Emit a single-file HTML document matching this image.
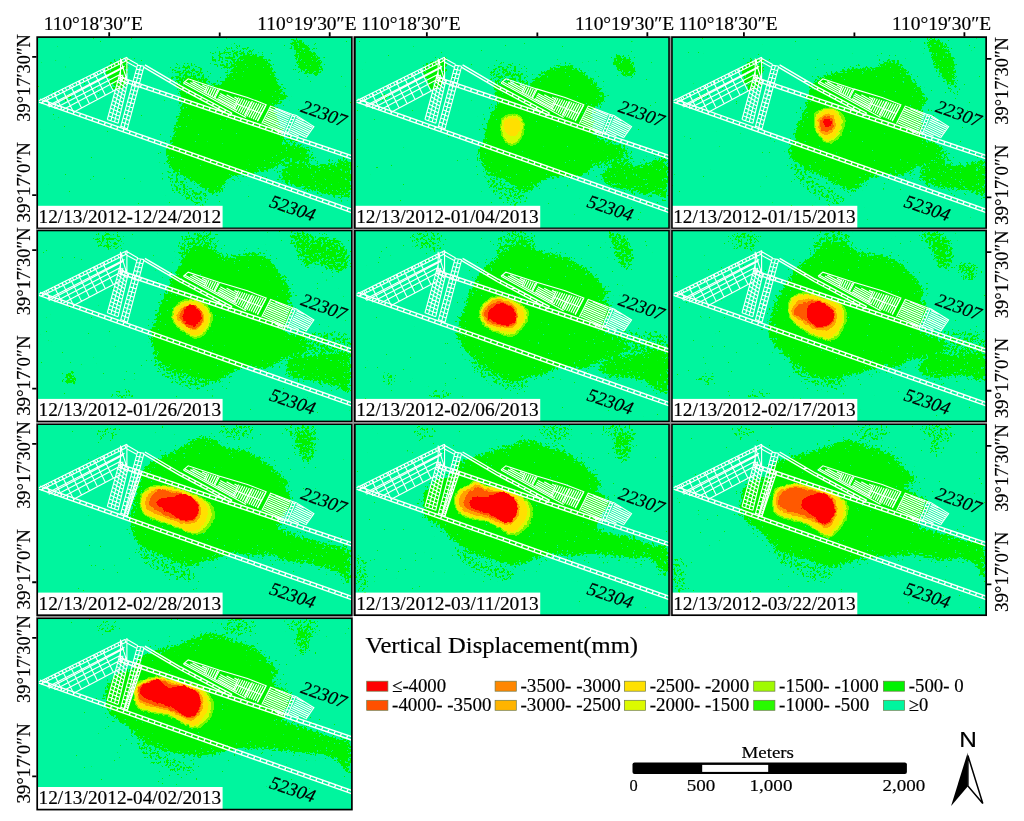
<!DOCTYPE html><html><head><meta charset="utf-8"><title>Vertical Displacement</title>
<style>html,body{margin:0;padding:0;background:#fff}svg{display:block}text{font-family:'Liberation Serif','Times New Roman',serif;fill:#000;stroke:#000;stroke-width:.18px}</style></head><body>
<svg width="1024" height="821" viewBox="0 0 1024 821">
<defs>
<filter id="fg" x="-10%" y="-10%" width="120%" height="120%" color-interpolation-filters="sRGB"><feGaussianBlur in="SourceAlpha" stdDeviation="1.4" result="b1"/><feGaussianBlur in="SourceAlpha" stdDeviation="7" result="b2"/><feComposite in="b1" in2="b2" operator="arithmetic" k1="0" k2="0.5" k3="0.5" k4="0" result="b"/><feTurbulence type="fractalNoise" baseFrequency="0.42" numOctaves="3" seed="7" result="n"/><feComposite in="b" in2="n" operator="arithmetic" k1="0" k2="1" k3="1.5" k4="-0.75" result="m"/><feColorMatrix in="m" type="matrix" values="0 0 0 0 0 0 0 0 0 0.95 0 0 0 0 0 0 0 0 40 -20"/></filter>
<filter id="flime" x="-10%" y="-10%" width="120%" height="120%" color-interpolation-filters="sRGB"><feGaussianBlur in="SourceAlpha" stdDeviation="1.1" result="b"/><feTurbulence type="fractalNoise" baseFrequency="0.3" numOctaves="3" seed="11" result="n"/><feComposite in="b" in2="n" operator="arithmetic" k1="0" k2="1" k3="1.0" k4="-0.5" result="m"/><feColorMatrix in="m" type="matrix" values="0 0 0 0 0.47 0 0 0 0 0.97 0 0 0 0 0 0 0 0 40 -20"/></filter>
<filter id="fyel" x="-10%" y="-10%" width="120%" height="120%" color-interpolation-filters="sRGB"><feGaussianBlur in="SourceAlpha" stdDeviation="1.1" result="b"/><feTurbulence type="fractalNoise" baseFrequency="0.3" numOctaves="3" seed="11" result="n"/><feComposite in="b" in2="n" operator="arithmetic" k1="0" k2="1" k3="1.0" k4="-0.5" result="m"/><feColorMatrix in="m" type="matrix" values="0 0 0 0 1 0 0 0 0 0.88 0 0 0 0 0 0 0 0 40 -20"/></filter>
<filter id="fora" x="-10%" y="-10%" width="120%" height="120%" color-interpolation-filters="sRGB"><feGaussianBlur in="SourceAlpha" stdDeviation="1.1" result="b"/><feTurbulence type="fractalNoise" baseFrequency="0.3" numOctaves="3" seed="11" result="n"/><feComposite in="b" in2="n" operator="arithmetic" k1="0" k2="1" k3="1.0" k4="-0.5" result="m"/><feColorMatrix in="m" type="matrix" values="0 0 0 0 1 0 0 0 0 0.63 0 0 0 0 0 0 0 0 40 -20"/></filter>
<filter id="fore" x="-10%" y="-10%" width="120%" height="120%" color-interpolation-filters="sRGB"><feGaussianBlur in="SourceAlpha" stdDeviation="1.1" result="b"/><feTurbulence type="fractalNoise" baseFrequency="0.3" numOctaves="3" seed="11" result="n"/><feComposite in="b" in2="n" operator="arithmetic" k1="0" k2="1" k3="1.0" k4="-0.5" result="m"/><feColorMatrix in="m" type="matrix" values="0 0 0 0 1 0 0 0 0 0.35 0 0 0 0 0 0 0 0 40 -20"/></filter>
<filter id="fred" x="-10%" y="-10%" width="120%" height="120%" color-interpolation-filters="sRGB"><feGaussianBlur in="SourceAlpha" stdDeviation="1.1" result="b"/><feTurbulence type="fractalNoise" baseFrequency="0.3" numOctaves="3" seed="11" result="n"/><feComposite in="b" in2="n" operator="arithmetic" k1="0" k2="1" k3="1.0" k4="-0.5" result="m"/><feColorMatrix in="m" type="matrix" values="0 0 0 0 1 0 0 0 0 0 0 0 0 0 0 0 0 0 40 -20"/></filter>
<filter id="fygr" x="-10%" y="-10%" width="120%" height="120%" color-interpolation-filters="sRGB"><feGaussianBlur in="SourceAlpha" stdDeviation="1.1" result="b"/><feTurbulence type="fractalNoise" baseFrequency="0.3" numOctaves="3" seed="11" result="n"/><feComposite in="b" in2="n" operator="arithmetic" k1="0" k2="1" k3="1.0" k4="-0.5" result="m"/><feColorMatrix in="m" type="matrix" values="0 0 0 0 0.86 0 0 0 0 0.98 0 0 0 0 0 0 0 0 40 -20"/></filter>
</defs>
<rect width="1024" height="821" fill="#fff"/>
<clipPath id="c0"><rect x="37.2" y="37.1" width="314.7" height="191.3"/></clipPath>
<g clip-path="url(#c0)">
<rect x="37.2" y="37.1" width="314.7" height="191.3" fill="#00f59e"/>
<g filter="url(#fg)" fill="#00f200">
<path d="M182.97 78.96C186.3 76.46 194.46 79.79 199.95 80.96C205.44 82.12 210.94 87.12 215.93 85.95C220.93 84.78 226.26 77.96 229.92 73.96C233.58 69.97 235.25 64.97 237.91 61.97C240.58 58.98 242.91 57.31 245.9 55.98C248.9 54.65 252.56 53.65 255.89 53.98C259.22 54.32 263.22 55.65 265.88 57.98C268.55 60.31 269.88 63.97 271.88 67.97C273.88 71.96 275.87 77.96 277.87 81.95C279.87 85.95 282.2 89.61 283.87 91.94C285.53 94.28 288.2 94.28 287.86 95.94C287.53 97.61 284.2 100.44 281.87 101.93C279.54 103.43 274.54 101.93 273.88 104.93C273.21 107.93 276.54 114.75 277.87 119.92C279.2 125.08 281.87 131.9 281.87 135.9C281.87 139.9 276.54 141.89 277.87 143.89C279.2 145.89 285.86 147.22 289.86 147.89C293.86 148.55 298.85 146.89 301.85 147.89C304.85 148.89 307.84 151.88 307.84 153.88C307.84 155.88 304.85 159.21 301.85 159.88C298.85 160.54 293.52 157.88 289.86 157.88C286.2 157.88 282.53 158.21 279.87 159.88C277.21 161.54 276.87 165.87 273.88 167.87C270.88 169.87 265.88 170.87 261.89 171.86C257.89 172.86 254.56 173.2 249.9 173.86C245.24 174.53 237.91 174.53 233.92 175.86C229.92 177.19 228.26 179.19 225.92 181.85C223.59 184.52 222.26 189.85 219.93 191.84C217.6 193.84 214.6 194.51 211.94 193.84C209.27 193.18 207.61 190.18 203.95 187.85C200.28 185.52 194.62 182.52 189.96 179.86C185.3 177.19 179.64 174.86 175.97 171.86C172.31 168.87 169.65 165.2 167.98 161.87C166.32 158.54 165.32 155.55 165.98 151.88C166.65 148.22 170.31 144.56 171.98 139.9C173.64 135.23 174.64 128.57 175.97 123.91C177.31 119.25 178.97 115.25 179.97 111.92C180.97 108.59 181.97 106.6 181.97 103.93C181.97 101.27 179.8 100.1 179.97 95.94C180.14 91.78 179.64 81.45 182.97 78.96Z"/>
<path d="M106.3 67.25C109.17 63.61 122.95 57.9 126.6 57.9C130.25 57.9 128.72 62.3 128.2 67.25C127.68 72.2 125.85 83.96 123.5 87.6C121.15 91.24 116.45 90.41 114.1 89.1C111.75 87.79 110.7 83.39 109.4 79.75C108.1 76.11 103.43 70.89 106.3 67.25Z"/>
<path d="M62 97C62.67 95.83 68.17 93.67 70 93.5C71.83 93.33 73.67 94.83 73 96C72.33 97.17 67.83 100.33 66 100.5C64.17 100.67 61.33 98.17 62 97Z"/>
<path fill-opacity="0.52" d="M172.64 67.05C176.26 62.91 191.27 60.84 197.48 63.95C203.7 67.05 209.91 79.99 209.91 85.69C209.91 91.38 203.18 97.59 197.48 98.11C191.79 98.63 179.89 93.97 175.75 88.79C171.61 83.62 169.02 71.2 172.64 67.05Z"/>
<path fill-opacity="0.5" d="M253.38 138.48C257.01 134.34 272.53 134.34 281.33 135.38C290.13 136.41 300.48 140.55 306.18 144.69C311.87 148.83 319.12 156.6 315.49 160.22C311.87 163.84 293.75 166.43 284.44 166.43C275.12 166.43 264.77 164.88 259.59 160.22C254.42 155.56 249.76 142.62 253.38 138.48Z"/>
<path fill-opacity="0.5" d="M166.43 166.43C167.98 164.88 174.71 176.78 181.96 181.96C189.2 187.13 207.32 193.6 209.91 197.48C212.49 201.37 203.7 206.28 197.48 205.25C191.27 204.21 177.82 197.74 172.64 191.27C167.46 184.8 164.88 167.98 166.43 166.43Z"/>
<path fill-opacity="0.48" d="M209.91 54.63C212.49 50.49 227.5 46.35 234.75 45.32C242 44.28 252.35 45.32 253.38 48.42C254.42 51.53 246.65 60.33 240.96 63.95C235.27 67.57 224.4 71.71 219.22 70.16C214.05 68.61 207.32 58.77 209.91 54.63Z"/>
<path fill-opacity="0.97" d="M289.86 40C290.53 38.16 294.86 38 297.85 39C300.85 40 304.85 43.49 307.84 45.99C310.84 48.49 313.5 51.32 315.83 53.98C318.17 56.65 320.83 59.31 321.83 61.97C322.83 64.64 322.83 67.64 321.83 69.97C320.83 72.3 318.17 75.29 315.83 75.96C313.5 76.63 310.51 74.96 307.84 73.96C305.18 72.96 301.68 72.3 299.85 69.97C298.02 67.64 297.85 63.31 296.85 59.98C295.85 56.65 295.02 53.32 293.86 49.99C292.69 46.66 289.19 41.83 289.86 40Z"/>
<path fill-opacity="0.93" d="M279.87 173.86C280.87 171.2 286.2 167.54 289.86 165.87C293.52 164.21 297.52 163.87 301.85 163.87C306.18 163.87 311.17 165.87 315.83 165.87C320.5 165.87 325.49 164.87 329.82 163.87C334.15 162.87 338.31 159.88 341.81 159.88C345.3 159.88 349.3 157.88 350.8 163.87C352.3 169.87 352.96 190.51 350.8 195.84C348.63 201.17 342.31 196.17 337.81 195.84C333.32 195.51 328.49 194.84 323.83 193.84C319.16 192.84 314.84 191.18 309.84 189.85C304.85 188.51 298.19 187.18 293.86 185.85C289.53 184.52 286.2 183.85 283.87 181.85C281.54 179.86 278.87 176.53 279.87 173.86Z"/>
</g>
<g fill="none" stroke="#fff" transform="translate(0 0)"><path stroke-width="1.4" d="M38.97 102.09L351.47 212.55M40.03 99.07L352.53 209.54M42.08 103.19L43.14 100.17M48.3 105.38L49.37 102.37M54.52 107.58L55.59 104.57M60.75 109.78L61.81 106.77M66.97 111.98L68.04 108.97M73.19 114.18L74.26 111.17M79.41 116.38L80.48 113.37M85.64 118.58L86.7 115.57M91.86 120.78L92.93 117.77M98.08 122.98L99.15 119.97M104.3 125.18L105.37 122.17M110.53 127.38L111.59 124.36M116.75 129.58L117.82 126.56M122.97 131.78L124.04 128.76M129.2 133.98L130.26 130.96M135.42 136.18L136.48 133.16M141.64 138.38L142.71 135.36M147.86 140.58L148.93 137.56M154.09 142.78L155.15 139.76M160.31 144.98L161.37 141.96M166.53 147.18L167.6 144.16M172.75 149.38L173.82 146.36M178.98 151.58L180.04 148.56M185.2 153.78L186.27 150.76M191.42 155.98L192.49 152.96M197.64 158.18L198.71 155.16M203.87 160.38L204.93 157.36M210.09 162.58L211.16 159.56M216.31 164.78L217.38 161.76M222.53 166.98L223.6 163.96M228.76 169.18L229.82 166.16M234.98 171.38L236.05 168.36M241.2 173.58L242.27 170.56M247.43 175.78L248.49 172.76M253.65 177.98L254.71 174.96M259.87 180.17L260.94 177.16M266.09 182.37L267.16 179.36M272.32 184.57L273.38 181.56M278.54 186.77L279.61 183.76M284.76 188.97L285.83 185.96M290.98 191.17L292.05 188.16M297.21 193.37L298.27 190.36M303.43 195.57L304.5 192.56M309.65 197.77L310.72 194.76M315.87 199.97L316.94 196.96M322.1 202.17L323.16 199.15M328.32 204.37L329.39 201.35M334.54 206.57L335.61 203.55M340.76 208.77L341.83 205.75M346.99 210.97L348.05 207.95M118.49 79.93L351.49 158.91M119.51 76.9L352.51 155.88M121.61 80.99L122.64 77.96M127.86 83.1L128.89 80.07M134.11 85.22L135.14 82.19M140.36 87.34L141.39 84.31M146.61 89.46L147.64 86.43M152.86 91.58L153.89 88.55M159.12 93.7L160.14 90.67M165.37 95.82L166.39 92.79M171.62 97.94L172.64 94.91M177.87 100.06L178.89 97.03M184.12 102.18L185.15 99.14M190.37 104.29L191.4 101.26M196.62 106.41L197.65 103.38M202.87 108.53L203.9 105.5M209.12 110.65L210.15 107.62M215.37 112.77L216.4 109.74M221.62 114.89L222.65 111.86M227.87 117.01L228.9 113.98M234.12 119.13L235.15 116.1M240.37 121.25L241.4 118.22M246.62 123.36L247.65 120.33M252.87 125.48L253.9 122.45M259.12 127.6L260.15 124.57M265.38 129.72L266.4 126.69M271.63 131.84L272.65 128.81M277.88 133.96L278.9 130.93M284.13 136.08L285.15 133.05M290.38 138.2L291.41 135.17M296.63 140.32L297.66 137.29M302.88 142.44L303.91 139.4M309.13 144.55L310.16 141.52M315.38 146.67L316.41 143.64M321.63 148.79L322.66 145.76M327.88 150.91L328.91 147.88M334.13 153.03L335.16 150M340.38 155.15L341.41 152.12M346.63 157.27L347.66 154.24M143.69 67.03L179.39 88.03M144.91 64.97L180.61 85.97M169.55 82.24L170.77 80.18M179.39 88.15L230.89 115.55M180.61 85.85L232.11 113.25M182.39 89.74L183.61 87.45M188.39 92.94L189.62 90.64M194.4 96.13L195.62 93.84M200.4 99.33L201.62 97.03M206.4 102.52L207.63 100.23M212.41 105.71L213.63 103.42M218.41 108.91L219.63 106.61M224.41 112.1L225.63 109.81M230.42 115.3L231.64 113"/><path stroke-width="1.1" d="M38.9 100.8L126.8 57.3M40.9 103.2L127.3 60.3M48.7 107.1L123.9 67.6M54.6 108.6L121 73.9M62.4 110.1L118 80.3M73.1 112.5L119 88.1M47.5 106L124.5 66.2M46.07 97.25L49.65 104.48M54.14 93.26L61.73 108.61M62.2 89.27L73.57 112.25M70.27 85.28L81.53 108.02M78.34 81.28L89.48 103.8M86.4 77.29L97.43 99.57M94.47 73.3L105.38 95.34M102.53 69.31L113.33 91.12M44.17 98.19L46.08 100.63M47.69 96.45L49.54 98.91M51.21 94.71L53 97.19M54.72 92.97L56.45 95.48M58.24 91.23L59.91 93.76M61.75 89.49L63.36 92.05M65.27 87.75L66.82 90.33M68.79 86.01L70.28 88.61M72.3 84.27L73.73 86.9M75.82 82.53L77.19 85.18M79.33 80.79L80.64 83.47M82.85 79.05L84.1 81.75M86.37 77.31L87.56 80.03M89.88 75.57L91.01 78.32M93.4 73.83L94.47 76.6M96.91 72.09L97.92 74.89M100.43 70.35L101.38 73.17M103.95 68.61L104.84 71.45M107.46 66.87L108.29 69.74M110.98 65.13L111.75 68.02M114.49 63.39L115.2 66.31M118.01 61.65L118.66 64.59M121.53 59.91L122.12 62.87M125.04 58.17L125.57 61.16M120.5 58.5L120.5 82M126.9 57L126.9 80M120.5 60L126.9 80M120.3 72L107.3 119.5M123 74.6L110.9 120.77M125.7 77.2L114.5 122.05M128.4 79.8L118.1 123.32M119.78 73.9L127.99 81.54M118.74 77.7L127.16 85.02M117.7 81.5L126.34 88.5M116.66 85.3L125.52 91.98M115.62 89.1L124.69 95.46M114.58 92.9L123.87 98.94M113.54 96.7L123.04 102.42M112.5 100.5L122.22 105.9M111.46 104.3L121.4 109.38M110.42 108.1L120.57 112.86M109.38 111.9L119.75 116.34M108.34 115.7L118.92 119.82M107.3 119.5L118.1 123.3M137.5 65.1L120.5 127.3M144 66.3L127 130.2M140.75 65.7L123.75 128.75M137.5 65.1L144 66.3M136.39 69.16L142.89 70.47M135.28 73.23L141.78 74.65M134.17 77.29L140.67 78.82M133.06 81.35L139.56 83M131.95 85.42L138.45 87.17M130.84 89.48L137.34 91.35M129.73 93.55L136.23 95.52M128.61 97.61L135.11 99.7M127.5 101.67L134 103.87M126.39 105.74L132.89 108.05M125.28 109.8L131.78 112.22M124.17 113.86L130.67 116.4M123.06 117.93L129.56 120.57M121.95 121.99L128.45 124.75M120.84 126.06L127.34 128.92M127.2 58.5L138 64.6M126.9 62L137 67.5M183.4 82.9L188.2 78.8L219 88.9L247.5 97.4L266.2 104.7L257.5 121.3M261.8 123.5L270.6 106.1L291.9 114.2L296.3 115.6L313.9 126.6L305.8 138M183.4 82.9L246 117.5M184.5 81.6L237 110.6M207.3 86L204.6 92.5M219.3 89.6L214.9 97.9M238.6 97.4L233.6 108.6M252.5 101.3L245.2 115.9M235.8 103.6L248.6 108.6M249.2 108.9L261.6 113.4M292.72 114.22L284.42 134.02M295.48 115.38L287.18 135.18M292.06 115.79L294.83 116.95M290.74 118.92L293.51 120.08M289.43 122.06L292.2 123.22M288.12 125.19L290.88 126.35M286.8 128.33L289.57 129.49M285.49 131.47L288.25 132.63"/><path stroke-width="1.2" d="M202.17 84.81L206.62 87.27M192.52 81.63L205.85 89.02M205.08 90.76L190.3 82.57M209.01 86.75L205.92 93.07M211.23 87.44L207.97 94.13M213.45 88.13L210.01 95.18M215.67 88.82L212.06 96.24M217.89 89.52L214.1 97.29M234.47 97.01L238 98.96M226.62 94.83L237.2 100.69M236.39 102.42L220.21 93.45M235.59 104.15L219.28 95.1M234.79 105.87L218.35 96.76M233.99 107.6L217.42 98.42M240.42 98.15L234.51 109.26M242.66 98.84L236.48 110.46M244.89 99.53L238.44 111.66M247.13 100.22L240.41 112.85M249.37 100.92L242.38 114.05M251.6 101.61L244.35 115.25M254.33 102.22L246.74 116.5M256.6 102.85L248.88 117.37M258.87 103.48L251.03 118.24M261.14 104.11L253.17 119.1M263.41 104.74L255.31 119.97M265.68 105.37L257.46 120.84M275.13 108.43L290.64 115.33M289.91 117.2L270.04 108.35M289.18 119.06L269.16 110.15M288.45 120.93L268.27 111.94M287.73 122.79L267.39 113.74M287 124.66L266.51 115.54M286.27 126.52L265.63 117.33M285.54 128.39L264.74 119.13M284.82 130.26L263.86 120.93M284.09 132.12L262.98 122.72M283.36 133.99L275.05 130.29M303.93 120.94L296.46 117.3M312.59 127.39L295.58 119.1M311.45 129.06L294.7 120.89M310.31 130.73L293.83 122.69M309.17 132.4L292.95 124.49M308.02 134.06L292.07 126.28M306.88 135.73L291.19 128.08M305.74 137.4L290.31 129.88M298.9 136.29L289.43 131.67M291.29 134.8L288.56 133.47"/></g>
<text font-style="italic" font-size="18.8" stroke="#000" stroke-width="0.25" transform="translate(299.7 111.4) rotate(19.8)" textLength="47" lengthAdjust="spacingAndGlyphs">22307</text>
<text font-style="italic" font-size="18.8" stroke="#000" stroke-width="0.25" transform="translate(268.4 206.6) rotate(18.6)" textLength="47" lengthAdjust="spacingAndGlyphs">52304</text>
<rect x="37.2" y="205.8" width="185.4" height="22.6" fill="#fff"/>
<text x="38.5" y="223.2" font-size="19" stroke="#000" stroke-width="0.2" textLength="182.6" lengthAdjust="spacingAndGlyphs">12/13/2012-12/24/2012</text>
</g>
<rect x="37.2" y="37.1" width="314.7" height="191.3" fill="none" stroke="#000" stroke-width="1.7"/>
<clipPath id="c1"><rect x="354.85" y="37.1" width="314.25" height="191.3"/></clipPath>
<g clip-path="url(#c1)">
<rect x="354.85" y="37.1" width="314.25" height="191.3" fill="#00f59e"/>
<g filter="url(#fg)" fill="#00f200">
<path d="M497.14 84.04C499.65 82.6 505.41 83.32 510.08 84.04C514.75 84.76 520.86 89.43 525.18 88.35C529.49 87.27 532.73 80.44 535.96 77.57C539.2 74.69 541.35 72.9 544.59 71.1C547.82 69.3 551.42 67.86 555.37 66.78C559.33 65.71 564 63.91 568.31 64.63C572.63 65.35 577.3 68.58 581.25 71.1C585.21 73.61 588.8 76.49 592.04 79.73C595.27 82.96 598.51 87.27 600.67 90.51C602.82 93.75 604.98 96.62 604.98 99.14C604.98 101.65 602.82 103.81 600.67 105.61C598.51 107.41 593.12 106.69 592.04 109.92C590.96 113.16 593.48 120.35 594.2 125.02C594.92 129.69 594.56 135.08 596.35 137.96C598.15 140.84 601.39 140.84 604.98 142.27C608.58 143.71 614.69 145.15 617.92 146.59C621.16 148.03 624.39 149.1 624.39 150.9C624.39 152.7 621.16 155.93 617.92 157.37C614.69 158.81 608.93 158.45 604.98 159.53C601.03 160.61 597.07 161.69 594.2 163.84C591.32 166 590.96 170.31 587.73 172.47C584.49 174.63 579.82 176.07 574.78 176.78C569.75 177.5 562.56 176.42 557.53 176.78C552.5 177.14 548.18 177.5 544.59 178.94C540.99 180.38 538.84 183.25 535.96 185.41C533.08 187.57 530.21 191.16 527.33 191.88C524.46 192.6 521.94 191.52 518.71 189.73C515.47 187.93 512.24 183.61 507.92 181.1C503.61 178.58 497.14 177.5 492.82 174.63C488.51 171.75 484.56 167.44 482.04 163.84C479.52 160.25 477.73 156.65 477.73 153.06C477.73 149.46 480.6 146.59 482.04 142.27C483.48 137.96 484.92 131.85 486.35 127.18C487.79 122.5 488.87 118.19 490.67 114.24C492.46 110.28 496.42 107.05 497.14 103.45C497.86 99.86 494.98 95.9 494.98 92.67C494.98 89.43 494.62 85.48 497.14 84.04Z"/>
<path d="M423.95 67.25C426.82 63.61 440.6 57.9 444.25 57.9C447.9 57.9 446.37 62.3 445.85 67.25C445.33 72.2 443.5 83.96 441.15 87.6C438.8 91.24 434.1 90.41 431.75 89.1C429.4 87.79 428.35 83.39 427.05 79.75C425.75 76.11 421.08 70.89 423.95 67.25Z"/>
<path d="M379.65 97C380.32 95.83 385.82 93.67 387.65 93.5C389.48 93.33 391.32 94.83 390.65 96C389.98 97.17 385.48 100.33 383.65 100.5C381.82 100.67 378.98 98.17 379.65 97Z"/>
<path fill-opacity="0.52" d="M490.64 67.05C494.26 62.91 509.27 60.84 515.48 63.95C521.7 67.05 527.91 79.99 527.91 85.69C527.91 91.38 521.18 97.59 515.48 98.11C509.79 98.63 497.89 93.97 493.75 88.79C489.61 83.62 487.02 71.2 490.64 67.05Z"/>
<path fill-opacity="0.5" d="M571.38 138.48C575.01 134.34 590.53 134.34 599.33 135.38C608.13 136.41 618.48 140.55 624.18 144.69C629.87 148.83 637.12 156.6 633.49 160.22C629.87 163.84 611.75 166.43 602.44 166.43C593.12 166.43 582.77 164.88 577.59 160.22C572.42 155.56 567.76 142.62 571.38 138.48Z"/>
<path fill-opacity="0.5" d="M484.43 166.43C485.98 164.88 492.71 176.78 499.96 181.96C507.2 187.13 525.32 193.6 527.91 197.48C530.49 201.37 521.7 206.28 515.48 205.25C509.27 204.21 495.82 197.74 490.64 191.27C485.46 184.8 482.88 167.98 484.43 166.43Z"/>
<path fill-opacity="0.97" d="M612.53 56C614.15 54.56 620.98 54.92 624.39 56C627.81 57.08 631.22 59.59 633.02 62.47C634.82 65.35 635.9 70.74 635.18 73.25C634.46 75.77 631.22 77.57 628.71 77.57C626.19 77.57 622.42 75.41 620.08 73.25C617.74 71.1 615.94 67.5 614.69 64.63C613.43 61.75 610.91 57.44 612.53 56Z"/>
<path fill-opacity="0.93" d="M600.67 176.78C600.67 173.91 605.34 170.31 609.29 168.16C613.25 166 619.72 164.2 624.39 163.84C629.07 163.48 632.66 166.36 637.33 166C642.01 165.64 647.58 162.76 652.43 161.69C657.28 160.61 664.11 153.42 666.45 159.53C668.79 165.64 668.07 192.6 666.45 198.35C664.83 204.1 660.52 194.76 656.75 194.04C652.97 193.32 648.84 194.76 643.8 194.04C638.77 193.32 632.3 191.16 626.55 189.73C620.8 188.29 613.61 187.57 609.29 185.41C604.98 183.25 600.67 179.66 600.67 176.78Z"/>
</g>
<g filter="url(#flime)" fill="#78f800">
<path d="M501.02 120.71C501.99 118.37 503.18 116.46 505.76 115.31C508.35 114.16 513.67 113.08 516.55 113.8C519.42 114.52 521.69 117.04 523.02 119.63C524.35 122.22 525.07 125.74 524.53 129.33C523.99 132.93 522.01 138.39 519.78 141.2C517.56 144 513.85 146.34 511.16 146.16C508.46 145.98 505.48 142.92 503.61 140.12C501.74 137.31 500.37 132.57 499.94 129.33C499.51 126.1 500.05 123.04 501.02 120.71Z"/>
</g>
<g filter="url(#fygr)" fill="#dcfa00">
<path d="M502.53 120.71C503.39 118.62 504.51 117.69 506.84 116.82C509.18 115.96 514.07 114.88 516.55 115.53C519.03 116.18 520.68 118.41 521.73 120.71C522.77 123.01 523.34 126.17 522.8 129.33C522.26 132.5 520.43 137.24 518.49 139.69C516.55 142.13 513.42 144.14 511.16 144C508.89 143.86 506.48 141.27 504.9 138.82C503.32 136.38 502.06 132.35 501.67 129.33C501.27 126.31 501.67 122.79 502.53 120.71Z"/>
</g>
<g filter="url(#fyel)" fill="#ffe100">
<path d="M504.04 121.78C504.76 120.35 505.91 119.23 507.92 118.55C509.93 117.87 514.14 117.04 516.12 117.69C518.09 118.33 519.14 120.56 519.78 122.43C520.43 124.3 520.54 126.85 520 128.9C519.46 130.95 518.13 133.5 516.55 134.73C514.97 135.95 512.31 136.59 510.51 136.24C508.71 135.88 506.92 134.08 505.76 132.57C504.61 131.06 503.9 128.97 503.61 127.18C503.32 125.38 503.32 123.22 504.04 121.78Z"/>
</g>
<g fill="none" stroke="#fff" transform="translate(317.65 0)"><path stroke-width="1.4" d="M38.97 102.09L351.47 212.55M40.03 99.07L352.53 209.54M42.08 103.19L43.14 100.17M48.3 105.38L49.37 102.37M54.52 107.58L55.59 104.57M60.75 109.78L61.81 106.77M66.97 111.98L68.04 108.97M73.19 114.18L74.26 111.17M79.41 116.38L80.48 113.37M85.64 118.58L86.7 115.57M91.86 120.78L92.93 117.77M98.08 122.98L99.15 119.97M104.3 125.18L105.37 122.17M110.53 127.38L111.59 124.36M116.75 129.58L117.82 126.56M122.97 131.78L124.04 128.76M129.2 133.98L130.26 130.96M135.42 136.18L136.48 133.16M141.64 138.38L142.71 135.36M147.86 140.58L148.93 137.56M154.09 142.78L155.15 139.76M160.31 144.98L161.37 141.96M166.53 147.18L167.6 144.16M172.75 149.38L173.82 146.36M178.98 151.58L180.04 148.56M185.2 153.78L186.27 150.76M191.42 155.98L192.49 152.96M197.64 158.18L198.71 155.16M203.87 160.38L204.93 157.36M210.09 162.58L211.16 159.56M216.31 164.78L217.38 161.76M222.53 166.98L223.6 163.96M228.76 169.18L229.82 166.16M234.98 171.38L236.05 168.36M241.2 173.58L242.27 170.56M247.43 175.78L248.49 172.76M253.65 177.98L254.71 174.96M259.87 180.17L260.94 177.16M266.09 182.37L267.16 179.36M272.32 184.57L273.38 181.56M278.54 186.77L279.61 183.76M284.76 188.97L285.83 185.96M290.98 191.17L292.05 188.16M297.21 193.37L298.27 190.36M303.43 195.57L304.5 192.56M309.65 197.77L310.72 194.76M315.87 199.97L316.94 196.96M322.1 202.17L323.16 199.15M328.32 204.37L329.39 201.35M334.54 206.57L335.61 203.55M340.76 208.77L341.83 205.75M346.99 210.97L348.05 207.95M118.49 79.93L351.49 158.91M119.51 76.9L352.51 155.88M121.61 80.99L122.64 77.96M127.86 83.1L128.89 80.07M134.11 85.22L135.14 82.19M140.36 87.34L141.39 84.31M146.61 89.46L147.64 86.43M152.86 91.58L153.89 88.55M159.12 93.7L160.14 90.67M165.37 95.82L166.39 92.79M171.62 97.94L172.64 94.91M177.87 100.06L178.89 97.03M184.12 102.18L185.15 99.14M190.37 104.29L191.4 101.26M196.62 106.41L197.65 103.38M202.87 108.53L203.9 105.5M209.12 110.65L210.15 107.62M215.37 112.77L216.4 109.74M221.62 114.89L222.65 111.86M227.87 117.01L228.9 113.98M234.12 119.13L235.15 116.1M240.37 121.25L241.4 118.22M246.62 123.36L247.65 120.33M252.87 125.48L253.9 122.45M259.12 127.6L260.15 124.57M265.38 129.72L266.4 126.69M271.63 131.84L272.65 128.81M277.88 133.96L278.9 130.93M284.13 136.08L285.15 133.05M290.38 138.2L291.41 135.17M296.63 140.32L297.66 137.29M302.88 142.44L303.91 139.4M309.13 144.55L310.16 141.52M315.38 146.67L316.41 143.64M321.63 148.79L322.66 145.76M327.88 150.91L328.91 147.88M334.13 153.03L335.16 150M340.38 155.15L341.41 152.12M346.63 157.27L347.66 154.24M143.69 67.03L179.39 88.03M144.91 64.97L180.61 85.97M169.55 82.24L170.77 80.18M179.39 88.15L230.89 115.55M180.61 85.85L232.11 113.25M182.39 89.74L183.61 87.45M188.39 92.94L189.62 90.64M194.4 96.13L195.62 93.84M200.4 99.33L201.62 97.03M206.4 102.52L207.63 100.23M212.41 105.71L213.63 103.42M218.41 108.91L219.63 106.61M224.41 112.1L225.63 109.81M230.42 115.3L231.64 113"/><path stroke-width="1.1" d="M38.9 100.8L126.8 57.3M40.9 103.2L127.3 60.3M48.7 107.1L123.9 67.6M54.6 108.6L121 73.9M62.4 110.1L118 80.3M73.1 112.5L119 88.1M47.5 106L124.5 66.2M46.07 97.25L49.65 104.48M54.14 93.26L61.73 108.61M62.2 89.27L73.57 112.25M70.27 85.28L81.53 108.02M78.34 81.28L89.48 103.8M86.4 77.29L97.43 99.57M94.47 73.3L105.38 95.34M102.53 69.31L113.33 91.12M44.17 98.19L46.08 100.63M47.69 96.45L49.54 98.91M51.21 94.71L53 97.19M54.72 92.97L56.45 95.48M58.24 91.23L59.91 93.76M61.75 89.49L63.36 92.05M65.27 87.75L66.82 90.33M68.79 86.01L70.28 88.61M72.3 84.27L73.73 86.9M75.82 82.53L77.19 85.18M79.33 80.79L80.64 83.47M82.85 79.05L84.1 81.75M86.37 77.31L87.56 80.03M89.88 75.57L91.01 78.32M93.4 73.83L94.47 76.6M96.91 72.09L97.92 74.89M100.43 70.35L101.38 73.17M103.95 68.61L104.84 71.45M107.46 66.87L108.29 69.74M110.98 65.13L111.75 68.02M114.49 63.39L115.2 66.31M118.01 61.65L118.66 64.59M121.53 59.91L122.12 62.87M125.04 58.17L125.57 61.16M120.5 58.5L120.5 82M126.9 57L126.9 80M120.5 60L126.9 80M120.3 72L107.3 119.5M123 74.6L110.9 120.77M125.7 77.2L114.5 122.05M128.4 79.8L118.1 123.32M119.78 73.9L127.99 81.54M118.74 77.7L127.16 85.02M117.7 81.5L126.34 88.5M116.66 85.3L125.52 91.98M115.62 89.1L124.69 95.46M114.58 92.9L123.87 98.94M113.54 96.7L123.04 102.42M112.5 100.5L122.22 105.9M111.46 104.3L121.4 109.38M110.42 108.1L120.57 112.86M109.38 111.9L119.75 116.34M108.34 115.7L118.92 119.82M107.3 119.5L118.1 123.3M137.5 65.1L120.5 127.3M144 66.3L127 130.2M140.75 65.7L123.75 128.75M137.5 65.1L144 66.3M136.39 69.16L142.89 70.47M135.28 73.23L141.78 74.65M134.17 77.29L140.67 78.82M133.06 81.35L139.56 83M131.95 85.42L138.45 87.17M130.84 89.48L137.34 91.35M129.73 93.55L136.23 95.52M128.61 97.61L135.11 99.7M127.5 101.67L134 103.87M126.39 105.74L132.89 108.05M125.28 109.8L131.78 112.22M124.17 113.86L130.67 116.4M123.06 117.93L129.56 120.57M121.95 121.99L128.45 124.75M120.84 126.06L127.34 128.92M127.2 58.5L138 64.6M126.9 62L137 67.5M183.4 82.9L188.2 78.8L219 88.9L247.5 97.4L266.2 104.7L257.5 121.3M261.8 123.5L270.6 106.1L291.9 114.2L296.3 115.6L313.9 126.6L305.8 138M183.4 82.9L246 117.5M184.5 81.6L237 110.6M207.3 86L204.6 92.5M219.3 89.6L214.9 97.9M238.6 97.4L233.6 108.6M252.5 101.3L245.2 115.9M235.8 103.6L248.6 108.6M249.2 108.9L261.6 113.4M292.72 114.22L284.42 134.02M295.48 115.38L287.18 135.18M292.06 115.79L294.83 116.95M290.74 118.92L293.51 120.08M289.43 122.06L292.2 123.22M288.12 125.19L290.88 126.35M286.8 128.33L289.57 129.49M285.49 131.47L288.25 132.63"/><path stroke-width="1.2" d="M202.17 84.81L206.62 87.27M192.52 81.63L205.85 89.02M205.08 90.76L190.3 82.57M209.01 86.75L205.92 93.07M211.23 87.44L207.97 94.13M213.45 88.13L210.01 95.18M215.67 88.82L212.06 96.24M217.89 89.52L214.1 97.29M234.47 97.01L238 98.96M226.62 94.83L237.2 100.69M236.39 102.42L220.21 93.45M235.59 104.15L219.28 95.1M234.79 105.87L218.35 96.76M233.99 107.6L217.42 98.42M240.42 98.15L234.51 109.26M242.66 98.84L236.48 110.46M244.89 99.53L238.44 111.66M247.13 100.22L240.41 112.85M249.37 100.92L242.38 114.05M251.6 101.61L244.35 115.25M254.33 102.22L246.74 116.5M256.6 102.85L248.88 117.37M258.87 103.48L251.03 118.24M261.14 104.11L253.17 119.1M263.41 104.74L255.31 119.97M265.68 105.37L257.46 120.84M275.13 108.43L290.64 115.33M289.91 117.2L270.04 108.35M289.18 119.06L269.16 110.15M288.45 120.93L268.27 111.94M287.73 122.79L267.39 113.74M287 124.66L266.51 115.54M286.27 126.52L265.63 117.33M285.54 128.39L264.74 119.13M284.82 130.26L263.86 120.93M284.09 132.12L262.98 122.72M283.36 133.99L275.05 130.29M303.93 120.94L296.46 117.3M312.59 127.39L295.58 119.1M311.45 129.06L294.7 120.89M310.31 130.73L293.83 122.69M309.17 132.4L292.95 124.49M308.02 134.06L292.07 126.28M306.88 135.73L291.19 128.08M305.74 137.4L290.31 129.88M298.9 136.29L289.43 131.67M291.29 134.8L288.56 133.47"/></g>
<text font-style="italic" font-size="18.8" stroke="#000" stroke-width="0.25" transform="translate(617.35 111.4) rotate(19.8)" textLength="47" lengthAdjust="spacingAndGlyphs">22307</text>
<text font-style="italic" font-size="18.8" stroke="#000" stroke-width="0.25" transform="translate(586.05 206.6) rotate(18.6)" textLength="47" lengthAdjust="spacingAndGlyphs">52304</text>
<rect x="354.85" y="205.8" width="185.4" height="22.6" fill="#fff"/>
<text x="356.15" y="223.2" font-size="19" stroke="#000" stroke-width="0.2" textLength="182.6" lengthAdjust="spacingAndGlyphs">12/13/2012-01/04/2013</text>
</g>
<rect x="354.85" y="37.1" width="314.25" height="191.3" fill="none" stroke="#000" stroke-width="1.7"/>
<clipPath id="c2"><rect x="671.9" y="37.1" width="314.25" height="191.3"/></clipPath>
<g clip-path="url(#c2)">
<rect x="671.9" y="37.1" width="314.25" height="191.3" fill="#00f59e"/>
<g filter="url(#fg)" fill="#00f200">
<path d="M809.82 87.76C811.98 83.81 816.29 79.5 820.61 76.98C824.92 74.46 830.67 74.1 835.71 72.67C840.74 71.23 845.77 69.07 850.8 68.35C855.84 67.63 861.23 68.71 865.9 68.35C870.58 67.99 874.53 67.63 878.84 66.2C883.16 64.76 888.19 60.08 891.78 59.73C895.38 59.37 897.54 61.52 900.41 64.04C903.29 66.56 906.16 71.23 909.04 74.82C911.92 78.42 915.15 82.37 917.67 85.61C920.18 88.84 922.7 91.72 924.14 94.24C925.58 96.75 926.65 98.55 926.29 100.71C925.93 102.86 922.7 103.58 921.98 107.18C921.26 110.77 921.98 116.88 921.98 122.27C921.98 127.67 919.82 135.93 921.98 139.53C924.14 143.12 931.69 142.05 934.92 143.84C938.16 145.64 941.03 147.8 941.39 150.31C941.75 152.83 939.59 156.78 937.08 158.94C934.56 161.1 929.53 162.18 926.29 163.25C923.06 164.33 920.54 163.97 917.67 165.41C914.79 166.85 912.63 170.08 909.04 171.88C905.44 173.68 900.41 175.84 896.1 176.2C891.78 176.56 887.11 174.04 883.16 174.04C879.2 174.04 875.61 174.76 872.37 176.2C869.14 177.63 866.98 180.15 863.75 182.67C860.51 185.18 856.56 190.58 852.96 191.29C849.37 192.01 845.41 188.42 842.18 186.98C838.94 185.54 836.78 184.46 833.55 182.67C830.31 180.87 827.08 178.35 822.76 176.2C818.45 174.04 812.34 172.24 807.67 169.73C802.99 167.21 797.96 164.33 794.73 161.1C791.49 157.86 788.25 153.91 788.25 150.31C788.25 146.72 793.29 143.48 794.73 139.53C796.16 135.58 795.44 130.9 796.88 126.59C798.32 122.27 801.56 117.96 803.35 113.65C805.15 109.33 806.59 105.02 807.67 100.71C808.75 96.39 807.67 91.72 809.82 87.76Z"/>
<path d="M741 67.25C743.87 63.61 757.65 57.9 761.3 57.9C764.95 57.9 763.42 62.3 762.9 67.25C762.38 72.2 760.55 83.96 758.2 87.6C755.85 91.24 751.15 90.41 748.8 89.1C746.45 87.79 745.4 83.39 744.1 79.75C742.8 76.11 738.13 70.89 741 67.25Z"/>
<path d="M696.7 97C697.37 95.83 702.87 93.67 704.7 93.5C706.53 93.33 708.37 94.83 707.7 96C707.03 97.17 702.53 100.33 700.7 100.5C698.87 100.67 696.03 98.17 696.7 97Z"/>
<path fill-opacity="0.5" d="M888.38 138.48C892.01 134.34 907.53 134.34 916.33 135.38C925.13 136.41 935.48 140.55 941.18 144.69C946.87 148.83 954.12 156.6 950.49 160.22C946.87 163.84 928.75 166.43 919.44 166.43C910.12 166.43 899.77 164.88 894.59 160.22C889.42 155.56 884.76 142.62 888.38 138.48Z"/>
<path fill-opacity="0.5" d="M789.01 160.22C791.6 159.7 807.64 175.75 816.96 181.96C826.27 188.17 842.32 193.6 844.91 197.48C847.49 201.37 839.73 207.32 832.48 205.25C825.24 203.18 808.68 192.57 801.43 185.06C794.18 177.56 786.42 160.74 789.01 160.22Z"/>
<path fill-opacity="0.48" d="M950.49 76.37C952.56 75.85 959.03 82.06 959.81 85.69C960.58 89.31 957.22 97.59 955.15 98.11C953.08 98.63 948.16 92.42 947.39 88.79C946.61 85.17 948.42 76.89 950.49 76.37Z"/>
<path fill-opacity="0.97" d="M926.29 40.31C927.37 37.8 933.48 36.72 937.08 38.16C940.67 39.59 944.99 44.99 947.86 48.94C950.74 52.9 953.08 57.21 954.33 61.88C955.59 66.56 956.13 73.39 955.41 76.98C954.69 80.58 952.36 83.45 950.02 83.45C947.68 83.45 943.91 79.86 941.39 76.98C938.88 74.1 936.72 70.15 934.92 66.2C933.12 62.24 932.05 57.57 930.61 53.25C929.17 48.94 925.22 42.83 926.29 40.31Z"/>
<path fill-opacity="0.93" d="M919.82 174.04C920.54 171.16 924.5 167.21 928.45 165.41C932.41 163.61 938.88 163.25 943.55 163.25C948.22 163.25 951.82 165.41 956.49 165.41C961.16 165.41 966.92 163.97 971.59 163.25C976.26 162.54 982.37 155.71 984.53 161.1C986.69 166.49 986.69 190.58 984.53 195.61C982.37 200.64 976.26 192.37 971.59 191.29C966.92 190.22 961.88 189.86 956.49 189.14C951.1 188.42 944.63 188.06 939.24 186.98C933.84 185.9 927.37 184.82 924.14 182.67C920.9 180.51 919.1 176.92 919.82 174.04Z"/>
</g>
<g filter="url(#flime)" fill="#78f800">
<path d="M814.14 115.8C815.04 112.21 817.73 110.77 820.61 109.33C823.48 107.9 828.16 106.82 831.39 107.18C834.63 107.54 837.68 109.33 840.02 111.49C842.36 113.65 844.87 116.88 845.41 120.12C845.95 123.35 844.51 127.67 843.25 130.9C842 134.14 840.2 137.37 837.86 139.53C835.53 141.69 831.93 143.84 829.24 143.84C826.54 143.84 824.02 141.69 821.69 139.53C819.35 137.37 816.47 134.86 815.22 130.9C813.96 126.95 813.24 119.4 814.14 115.8Z"/>
</g>
<g filter="url(#fygr)" fill="#dcfa00">
<path d="M815.22 116.88C816.19 113.75 818.92 111.78 821.69 110.41C824.45 109.05 828.84 108.08 831.82 108.69C834.81 109.3 837.75 111.63 839.59 114.08C841.42 116.52 842.68 120.55 842.82 123.35C842.97 126.16 841.57 128.49 840.45 130.9C839.34 133.31 838.19 136.01 836.14 137.8C834.09 139.6 830.67 141.76 828.16 141.69C825.64 141.61 823.09 139.46 821.04 137.37C818.99 135.29 816.83 132.59 815.86 129.18C814.89 125.76 814.25 120.01 815.22 116.88Z"/>
</g>
<g filter="url(#fyel)" fill="#ffe100">
<path d="M816.29 117.96C817.3 115.26 820.07 112.75 822.76 111.49C825.46 110.23 829.77 109.51 832.47 110.41C835.17 111.31 837.68 114.19 838.94 116.88C840.2 119.58 840.74 123.35 840.02 126.59C839.3 129.82 836.78 134.14 834.63 136.29C832.47 138.45 829.42 139.71 827.08 139.53C824.74 139.35 822.33 137.19 820.61 135.22C818.88 133.24 817.44 130.54 816.73 127.67C816.01 124.79 815.29 120.66 816.29 117.96Z"/>
</g>
<g filter="url(#fora)" fill="#ffa000">
<path d="M818.45 120.12C819.28 117.96 821.69 115.8 823.84 114.73C826 113.65 829.49 112.75 831.39 113.65C833.3 114.55 834.74 117.6 835.27 120.12C835.81 122.63 835.63 126.41 834.63 128.75C833.62 131.08 831.21 133.24 829.24 134.14C827.26 135.04 824.49 135.22 822.76 134.14C821.04 133.06 819.6 130 818.88 127.67C818.16 125.33 817.62 122.27 818.45 120.12Z"/>
</g>
<g filter="url(#fore)" fill="#ff5a00">
<path d="M819.53 121.2C820.07 118.86 822.94 117.6 824.92 116.88C826.9 116.16 829.95 115.98 831.39 116.88C832.83 117.78 833.37 120.3 833.55 122.27C833.73 124.25 833.55 127.13 832.47 128.75C831.39 130.36 828.88 131.62 827.08 131.98C825.28 132.34 822.94 132.7 821.69 130.9C820.43 129.1 818.99 123.53 819.53 121.2Z"/>
</g>
<g filter="url(#fred)" fill="#ff0000">
<path d="M823.84 120.55C824.67 119.36 827.55 117.92 828.8 118.39C830.06 118.86 831.61 121.81 831.39 123.35C831.18 124.9 828.77 127.31 827.51 127.67C826.25 128.03 824.45 126.7 823.84 125.51C823.23 124.32 823.02 121.74 823.84 120.55Z"/>
</g>
<g fill="none" stroke="#fff" transform="translate(634.7 0)"><path stroke-width="1.4" d="M38.97 102.09L351.47 212.55M40.03 99.07L352.53 209.54M42.08 103.19L43.14 100.17M48.3 105.38L49.37 102.37M54.52 107.58L55.59 104.57M60.75 109.78L61.81 106.77M66.97 111.98L68.04 108.97M73.19 114.18L74.26 111.17M79.41 116.38L80.48 113.37M85.64 118.58L86.7 115.57M91.86 120.78L92.93 117.77M98.08 122.98L99.15 119.97M104.3 125.18L105.37 122.17M110.53 127.38L111.59 124.36M116.75 129.58L117.82 126.56M122.97 131.78L124.04 128.76M129.2 133.98L130.26 130.96M135.42 136.18L136.48 133.16M141.64 138.38L142.71 135.36M147.86 140.58L148.93 137.56M154.09 142.78L155.15 139.76M160.31 144.98L161.37 141.96M166.53 147.18L167.6 144.16M172.75 149.38L173.82 146.36M178.98 151.58L180.04 148.56M185.2 153.78L186.27 150.76M191.42 155.98L192.49 152.96M197.64 158.18L198.71 155.16M203.87 160.38L204.93 157.36M210.09 162.58L211.16 159.56M216.31 164.78L217.38 161.76M222.53 166.98L223.6 163.96M228.76 169.18L229.82 166.16M234.98 171.38L236.05 168.36M241.2 173.58L242.27 170.56M247.43 175.78L248.49 172.76M253.65 177.98L254.71 174.96M259.87 180.17L260.94 177.16M266.09 182.37L267.16 179.36M272.32 184.57L273.38 181.56M278.54 186.77L279.61 183.76M284.76 188.97L285.83 185.96M290.98 191.17L292.05 188.16M297.21 193.37L298.27 190.36M303.43 195.57L304.5 192.56M309.65 197.77L310.72 194.76M315.87 199.97L316.94 196.96M322.1 202.17L323.16 199.15M328.32 204.37L329.39 201.35M334.54 206.57L335.61 203.55M340.76 208.77L341.83 205.75M346.99 210.97L348.05 207.95M118.49 79.93L351.49 158.91M119.51 76.9L352.51 155.88M121.61 80.99L122.64 77.96M127.86 83.1L128.89 80.07M134.11 85.22L135.14 82.19M140.36 87.34L141.39 84.31M146.61 89.46L147.64 86.43M152.86 91.58L153.89 88.55M159.12 93.7L160.14 90.67M165.37 95.82L166.39 92.79M171.62 97.94L172.64 94.91M177.87 100.06L178.89 97.03M184.12 102.18L185.15 99.14M190.37 104.29L191.4 101.26M196.62 106.41L197.65 103.38M202.87 108.53L203.9 105.5M209.12 110.65L210.15 107.62M215.37 112.77L216.4 109.74M221.62 114.89L222.65 111.86M227.87 117.01L228.9 113.98M234.12 119.13L235.15 116.1M240.37 121.25L241.4 118.22M246.62 123.36L247.65 120.33M252.87 125.48L253.9 122.45M259.12 127.6L260.15 124.57M265.38 129.72L266.4 126.69M271.63 131.84L272.65 128.81M277.88 133.96L278.9 130.93M284.13 136.08L285.15 133.05M290.38 138.2L291.41 135.17M296.63 140.32L297.66 137.29M302.88 142.44L303.91 139.4M309.13 144.55L310.16 141.52M315.38 146.67L316.41 143.64M321.63 148.79L322.66 145.76M327.88 150.91L328.91 147.88M334.13 153.03L335.16 150M340.38 155.15L341.41 152.12M346.63 157.27L347.66 154.24M143.69 67.03L179.39 88.03M144.91 64.97L180.61 85.97M169.55 82.24L170.77 80.18M179.39 88.15L230.89 115.55M180.61 85.85L232.11 113.25M182.39 89.74L183.61 87.45M188.39 92.94L189.62 90.64M194.4 96.13L195.62 93.84M200.4 99.33L201.62 97.03M206.4 102.52L207.63 100.23M212.41 105.71L213.63 103.42M218.41 108.91L219.63 106.61M224.41 112.1L225.63 109.81M230.42 115.3L231.64 113"/><path stroke-width="1.1" d="M38.9 100.8L126.8 57.3M40.9 103.2L127.3 60.3M48.7 107.1L123.9 67.6M54.6 108.6L121 73.9M62.4 110.1L118 80.3M73.1 112.5L119 88.1M47.5 106L124.5 66.2M46.07 97.25L49.65 104.48M54.14 93.26L61.73 108.61M62.2 89.27L73.57 112.25M70.27 85.28L81.53 108.02M78.34 81.28L89.48 103.8M86.4 77.29L97.43 99.57M94.47 73.3L105.38 95.34M102.53 69.31L113.33 91.12M44.17 98.19L46.08 100.63M47.69 96.45L49.54 98.91M51.21 94.71L53 97.19M54.72 92.97L56.45 95.48M58.24 91.23L59.91 93.76M61.75 89.49L63.36 92.05M65.27 87.75L66.82 90.33M68.79 86.01L70.28 88.61M72.3 84.27L73.73 86.9M75.82 82.53L77.19 85.18M79.33 80.79L80.64 83.47M82.85 79.05L84.1 81.75M86.37 77.31L87.56 80.03M89.88 75.57L91.01 78.32M93.4 73.83L94.47 76.6M96.91 72.09L97.92 74.89M100.43 70.35L101.38 73.17M103.95 68.61L104.84 71.45M107.46 66.87L108.29 69.74M110.98 65.13L111.75 68.02M114.49 63.39L115.2 66.31M118.01 61.65L118.66 64.59M121.53 59.91L122.12 62.87M125.04 58.17L125.57 61.16M120.5 58.5L120.5 82M126.9 57L126.9 80M120.5 60L126.9 80M120.3 72L107.3 119.5M123 74.6L110.9 120.77M125.7 77.2L114.5 122.05M128.4 79.8L118.1 123.32M119.78 73.9L127.99 81.54M118.74 77.7L127.16 85.02M117.7 81.5L126.34 88.5M116.66 85.3L125.52 91.98M115.62 89.1L124.69 95.46M114.58 92.9L123.87 98.94M113.54 96.7L123.04 102.42M112.5 100.5L122.22 105.9M111.46 104.3L121.4 109.38M110.42 108.1L120.57 112.86M109.38 111.9L119.75 116.34M108.34 115.7L118.92 119.82M107.3 119.5L118.1 123.3M137.5 65.1L120.5 127.3M144 66.3L127 130.2M140.75 65.7L123.75 128.75M137.5 65.1L144 66.3M136.39 69.16L142.89 70.47M135.28 73.23L141.78 74.65M134.17 77.29L140.67 78.82M133.06 81.35L139.56 83M131.95 85.42L138.45 87.17M130.84 89.48L137.34 91.35M129.73 93.55L136.23 95.52M128.61 97.61L135.11 99.7M127.5 101.67L134 103.87M126.39 105.74L132.89 108.05M125.28 109.8L131.78 112.22M124.17 113.86L130.67 116.4M123.06 117.93L129.56 120.57M121.95 121.99L128.45 124.75M120.84 126.06L127.34 128.92M127.2 58.5L138 64.6M126.9 62L137 67.5M183.4 82.9L188.2 78.8L219 88.9L247.5 97.4L266.2 104.7L257.5 121.3M261.8 123.5L270.6 106.1L291.9 114.2L296.3 115.6L313.9 126.6L305.8 138M183.4 82.9L246 117.5M184.5 81.6L237 110.6M207.3 86L204.6 92.5M219.3 89.6L214.9 97.9M238.6 97.4L233.6 108.6M252.5 101.3L245.2 115.9M235.8 103.6L248.6 108.6M249.2 108.9L261.6 113.4M292.72 114.22L284.42 134.02M295.48 115.38L287.18 135.18M292.06 115.79L294.83 116.95M290.74 118.92L293.51 120.08M289.43 122.06L292.2 123.22M288.12 125.19L290.88 126.35M286.8 128.33L289.57 129.49M285.49 131.47L288.25 132.63"/><path stroke-width="1.2" d="M202.17 84.81L206.62 87.27M192.52 81.63L205.85 89.02M205.08 90.76L190.3 82.57M209.01 86.75L205.92 93.07M211.23 87.44L207.97 94.13M213.45 88.13L210.01 95.18M215.67 88.82L212.06 96.24M217.89 89.52L214.1 97.29M234.47 97.01L238 98.96M226.62 94.83L237.2 100.69M236.39 102.42L220.21 93.45M235.59 104.15L219.28 95.1M234.79 105.87L218.35 96.76M233.99 107.6L217.42 98.42M240.42 98.15L234.51 109.26M242.66 98.84L236.48 110.46M244.89 99.53L238.44 111.66M247.13 100.22L240.41 112.85M249.37 100.92L242.38 114.05M251.6 101.61L244.35 115.25M254.33 102.22L246.74 116.5M256.6 102.85L248.88 117.37M258.87 103.48L251.03 118.24M261.14 104.11L253.17 119.1M263.41 104.74L255.31 119.97M265.68 105.37L257.46 120.84M275.13 108.43L290.64 115.33M289.91 117.2L270.04 108.35M289.18 119.06L269.16 110.15M288.45 120.93L268.27 111.94M287.73 122.79L267.39 113.74M287 124.66L266.51 115.54M286.27 126.52L265.63 117.33M285.54 128.39L264.74 119.13M284.82 130.26L263.86 120.93M284.09 132.12L262.98 122.72M283.36 133.99L275.05 130.29M303.93 120.94L296.46 117.3M312.59 127.39L295.58 119.1M311.45 129.06L294.7 120.89M310.31 130.73L293.83 122.69M309.17 132.4L292.95 124.49M308.02 134.06L292.07 126.28M306.88 135.73L291.19 128.08M305.74 137.4L290.31 129.88M298.9 136.29L289.43 131.67M291.29 134.8L288.56 133.47"/></g>
<text font-style="italic" font-size="18.8" stroke="#000" stroke-width="0.25" transform="translate(934.4 111.4) rotate(19.8)" textLength="47" lengthAdjust="spacingAndGlyphs">22307</text>
<text font-style="italic" font-size="18.8" stroke="#000" stroke-width="0.25" transform="translate(903.1 206.6) rotate(18.6)" textLength="47" lengthAdjust="spacingAndGlyphs">52304</text>
<rect x="671.9" y="205.8" width="185.4" height="22.6" fill="#fff"/>
<text x="673.2" y="223.2" font-size="19" stroke="#000" stroke-width="0.2" textLength="182.6" lengthAdjust="spacingAndGlyphs">12/13/2012-01/15/2013</text>
</g>
<rect x="671.9" y="37.1" width="314.25" height="191.3" fill="none" stroke="#000" stroke-width="1.7"/>
<clipPath id="c3"><rect x="37.2" y="230.45" width="314.7" height="191.05"/></clipPath>
<g clip-path="url(#c3)">
<rect x="37.2" y="230.45" width="314.7" height="191.05" fill="#00f59e"/>
<g filter="url(#fg)" fill="#00f200">
<path d="M169.8 282.92C171.6 279.33 174.48 274.29 177.14 269.98C179.8 265.67 182.89 260.63 185.76 257.04C188.64 253.44 191.16 250.21 194.39 248.41C197.63 246.61 201.58 245.54 205.18 246.25C208.77 246.97 212.37 250.93 215.96 252.73C219.56 254.52 222.79 256.68 226.75 257.04C230.7 257.4 235.37 255.6 239.69 254.88C244 254.16 248.31 252.37 252.63 252.73C256.94 253.08 261.97 254.88 265.57 257.04C269.16 259.2 271.32 262.43 274.2 265.67C277.07 268.9 280.31 272.86 282.82 276.45C285.34 280.05 287.86 284 289.29 287.24C290.73 290.47 291.81 293.35 291.45 295.86C291.09 298.38 286.78 300.54 287.14 302.33C287.5 304.13 293.61 303.77 293.61 306.65C293.61 309.52 288.58 315.27 287.14 319.59C285.7 323.9 283.18 329.65 284.98 332.53C286.78 335.41 294.33 335.05 297.92 336.84C301.52 338.64 305.47 340.8 306.55 343.31C307.63 345.83 306.55 349.78 304.39 351.94C302.24 354.1 297.2 355.18 293.61 356.25C290.01 357.33 286.06 356.97 282.82 358.41C279.59 359.85 277.43 363.08 274.2 364.88C270.96 366.68 267.37 368.84 263.41 369.2C259.46 369.56 254.78 367.04 250.47 367.04C246.16 367.04 241.48 367.76 237.53 369.2C233.58 370.63 230.34 373.51 226.75 375.67C223.15 377.82 218.98 381.42 215.96 382.14C212.94 382.86 212.01 381.06 208.63 379.98C205.25 378.9 200 377.1 195.69 375.67C191.37 374.23 187.06 372.79 182.75 371.35C178.43 369.92 173.76 369.2 169.8 367.04C165.85 364.88 161.9 362.01 159.02 358.41C156.14 354.82 153.99 349.78 152.55 345.47C151.11 341.16 150.03 336.48 150.39 332.53C150.75 328.58 153.12 326.42 154.71 321.75C156.29 317.07 157.94 309.52 159.88 304.49C161.82 299.46 164.7 295.14 166.35 291.55C168.01 287.95 168.01 286.52 169.8 282.92Z"/>
<path d="M66.2 373.51C66.92 371.71 69.97 370.81 71.59 371.35C73.21 371.89 75.72 374.77 75.9 376.75C76.08 378.72 74.1 382.32 72.67 383.22C71.23 384.11 68.35 383.75 67.27 382.14C66.2 380.52 65.48 375.31 66.2 373.51Z"/>
<path fill-opacity="0.5" d="M95 233.66C99.14 231.33 118.55 231.07 122.95 233.66C127.35 236.25 125.54 246.86 121.4 249.19C117.26 251.51 102.51 250.22 98.11 247.63C93.71 245.04 90.86 235.99 95 233.66Z"/>
<path fill-opacity="0.52" d="M181.96 235.21C187.65 231.59 207.32 227.45 213.01 232.11C218.71 236.76 219.74 256.95 216.12 263.16C212.49 269.37 197.48 270.92 191.27 269.37C185.06 267.82 180.4 259.54 178.85 253.84C177.3 248.15 176.26 238.83 181.96 235.21Z"/>
<path fill-opacity="0.5" d="M272.02 334.59C278.23 330.96 302.55 331.48 315.49 331.48C328.43 331.48 343.96 329.93 349.65 334.59C355.35 339.24 355.35 356.32 349.65 359.43C343.96 362.54 327.4 354.25 315.49 353.22C303.59 352.18 285.47 356.32 278.23 353.22C270.98 350.11 265.8 338.21 272.02 334.59Z"/>
<path fill-opacity="0.48" d="M113.64 390.48C116.74 389.04 129.16 389.04 132.27 390.48C135.38 391.93 135.38 397.73 132.27 399.18C129.16 400.63 116.74 400.63 113.64 399.18C110.53 397.73 110.53 391.93 113.64 390.48Z"/>
<path fill-opacity="0.48" d="M154.01 347.01C156.6 345.46 166.43 359.95 175.75 365.64C185.06 371.33 206.28 377.03 209.91 381.17C213.53 385.31 205.77 391.52 197.48 390.48C189.2 389.45 167.46 382.2 160.22 374.96C152.97 367.71 151.42 348.56 154.01 347.01Z"/>
<path fill-opacity="0.5" d="M63.95 374.96C65.76 372.89 74.04 371.85 76.37 373.4C78.7 374.96 79.74 382.2 77.92 384.27C76.11 386.34 67.83 387.38 65.5 385.83C63.17 384.27 62.14 377.03 63.95 374.96Z"/>
<path fill-opacity="0.74" d="M289.29 233.31C291.09 230.98 299.72 231.52 304.39 232.24C309.07 232.95 313.38 237.09 317.33 237.63C321.29 238.17 324.16 234.75 328.12 235.47C332.07 236.19 337.82 239.07 341.06 241.94C344.29 244.82 346.09 248.77 347.53 252.73C348.97 256.68 350.76 262.43 349.69 265.67C348.61 268.9 344.65 271.42 341.06 272.14C337.46 272.86 332.07 271.42 328.12 269.98C324.16 268.54 320.93 263.87 317.33 263.51C313.74 263.15 309.42 268.54 306.55 267.82C303.67 267.1 302.24 262.79 300.08 259.2C297.92 255.6 295.41 250.57 293.61 246.25C291.81 241.94 287.5 235.65 289.29 233.31Z"/>
<path fill-opacity="0.93" d="M284.98 367.04C285.34 363.8 289.29 360.21 293.61 358.41C297.92 356.61 305.83 356.97 310.86 356.25C315.9 355.54 319.49 354.1 323.8 354.1C328.12 354.1 332.43 356.25 336.75 356.25C341.06 356.25 347.53 347.99 349.69 354.1C351.84 360.21 351.48 387.53 349.69 392.92C347.89 398.31 343.22 387.89 338.9 386.45C334.59 385.01 329.2 385.37 323.8 384.29C318.41 383.22 311.94 381.06 306.55 379.98C301.16 378.9 295.05 379.98 291.45 377.82C287.86 375.67 284.62 370.27 284.98 367.04Z"/>
</g>
<g filter="url(#flime)" fill="#78f800">
<path d="M171.88 313.12C172.42 310.24 173.68 306.83 176.2 304.49C178.71 302.15 183.03 299.82 186.98 299.1C190.93 298.38 196.33 298.92 199.92 300.18C203.52 301.43 206.39 304.13 208.55 306.65C210.71 309.16 212.5 312.04 212.86 315.27C213.22 318.51 212.14 322.82 210.71 326.06C209.27 329.29 206.75 332.53 204.24 334.69C201.72 336.84 198.48 339 195.61 339C192.73 339 189.86 336.48 186.98 334.69C184.1 332.89 180.69 330.37 178.35 328.22C176.02 326.06 174.04 324.26 172.96 321.75C171.88 319.23 171.34 315.99 171.88 313.12Z"/>
</g>
<g filter="url(#fygr)" fill="#dcfa00">
<path d="M172.96 313.55C173.5 310.96 174.87 307.73 177.27 305.57C179.68 303.41 183.71 301.25 187.41 300.61C191.11 299.96 196.15 300.43 199.49 301.69C202.83 302.94 205.6 305.71 207.47 308.16C209.34 310.6 210.53 313.37 210.71 316.35C210.89 319.34 209.92 323.18 208.55 326.06C207.18 328.93 204.74 331.74 202.51 333.61C200.28 335.48 197.69 337.38 195.18 337.27C192.66 337.17 190.04 334.65 187.41 332.96C184.79 331.27 181.66 329.11 179.43 327.14C177.2 325.16 175.12 323.36 174.04 321.1C172.96 318.83 172.42 316.14 172.96 313.55Z"/>
</g>
<g filter="url(#fyel)" fill="#ffe100">
<path d="M174.04 314.2C174.58 311.86 176.02 308.62 178.35 306.65C180.69 304.67 184.64 302.87 188.06 302.33C191.47 301.79 195.79 302.15 198.84 303.41C201.9 304.67 204.77 307.55 206.39 309.88C208.01 312.22 208.55 314.74 208.55 317.43C208.55 320.13 207.65 323.54 206.39 326.06C205.13 328.58 202.98 330.91 201 332.53C199.02 334.15 196.69 335.94 194.53 335.76C192.37 335.58 190.4 333.07 188.06 331.45C185.72 329.83 182.67 327.86 180.51 326.06C178.35 324.26 176.2 322.64 175.12 320.67C174.04 318.69 173.5 316.53 174.04 314.2Z"/>
</g>
<g filter="url(#fora)" fill="#ffa000">
<path d="M176.2 315.27C176.92 313.48 179.43 310.53 181.59 308.8C183.75 307.08 186.44 305.28 189.14 304.92C191.83 304.56 195.43 305.28 197.76 306.65C200.1 308.01 202.08 310.96 203.16 313.12C204.24 315.27 204.59 317.43 204.24 319.59C203.88 321.75 202.44 324.26 201 326.06C199.56 327.86 197.58 330.01 195.61 330.37C193.63 330.73 191.29 329.29 189.14 328.22C186.98 327.14 184.64 325.34 182.67 323.9C180.69 322.46 178.35 321.03 177.27 319.59C176.2 318.15 175.48 317.07 176.2 315.27Z"/>
</g>
<g filter="url(#fore)" fill="#ff5a00">
<path d="M179.43 315.27C179.79 312.76 182.67 309.59 184.82 307.73C186.98 305.86 190.04 303.95 192.37 304.06C194.71 304.17 197.05 306.5 198.84 308.37C200.64 310.24 202.8 312.69 203.16 315.27C203.52 317.86 202.26 321.75 201 323.9C199.74 326.06 197.76 327.68 195.61 328.22C193.45 328.75 190.22 328.04 188.06 327.14C185.9 326.24 184.1 324.8 182.67 322.82C181.23 320.85 179.07 317.79 179.43 315.27Z"/>
</g>
<g filter="url(#fred)" fill="#ff0000">
<path d="M182.67 314.2C183.21 311.86 185.18 308.26 186.98 306.65C188.78 305.03 191.65 303.95 193.45 304.49C195.25 305.03 196.33 308.08 197.76 309.88C199.2 311.68 201.72 313.3 202.08 315.27C202.44 317.25 201.18 319.95 199.92 321.75C198.66 323.54 196.51 325.52 194.53 326.06C192.55 326.6 189.86 325.88 188.06 324.98C186.26 324.08 184.64 322.46 183.75 320.67C182.85 318.87 182.13 316.53 182.67 314.2Z"/>
</g>
<g fill="none" stroke="#fff" transform="translate(0 193.35)"><path stroke-width="1.4" d="M38.97 102.09L351.47 212.55M40.03 99.07L352.53 209.54M42.08 103.19L43.14 100.17M48.3 105.38L49.37 102.37M54.52 107.58L55.59 104.57M60.75 109.78L61.81 106.77M66.97 111.98L68.04 108.97M73.19 114.18L74.26 111.17M79.41 116.38L80.48 113.37M85.64 118.58L86.7 115.57M91.86 120.78L92.93 117.77M98.08 122.98L99.15 119.97M104.3 125.18L105.37 122.17M110.53 127.38L111.59 124.36M116.75 129.58L117.82 126.56M122.97 131.78L124.04 128.76M129.2 133.98L130.26 130.96M135.42 136.18L136.48 133.16M141.64 138.38L142.71 135.36M147.86 140.58L148.93 137.56M154.09 142.78L155.15 139.76M160.31 144.98L161.37 141.96M166.53 147.18L167.6 144.16M172.75 149.38L173.82 146.36M178.98 151.58L180.04 148.56M185.2 153.78L186.27 150.76M191.42 155.98L192.49 152.96M197.64 158.18L198.71 155.16M203.87 160.38L204.93 157.36M210.09 162.58L211.16 159.56M216.31 164.78L217.38 161.76M222.53 166.98L223.6 163.96M228.76 169.18L229.82 166.16M234.98 171.38L236.05 168.36M241.2 173.58L242.27 170.56M247.43 175.78L248.49 172.76M253.65 177.98L254.71 174.96M259.87 180.17L260.94 177.16M266.09 182.37L267.16 179.36M272.32 184.57L273.38 181.56M278.54 186.77L279.61 183.76M284.76 188.97L285.83 185.96M290.98 191.17L292.05 188.16M297.21 193.37L298.27 190.36M303.43 195.57L304.5 192.56M309.65 197.77L310.72 194.76M315.87 199.97L316.94 196.96M322.1 202.17L323.16 199.15M328.32 204.37L329.39 201.35M334.54 206.57L335.61 203.55M340.76 208.77L341.83 205.75M346.99 210.97L348.05 207.95M118.49 79.93L351.49 158.91M119.51 76.9L352.51 155.88M121.61 80.99L122.64 77.96M127.86 83.1L128.89 80.07M134.11 85.22L135.14 82.19M140.36 87.34L141.39 84.31M146.61 89.46L147.64 86.43M152.86 91.58L153.89 88.55M159.12 93.7L160.14 90.67M165.37 95.82L166.39 92.79M171.62 97.94L172.64 94.91M177.87 100.06L178.89 97.03M184.12 102.18L185.15 99.14M190.37 104.29L191.4 101.26M196.62 106.41L197.65 103.38M202.87 108.53L203.9 105.5M209.12 110.65L210.15 107.62M215.37 112.77L216.4 109.74M221.62 114.89L222.65 111.86M227.87 117.01L228.9 113.98M234.12 119.13L235.15 116.1M240.37 121.25L241.4 118.22M246.62 123.36L247.65 120.33M252.87 125.48L253.9 122.45M259.12 127.6L260.15 124.57M265.38 129.72L266.4 126.69M271.63 131.84L272.65 128.81M277.88 133.96L278.9 130.93M284.13 136.08L285.15 133.05M290.38 138.2L291.41 135.17M296.63 140.32L297.66 137.29M302.88 142.44L303.91 139.4M309.13 144.55L310.16 141.52M315.38 146.67L316.41 143.64M321.63 148.79L322.66 145.76M327.88 150.91L328.91 147.88M334.13 153.03L335.16 150M340.38 155.15L341.41 152.12M346.63 157.27L347.66 154.24M143.69 67.03L179.39 88.03M144.91 64.97L180.61 85.97M169.55 82.24L170.77 80.18M179.39 88.15L230.89 115.55M180.61 85.85L232.11 113.25M182.39 89.74L183.61 87.45M188.39 92.94L189.62 90.64M194.4 96.13L195.62 93.84M200.4 99.33L201.62 97.03M206.4 102.52L207.63 100.23M212.41 105.71L213.63 103.42M218.41 108.91L219.63 106.61M224.41 112.1L225.63 109.81M230.42 115.3L231.64 113"/><path stroke-width="1.1" d="M38.9 100.8L126.8 57.3M40.9 103.2L127.3 60.3M48.7 107.1L123.9 67.6M54.6 108.6L121 73.9M62.4 110.1L118 80.3M73.1 112.5L119 88.1M47.5 106L124.5 66.2M46.07 97.25L49.65 104.48M54.14 93.26L61.73 108.61M62.2 89.27L73.57 112.25M70.27 85.28L81.53 108.02M78.34 81.28L89.48 103.8M86.4 77.29L97.43 99.57M94.47 73.3L105.38 95.34M102.53 69.31L113.33 91.12M44.17 98.19L46.08 100.63M47.69 96.45L49.54 98.91M51.21 94.71L53 97.19M54.72 92.97L56.45 95.48M58.24 91.23L59.91 93.76M61.75 89.49L63.36 92.05M65.27 87.75L66.82 90.33M68.79 86.01L70.28 88.61M72.3 84.27L73.73 86.9M75.82 82.53L77.19 85.18M79.33 80.79L80.64 83.47M82.85 79.05L84.1 81.75M86.37 77.31L87.56 80.03M89.88 75.57L91.01 78.32M93.4 73.83L94.47 76.6M96.91 72.09L97.92 74.89M100.43 70.35L101.38 73.17M103.95 68.61L104.84 71.45M107.46 66.87L108.29 69.74M110.98 65.13L111.75 68.02M114.49 63.39L115.2 66.31M118.01 61.65L118.66 64.59M121.53 59.91L122.12 62.87M125.04 58.17L125.57 61.16M120.5 58.5L120.5 82M126.9 57L126.9 80M120.5 60L126.9 80M120.3 72L107.3 119.5M123 74.6L110.9 120.77M125.7 77.2L114.5 122.05M128.4 79.8L118.1 123.32M119.78 73.9L127.99 81.54M118.74 77.7L127.16 85.02M117.7 81.5L126.34 88.5M116.66 85.3L125.52 91.98M115.62 89.1L124.69 95.46M114.58 92.9L123.87 98.94M113.54 96.7L123.04 102.42M112.5 100.5L122.22 105.9M111.46 104.3L121.4 109.38M110.42 108.1L120.57 112.86M109.38 111.9L119.75 116.34M108.34 115.7L118.92 119.82M107.3 119.5L118.1 123.3M137.5 65.1L120.5 127.3M144 66.3L127 130.2M140.75 65.7L123.75 128.75M137.5 65.1L144 66.3M136.39 69.16L142.89 70.47M135.28 73.23L141.78 74.65M134.17 77.29L140.67 78.82M133.06 81.35L139.56 83M131.95 85.42L138.45 87.17M130.84 89.48L137.34 91.35M129.73 93.55L136.23 95.52M128.61 97.61L135.11 99.7M127.5 101.67L134 103.87M126.39 105.74L132.89 108.05M125.28 109.8L131.78 112.22M124.17 113.86L130.67 116.4M123.06 117.93L129.56 120.57M121.95 121.99L128.45 124.75M120.84 126.06L127.34 128.92M127.2 58.5L138 64.6M126.9 62L137 67.5M183.4 82.9L188.2 78.8L219 88.9L247.5 97.4L266.2 104.7L257.5 121.3M261.8 123.5L270.6 106.1L291.9 114.2L296.3 115.6L313.9 126.6L305.8 138M183.4 82.9L246 117.5M184.5 81.6L237 110.6M207.3 86L204.6 92.5M219.3 89.6L214.9 97.9M238.6 97.4L233.6 108.6M252.5 101.3L245.2 115.9M235.8 103.6L248.6 108.6M249.2 108.9L261.6 113.4M292.72 114.22L284.42 134.02M295.48 115.38L287.18 135.18M292.06 115.79L294.83 116.95M290.74 118.92L293.51 120.08M289.43 122.06L292.2 123.22M288.12 125.19L290.88 126.35M286.8 128.33L289.57 129.49M285.49 131.47L288.25 132.63"/><path stroke-width="1.2" d="M202.17 84.81L206.62 87.27M192.52 81.63L205.85 89.02M205.08 90.76L190.3 82.57M209.01 86.75L205.92 93.07M211.23 87.44L207.97 94.13M213.45 88.13L210.01 95.18M215.67 88.82L212.06 96.24M217.89 89.52L214.1 97.29M234.47 97.01L238 98.96M226.62 94.83L237.2 100.69M236.39 102.42L220.21 93.45M235.59 104.15L219.28 95.1M234.79 105.87L218.35 96.76M233.99 107.6L217.42 98.42M240.42 98.15L234.51 109.26M242.66 98.84L236.48 110.46M244.89 99.53L238.44 111.66M247.13 100.22L240.41 112.85M249.37 100.92L242.38 114.05M251.6 101.61L244.35 115.25M254.33 102.22L246.74 116.5M256.6 102.85L248.88 117.37M258.87 103.48L251.03 118.24M261.14 104.11L253.17 119.1M263.41 104.74L255.31 119.97M265.68 105.37L257.46 120.84M275.13 108.43L290.64 115.33M289.91 117.2L270.04 108.35M289.18 119.06L269.16 110.15M288.45 120.93L268.27 111.94M287.73 122.79L267.39 113.74M287 124.66L266.51 115.54M286.27 126.52L265.63 117.33M285.54 128.39L264.74 119.13M284.82 130.26L263.86 120.93M284.09 132.12L262.98 122.72M283.36 133.99L275.05 130.29M303.93 120.94L296.46 117.3M312.59 127.39L295.58 119.1M311.45 129.06L294.7 120.89M310.31 130.73L293.83 122.69M309.17 132.4L292.95 124.49M308.02 134.06L292.07 126.28M306.88 135.73L291.19 128.08M305.74 137.4L290.31 129.88M298.9 136.29L289.43 131.67M291.29 134.8L288.56 133.47"/></g>
<text font-style="italic" font-size="18.8" stroke="#000" stroke-width="0.25" transform="translate(299.7 304.75) rotate(19.8)" textLength="47" lengthAdjust="spacingAndGlyphs">22307</text>
<text font-style="italic" font-size="18.8" stroke="#000" stroke-width="0.25" transform="translate(268.4 399.95) rotate(18.6)" textLength="47" lengthAdjust="spacingAndGlyphs">52304</text>
<rect x="37.2" y="398.9" width="185.4" height="22.6" fill="#fff"/>
<text x="38.5" y="416.3" font-size="19" stroke="#000" stroke-width="0.2" textLength="182.6" lengthAdjust="spacingAndGlyphs">12/13/2012-01/26/2013</text>
</g>
<rect x="37.2" y="230.45" width="314.7" height="191.05" fill="none" stroke="#000" stroke-width="1.7"/>
<clipPath id="c4"><rect x="354.85" y="230.45" width="314.25" height="191.05"/></clipPath>
<g clip-path="url(#c4)">
<rect x="354.85" y="230.45" width="314.25" height="191.05" fill="#00f59e"/>
<g filter="url(#fg)" fill="#00f200">
<path d="M458.47 323.9C459.19 319.23 460.99 315.99 462.78 310.96C464.58 305.93 467.1 299.1 469.25 293.71C471.41 288.31 473.21 282.92 475.73 278.61C478.24 274.29 481.12 271.06 484.35 267.82C487.59 264.59 491.18 262.07 495.14 259.2C499.09 256.32 503.76 253.08 508.08 250.57C512.39 248.05 517.07 244.46 521.02 244.1C524.97 243.74 527.85 246.97 531.8 248.41C535.76 249.85 540.43 251.65 544.75 252.73C549.06 253.8 553.37 253.8 557.69 254.88C562 255.96 566.67 257.4 570.63 259.2C574.58 260.99 577.82 263.15 581.41 265.67C585.01 268.18 588.96 271.42 592.2 274.29C595.43 277.17 598.31 280.05 600.82 282.92C603.34 285.8 606.93 288.67 607.29 291.55C607.65 294.42 602.26 297.66 602.98 300.18C603.7 302.69 611.25 303.41 611.61 306.65C611.97 309.88 606.58 315.27 605.14 319.59C603.7 323.9 601.18 329.65 602.98 332.53C604.78 335.41 612.33 335.05 615.92 336.84C619.52 338.64 623.47 340.8 624.55 343.31C625.63 345.83 624.55 349.78 622.39 351.94C620.24 354.1 615.56 354.82 611.61 356.25C607.65 357.69 602.26 358.77 598.67 360.57C595.07 362.37 593.27 365.6 590.04 367.04C586.8 368.48 582.85 369.2 579.25 369.2C575.66 369.2 572.78 367.04 568.47 367.04C564.16 367.04 557.69 367.76 553.37 369.2C549.06 370.63 546.18 374.59 542.59 375.67C538.99 376.75 535.76 374.95 531.8 375.67C527.85 376.39 523.18 379.62 518.86 379.98C514.55 380.34 510.24 379.26 505.92 377.82C501.61 376.39 497.29 373.87 492.98 371.35C488.67 368.84 484.35 365.96 480.04 362.73C475.73 359.49 470.69 355.9 467.1 351.94C463.5 347.99 459.91 343.67 458.47 339C457.03 334.33 457.75 328.58 458.47 323.9Z"/>
<path fill-opacity="0.5" d="M413 233.66C417.14 231.33 436.55 231.07 440.95 233.66C445.35 236.25 443.54 246.86 439.4 249.19C435.26 251.51 420.51 250.22 416.11 247.63C411.71 245.04 408.86 235.99 413 233.66Z"/>
<path fill-opacity="0.52" d="M499.96 235.21C505.65 231.59 525.32 227.45 531.01 232.11C536.71 236.76 537.74 256.95 534.12 263.16C530.49 269.37 515.48 270.92 509.27 269.37C503.06 267.82 498.4 259.54 496.85 253.84C495.3 248.15 494.26 238.83 499.96 235.21Z"/>
<path fill-opacity="0.5" d="M590.02 334.59C596.23 330.96 620.55 331.48 633.49 331.48C646.43 331.48 661.96 329.93 667.65 334.59C673.35 339.24 673.35 356.32 667.65 359.43C661.96 362.54 645.4 354.25 633.49 353.22C621.59 352.18 603.47 356.32 596.23 353.22C588.98 350.11 583.8 338.21 590.02 334.59Z"/>
<path fill-opacity="0.48" d="M431.64 390.48C434.74 389.04 447.16 389.04 450.27 390.48C453.38 391.93 453.38 397.73 450.27 399.18C447.16 400.63 434.74 400.63 431.64 399.18C428.53 397.73 428.53 391.93 431.64 390.48Z"/>
<path fill-opacity="0.48" d="M472.01 347.01C474.6 345.46 484.43 359.95 493.75 365.64C503.06 371.33 524.28 377.03 527.91 381.17C531.53 385.31 523.77 391.52 515.48 390.48C507.2 389.45 485.46 382.2 478.22 374.96C470.97 367.71 469.42 348.56 472.01 347.01Z"/>
<path fill-opacity="0.5" d="M381.95 374.96C383.76 372.89 392.04 371.85 394.37 373.4C396.7 374.96 397.74 382.2 395.92 384.27C394.11 386.34 385.83 387.38 383.5 385.83C381.17 384.27 380.14 377.03 381.95 374.96Z"/>
<path fill-opacity="0.78" d="M607.29 233.31C608.37 230.8 616.64 231.88 620.24 233.31C623.83 234.75 626.71 238.71 628.86 241.94C631.02 245.18 632.82 248.77 633.18 252.73C633.54 256.68 632.46 262.79 631.02 265.67C629.58 268.54 626.71 270.7 624.55 269.98C622.39 269.26 619.88 264.95 618.08 261.35C616.28 257.76 615.56 253.08 613.76 248.41C611.97 243.74 606.22 235.83 607.29 233.31Z"/>
<path fill-opacity="0.93" d="M598.67 367.04C599.39 364.16 606.58 360.21 611.61 358.41C616.64 356.61 623.11 356.97 628.86 356.25C634.61 355.54 639.65 354.82 646.12 354.1C652.59 353.38 664.09 345.47 667.69 351.94C671.28 358.41 669.84 386.81 667.69 392.92C665.53 399.03 659.06 390.76 654.75 388.61C650.43 386.45 646.84 381.78 641.8 379.98C636.77 378.18 630.3 378.54 624.55 377.82C618.8 377.1 611.61 377.46 607.29 375.67C602.98 373.87 597.95 369.92 598.67 367.04Z"/>
</g>
<g filter="url(#flime)" fill="#78f800">
<path d="M478.96 313.12C479.32 309.52 481.66 305.21 484.35 302.33C487.05 299.46 491.18 296.58 495.14 295.86C499.09 295.14 503.76 296.76 508.08 298.02C512.39 299.28 517.6 301.25 521.02 303.41C524.43 305.57 527.49 307.91 528.57 310.96C529.65 314.02 528.75 318.51 527.49 321.75C526.23 324.98 523.54 327.86 521.02 330.37C518.5 332.89 515.63 336.12 512.39 336.84C509.16 337.56 505.2 335.76 501.61 334.69C498.01 333.61 494.06 332.17 490.82 330.37C487.59 328.58 484.17 326.78 482.2 323.9C480.22 321.03 478.6 316.71 478.96 313.12Z"/>
</g>
<g filter="url(#fygr)" fill="#dcfa00">
<path d="M480.04 313.12C480.43 309.77 482.84 305.46 485.43 302.76C488.02 300.07 491.79 297.55 495.57 296.94C499.34 296.33 504.02 297.84 508.08 299.1C512.14 300.36 516.89 302.44 519.94 304.49C523 306.54 525.51 308.59 526.41 311.39C527.31 314.2 526.52 318.33 525.33 321.31C524.15 324.3 521.63 327.07 519.29 329.29C516.96 331.52 514.33 334.15 511.31 334.69C508.29 335.23 504.59 333.54 501.18 332.53C497.76 331.52 493.84 330.26 490.82 328.65C487.8 327.03 484.86 325.41 483.06 322.82C481.26 320.24 479.64 316.46 480.04 313.12Z"/>
</g>
<g filter="url(#fyel)" fill="#ffe100">
<path d="M481.12 313.12C481.55 310.06 483.99 305.93 486.51 303.41C489.03 300.9 492.62 298.56 496.22 298.02C499.81 297.48 504.3 298.92 508.08 300.18C511.85 301.43 516.17 303.59 518.86 305.57C521.56 307.55 523.54 309.52 524.25 312.04C524.97 314.56 524.25 317.97 523.18 320.67C522.1 323.36 519.94 326.24 517.78 328.22C515.63 330.19 513.11 332.17 510.24 332.53C507.36 332.89 503.76 331.27 500.53 330.37C497.29 329.47 493.59 328.58 490.82 327.14C488.06 325.7 485.54 324.08 483.92 321.75C482.3 319.41 480.69 316.17 481.12 313.12Z"/>
</g>
<g filter="url(#fora)" fill="#ffa000">
<path d="M482.2 313.12C482.66 310.42 485.07 306.83 487.59 304.49C490.1 302.15 494.06 299.64 497.29 299.1C500.53 298.56 503.94 300 507 301.25C510.06 302.51 513.83 304.31 515.63 306.65C517.42 308.98 517.6 312.4 517.78 315.27C517.96 318.15 517.96 321.75 516.71 323.9C515.45 326.06 512.93 327.68 510.24 328.22C507.54 328.75 503.76 327.68 500.53 327.14C497.29 326.6 493.45 326.06 490.82 324.98C488.2 323.9 486.22 322.64 484.78 320.67C483.35 318.69 481.73 315.81 482.2 313.12Z"/>
</g>
<g filter="url(#fore)" fill="#ff5a00">
<path d="M484.35 313.12C484.89 310.78 487.41 307.55 489.75 305.57C492.08 303.59 495.5 301.61 498.37 301.25C501.25 300.9 504.3 302.33 507 303.41C509.7 304.49 512.93 305.75 514.55 307.73C516.17 309.7 516.53 312.76 516.71 315.27C516.89 317.79 516.89 320.95 515.63 322.82C514.37 324.69 511.67 326.02 509.16 326.49C506.64 326.96 503.41 326.13 500.53 325.63C497.65 325.12 494.24 324.48 491.9 323.47C489.57 322.46 487.77 321.31 486.51 319.59C485.25 317.86 483.81 315.45 484.35 313.12Z"/>
</g>
<g filter="url(#fred)" fill="#ff0000">
<path d="M487.59 314.2C488.13 312.4 489.92 309.52 491.9 307.73C493.88 305.93 496.93 303.88 499.45 303.41C501.97 302.94 504.66 304.02 507 304.92C509.34 305.82 512.03 307.08 513.47 308.8C514.91 310.53 515.45 313.12 515.63 315.27C515.81 317.43 515.81 320.02 514.55 321.75C513.29 323.47 510.42 325.27 508.08 325.63C505.74 325.99 503.05 324.55 500.53 323.9C498.01 323.25 494.96 322.64 492.98 321.75C491 320.85 489.57 319.77 488.67 318.51C487.77 317.25 487.05 315.99 487.59 314.2Z"/>
</g>
<g fill="none" stroke="#fff" transform="translate(317.65 193.35)"><path stroke-width="1.4" d="M38.97 102.09L351.47 212.55M40.03 99.07L352.53 209.54M42.08 103.19L43.14 100.17M48.3 105.38L49.37 102.37M54.52 107.58L55.59 104.57M60.75 109.78L61.81 106.77M66.97 111.98L68.04 108.97M73.19 114.18L74.26 111.17M79.41 116.38L80.48 113.37M85.64 118.58L86.7 115.57M91.86 120.78L92.93 117.77M98.08 122.98L99.15 119.97M104.3 125.18L105.37 122.17M110.53 127.38L111.59 124.36M116.75 129.58L117.82 126.56M122.97 131.78L124.04 128.76M129.2 133.98L130.26 130.96M135.42 136.18L136.48 133.16M141.64 138.38L142.71 135.36M147.86 140.58L148.93 137.56M154.09 142.78L155.15 139.76M160.31 144.98L161.37 141.96M166.53 147.18L167.6 144.16M172.75 149.38L173.82 146.36M178.98 151.58L180.04 148.56M185.2 153.78L186.27 150.76M191.42 155.98L192.49 152.96M197.64 158.18L198.71 155.16M203.87 160.38L204.93 157.36M210.09 162.58L211.16 159.56M216.31 164.78L217.38 161.76M222.53 166.98L223.6 163.96M228.76 169.18L229.82 166.16M234.98 171.38L236.05 168.36M241.2 173.58L242.27 170.56M247.43 175.78L248.49 172.76M253.65 177.98L254.71 174.96M259.87 180.17L260.94 177.16M266.09 182.37L267.16 179.36M272.32 184.57L273.38 181.56M278.54 186.77L279.61 183.76M284.76 188.97L285.83 185.96M290.98 191.17L292.05 188.16M297.21 193.37L298.27 190.36M303.43 195.57L304.5 192.56M309.65 197.77L310.72 194.76M315.87 199.97L316.94 196.96M322.1 202.17L323.16 199.15M328.32 204.37L329.39 201.35M334.54 206.57L335.61 203.55M340.76 208.77L341.83 205.75M346.99 210.97L348.05 207.95M118.49 79.93L351.49 158.91M119.51 76.9L352.51 155.88M121.61 80.99L122.64 77.96M127.86 83.1L128.89 80.07M134.11 85.22L135.14 82.19M140.36 87.34L141.39 84.31M146.61 89.46L147.64 86.43M152.86 91.58L153.89 88.55M159.12 93.7L160.14 90.67M165.37 95.82L166.39 92.79M171.62 97.94L172.64 94.91M177.87 100.06L178.89 97.03M184.12 102.18L185.15 99.14M190.37 104.29L191.4 101.26M196.62 106.41L197.65 103.38M202.87 108.53L203.9 105.5M209.12 110.65L210.15 107.62M215.37 112.77L216.4 109.74M221.62 114.89L222.65 111.86M227.87 117.01L228.9 113.98M234.12 119.13L235.15 116.1M240.37 121.25L241.4 118.22M246.62 123.36L247.65 120.33M252.87 125.48L253.9 122.45M259.12 127.6L260.15 124.57M265.38 129.72L266.4 126.69M271.63 131.84L272.65 128.81M277.88 133.96L278.9 130.93M284.13 136.08L285.15 133.05M290.38 138.2L291.41 135.17M296.63 140.32L297.66 137.29M302.88 142.44L303.91 139.4M309.13 144.55L310.16 141.52M315.38 146.67L316.41 143.64M321.63 148.79L322.66 145.76M327.88 150.91L328.91 147.88M334.13 153.03L335.16 150M340.38 155.15L341.41 152.12M346.63 157.27L347.66 154.24M143.69 67.03L179.39 88.03M144.91 64.97L180.61 85.97M169.55 82.24L170.77 80.18M179.39 88.15L230.89 115.55M180.61 85.85L232.11 113.25M182.39 89.74L183.61 87.45M188.39 92.94L189.62 90.64M194.4 96.13L195.62 93.84M200.4 99.33L201.62 97.03M206.4 102.52L207.63 100.23M212.41 105.71L213.63 103.42M218.41 108.91L219.63 106.61M224.41 112.1L225.63 109.81M230.42 115.3L231.64 113"/><path stroke-width="1.1" d="M38.9 100.8L126.8 57.3M40.9 103.2L127.3 60.3M48.7 107.1L123.9 67.6M54.6 108.6L121 73.9M62.4 110.1L118 80.3M73.1 112.5L119 88.1M47.5 106L124.5 66.2M46.07 97.25L49.65 104.48M54.14 93.26L61.73 108.61M62.2 89.27L73.57 112.25M70.27 85.28L81.53 108.02M78.34 81.28L89.48 103.8M86.4 77.29L97.43 99.57M94.47 73.3L105.38 95.34M102.53 69.31L113.33 91.12M44.17 98.19L46.08 100.63M47.69 96.45L49.54 98.91M51.21 94.71L53 97.19M54.72 92.97L56.45 95.48M58.24 91.23L59.91 93.76M61.75 89.49L63.36 92.05M65.27 87.75L66.82 90.33M68.79 86.01L70.28 88.61M72.3 84.27L73.73 86.9M75.82 82.53L77.19 85.18M79.33 80.79L80.64 83.47M82.85 79.05L84.1 81.75M86.37 77.31L87.56 80.03M89.88 75.57L91.01 78.32M93.4 73.83L94.47 76.6M96.91 72.09L97.92 74.89M100.43 70.35L101.38 73.17M103.95 68.61L104.84 71.45M107.46 66.87L108.29 69.74M110.98 65.13L111.75 68.02M114.49 63.39L115.2 66.31M118.01 61.65L118.66 64.59M121.53 59.91L122.12 62.87M125.04 58.17L125.57 61.16M120.5 58.5L120.5 82M126.9 57L126.9 80M120.5 60L126.9 80M120.3 72L107.3 119.5M123 74.6L110.9 120.77M125.7 77.2L114.5 122.05M128.4 79.8L118.1 123.32M119.78 73.9L127.99 81.54M118.74 77.7L127.16 85.02M117.7 81.5L126.34 88.5M116.66 85.3L125.52 91.98M115.62 89.1L124.69 95.46M114.58 92.9L123.87 98.94M113.54 96.7L123.04 102.42M112.5 100.5L122.22 105.9M111.46 104.3L121.4 109.38M110.42 108.1L120.57 112.86M109.38 111.9L119.75 116.34M108.34 115.7L118.92 119.82M107.3 119.5L118.1 123.3M137.5 65.1L120.5 127.3M144 66.3L127 130.2M140.75 65.7L123.75 128.75M137.5 65.1L144 66.3M136.39 69.16L142.89 70.47M135.28 73.23L141.78 74.65M134.17 77.29L140.67 78.82M133.06 81.35L139.56 83M131.95 85.42L138.45 87.17M130.84 89.48L137.34 91.35M129.73 93.55L136.23 95.52M128.61 97.61L135.11 99.7M127.5 101.67L134 103.87M126.39 105.74L132.89 108.05M125.28 109.8L131.78 112.22M124.17 113.86L130.67 116.4M123.06 117.93L129.56 120.57M121.95 121.99L128.45 124.75M120.84 126.06L127.34 128.92M127.2 58.5L138 64.6M126.9 62L137 67.5M183.4 82.9L188.2 78.8L219 88.9L247.5 97.4L266.2 104.7L257.5 121.3M261.8 123.5L270.6 106.1L291.9 114.2L296.3 115.6L313.9 126.6L305.8 138M183.4 82.9L246 117.5M184.5 81.6L237 110.6M207.3 86L204.6 92.5M219.3 89.6L214.9 97.9M238.6 97.4L233.6 108.6M252.5 101.3L245.2 115.9M235.8 103.6L248.6 108.6M249.2 108.9L261.6 113.4M292.72 114.22L284.42 134.02M295.48 115.38L287.18 135.18M292.06 115.79L294.83 116.95M290.74 118.92L293.51 120.08M289.43 122.06L292.2 123.22M288.12 125.19L290.88 126.35M286.8 128.33L289.57 129.49M285.49 131.47L288.25 132.63"/><path stroke-width="1.2" d="M202.17 84.81L206.62 87.27M192.52 81.63L205.85 89.02M205.08 90.76L190.3 82.57M209.01 86.75L205.92 93.07M211.23 87.44L207.97 94.13M213.45 88.13L210.01 95.18M215.67 88.82L212.06 96.24M217.89 89.52L214.1 97.29M234.47 97.01L238 98.96M226.62 94.83L237.2 100.69M236.39 102.42L220.21 93.45M235.59 104.15L219.28 95.1M234.79 105.87L218.35 96.76M233.99 107.6L217.42 98.42M240.42 98.15L234.51 109.26M242.66 98.84L236.48 110.46M244.89 99.53L238.44 111.66M247.13 100.22L240.41 112.85M249.37 100.92L242.38 114.05M251.6 101.61L244.35 115.25M254.33 102.22L246.74 116.5M256.6 102.85L248.88 117.37M258.87 103.48L251.03 118.24M261.14 104.11L253.17 119.1M263.41 104.74L255.31 119.97M265.68 105.37L257.46 120.84M275.13 108.43L290.64 115.33M289.91 117.2L270.04 108.35M289.18 119.06L269.16 110.15M288.45 120.93L268.27 111.94M287.73 122.79L267.39 113.74M287 124.66L266.51 115.54M286.27 126.52L265.63 117.33M285.54 128.39L264.74 119.13M284.82 130.26L263.86 120.93M284.09 132.12L262.98 122.72M283.36 133.99L275.05 130.29M303.93 120.94L296.46 117.3M312.59 127.39L295.58 119.1M311.45 129.06L294.7 120.89M310.31 130.73L293.83 122.69M309.17 132.4L292.95 124.49M308.02 134.06L292.07 126.28M306.88 135.73L291.19 128.08M305.74 137.4L290.31 129.88M298.9 136.29L289.43 131.67M291.29 134.8L288.56 133.47"/></g>
<text font-style="italic" font-size="18.8" stroke="#000" stroke-width="0.25" transform="translate(617.35 304.75) rotate(19.8)" textLength="47" lengthAdjust="spacingAndGlyphs">22307</text>
<text font-style="italic" font-size="18.8" stroke="#000" stroke-width="0.25" transform="translate(586.05 399.95) rotate(18.6)" textLength="47" lengthAdjust="spacingAndGlyphs">52304</text>
<rect x="354.85" y="398.9" width="185.4" height="22.6" fill="#fff"/>
<text x="356.15" y="416.3" font-size="19" stroke="#000" stroke-width="0.2" textLength="182.6" lengthAdjust="spacingAndGlyphs">12/13/2012-02/06/2013</text>
</g>
<rect x="354.85" y="230.45" width="314.25" height="191.05" fill="none" stroke="#000" stroke-width="1.7"/>
<clipPath id="c5"><rect x="671.9" y="230.45" width="314.25" height="191.05"/></clipPath>
<g clip-path="url(#c5)">
<rect x="671.9" y="230.45" width="314.25" height="191.05" fill="#00f59e"/>
<g filter="url(#fg)" fill="#00f200">
<path d="M769 330.37C769 326.06 769.72 320.67 771.16 315.27C772.59 309.88 775.11 303.41 777.63 298.02C780.14 292.63 783.38 287.59 786.25 282.92C789.13 278.25 791.65 273.58 794.88 269.98C798.12 266.39 802.07 264.23 805.67 261.35C809.26 258.48 813.22 255.6 816.45 252.73C819.69 249.85 821.48 245.9 825.08 244.1C828.67 242.3 834.07 241.22 838.02 241.94C841.97 242.66 844.85 246.61 848.8 248.41C852.76 250.21 857.07 251.65 861.75 252.73C866.42 253.8 872.17 254.16 876.84 254.88C881.52 255.6 885.47 255.24 889.78 257.04C894.1 258.84 898.77 262.43 902.73 265.67C906.68 268.9 910.27 272.86 913.51 276.45C916.75 280.05 920.34 284.36 922.14 287.24C923.93 290.11 924.65 291.55 924.29 293.71C923.93 295.86 919.26 298.02 919.98 300.18C920.7 302.33 928.25 303.41 928.61 306.65C928.97 309.88 923.58 315.27 922.14 319.59C920.7 323.9 918.54 329.65 919.98 332.53C921.42 335.41 927.17 335.05 930.76 336.84C934.36 338.64 940.11 340.8 941.55 343.31C942.99 345.83 941.55 349.78 939.39 351.94C937.24 354.1 932.56 355.18 928.61 356.25C924.65 357.33 919.26 357.69 915.67 358.41C912.07 359.13 909.92 359.13 907.04 360.57C904.16 362.01 902.01 365.96 898.41 367.04C894.82 368.12 889.78 366.68 885.47 367.04C881.16 367.4 876.84 368.12 872.53 369.2C868.22 370.27 863.9 372.43 859.59 373.51C855.27 374.59 850.96 374.95 846.65 375.67C842.33 376.39 838.02 377.82 833.71 377.82C829.39 377.82 825.08 377.1 820.76 375.67C816.45 374.23 812.14 371.35 807.82 369.2C803.51 367.04 799.2 365.6 794.88 362.73C790.57 359.85 785.9 355.54 781.94 351.94C777.99 348.35 773.31 344.75 771.16 341.16C769 337.56 769 334.69 769 330.37Z"/>
<path fill-opacity="0.5" d="M730 233.66C734.14 231.33 753.55 231.07 757.95 233.66C762.35 236.25 760.54 246.86 756.4 249.19C752.26 251.51 737.51 250.22 733.11 247.63C728.71 245.04 725.86 235.99 730 233.66Z"/>
<path fill-opacity="0.52" d="M816.96 235.21C822.65 231.59 842.32 227.45 848.01 232.11C853.71 236.76 854.74 256.95 851.12 263.16C847.49 269.37 832.48 270.92 826.27 269.37C820.06 267.82 815.4 259.54 813.85 253.84C812.3 248.15 811.26 238.83 816.96 235.21Z"/>
<path fill-opacity="0.5" d="M907.02 334.59C913.23 330.96 937.55 331.48 950.49 331.48C963.43 331.48 978.96 329.93 984.65 334.59C990.35 339.24 990.35 356.32 984.65 359.43C978.96 362.54 962.4 354.25 950.49 353.22C938.59 352.18 920.47 356.32 913.23 353.22C905.98 350.11 900.8 338.21 907.02 334.59Z"/>
<path fill-opacity="0.48" d="M748.64 390.48C751.74 389.04 764.16 389.04 767.27 390.48C770.38 391.93 770.38 397.73 767.27 399.18C764.16 400.63 751.74 400.63 748.64 399.18C745.53 397.73 745.53 391.93 748.64 390.48Z"/>
<path fill-opacity="0.48" d="M789.01 347.01C791.6 345.46 801.43 359.95 810.75 365.64C820.06 371.33 841.28 377.03 844.91 381.17C848.53 385.31 840.77 391.52 832.48 390.48C824.2 389.45 802.46 382.2 795.22 374.96C787.97 367.71 786.42 348.56 789.01 347.01Z"/>
<path fill-opacity="0.5" d="M698.95 374.96C700.76 372.89 709.04 371.85 711.37 373.4C713.7 374.96 714.74 382.2 712.92 384.27C711.11 386.34 702.83 387.38 700.5 385.83C698.17 384.27 697.14 377.03 698.95 374.96Z"/>
<path fill-opacity="0.78" d="M919.98 233.31C921.06 230.62 932.56 231.16 937.24 232.24C941.91 233.31 945.5 236.37 948.02 239.78C950.54 243.2 951.97 248.41 952.33 252.73C952.69 257.04 951.97 262.79 950.18 265.67C948.38 268.54 944.07 270.7 941.55 269.98C939.03 269.26 936.88 264.95 935.08 261.35C933.28 257.76 933.28 253.08 930.76 248.41C928.25 243.74 918.9 236.01 919.98 233.31Z"/>
<path fill-opacity="0.7" d="M958.8 265.67C960.6 263.51 968.51 262.43 971.75 263.51C974.98 264.59 978.22 269.26 978.22 272.14C978.22 275.01 974.62 280.05 971.75 280.76C968.87 281.48 963.12 278.97 960.96 276.45C958.8 273.93 957.01 267.82 958.8 265.67Z"/>
<path fill-opacity="0.93" d="M917.82 367.04C918.54 364.16 924.65 360.57 928.61 358.41C932.56 356.25 936.52 354.46 941.55 354.1C946.58 353.74 953.41 356.25 958.8 356.25C964.2 356.25 969.59 354.1 973.9 354.1C978.22 354.1 982.89 351.94 984.69 356.25C986.48 360.57 986.84 376.39 984.69 379.98C982.53 383.58 976.06 378.54 971.75 377.82C967.43 377.1 963.84 375.67 958.8 375.67C953.77 375.67 947.3 377.82 941.55 377.82C935.8 377.82 928.25 377.46 924.29 375.67C920.34 373.87 917.1 369.92 917.82 367.04Z"/>
</g>
<g filter="url(#flime)" fill="#78f800">
<path d="M787.33 308.8C787.51 305.57 788.23 300.72 790.57 298.02C792.91 295.32 797.4 293.35 801.35 292.63C805.31 291.91 809.98 292.81 814.29 293.71C818.61 294.6 822.92 296.58 827.24 298.02C831.55 299.46 836.94 300.18 840.18 302.33C843.41 304.49 845.75 307.37 846.65 310.96C847.55 314.56 846.65 319.95 845.57 323.9C844.49 327.86 842.51 331.81 840.18 334.69C837.84 337.56 834.78 340.44 831.55 341.16C828.31 341.88 824.36 340.08 820.76 339C817.17 337.92 813.93 336.84 809.98 334.69C806.03 332.53 800.45 328.93 797.04 326.06C793.62 323.18 791.11 320.31 789.49 317.43C787.87 314.56 787.15 312.04 787.33 308.8Z"/>
</g>
<g filter="url(#fygr)" fill="#dcfa00">
<path d="M788.41 308.8C788.66 305.71 789.42 300.97 791.65 298.45C793.88 295.93 798.01 294.28 801.78 293.71C805.56 293.13 810.12 294.1 814.29 295C818.46 295.9 822.67 297.66 826.8 299.1C830.94 300.54 836.15 301.47 839.1 303.63C842.05 305.78 843.77 308.66 844.49 312.04C845.21 315.42 844.49 320.31 843.41 323.9C842.33 327.5 840.28 331.02 838.02 333.61C835.75 336.2 832.77 338.82 829.82 339.43C826.88 340.04 823.64 338.35 820.33 337.27C817.03 336.2 813.79 335.01 809.98 332.96C806.17 330.91 800.78 327.64 797.47 324.98C794.16 322.32 791.65 319.7 790.14 317C788.63 314.3 788.16 311.9 788.41 308.8Z"/>
</g>
<g filter="url(#fyel)" fill="#ffe100">
<path d="M789.49 308.8C789.78 305.93 790.57 301.43 792.73 299.1C794.88 296.76 798.84 295.25 802.43 294.78C806.03 294.32 810.34 295.4 814.29 296.29C818.25 297.19 822.2 298.74 826.16 300.18C830.11 301.61 835.32 302.76 838.02 304.92C840.72 307.08 841.79 309.95 842.33 313.12C842.87 316.28 842.33 320.67 841.25 323.9C840.18 327.14 838.02 330.19 835.86 332.53C833.71 334.87 831.01 337.38 828.31 337.92C825.62 338.46 822.74 336.84 819.69 335.76C816.63 334.69 813.58 333.43 809.98 331.45C806.39 329.47 801.28 326.42 798.12 323.9C794.95 321.39 792.44 318.87 791 316.35C789.56 313.84 789.2 311.68 789.49 308.8Z"/>
</g>
<g filter="url(#fora)" fill="#ffa000">
<path d="M791.65 309.88C792.11 307.73 793.8 304.13 795.96 302.33C798.12 300.54 801.53 299.64 804.59 299.1C807.64 298.56 810.88 298.56 814.29 299.1C817.71 299.64 821.66 300.9 825.08 302.33C828.49 303.77 832.81 305.57 834.78 307.73C836.76 309.88 836.94 312.58 836.94 315.27C836.94 317.97 836.04 321.57 834.78 323.9C833.53 326.24 831.73 328.22 829.39 329.29C827.06 330.37 823.82 330.73 820.76 330.37C817.71 330.01 814.47 328.75 811.06 327.14C807.64 325.52 803.26 322.64 800.27 320.67C797.29 318.69 794.59 317.07 793.16 315.27C791.72 313.48 791.18 312.04 791.65 309.88Z"/>
</g>
<g filter="url(#fore)" fill="#ff5a00">
<path d="M793.8 310.96C794.45 309.24 797.04 305.93 799.2 304.49C801.35 303.05 804.05 303.05 806.75 302.33C809.44 301.61 812.5 300 815.37 300.18C818.25 300.36 821.12 301.97 824 303.41C826.88 304.85 830.83 306.83 832.63 308.8C834.42 310.78 834.78 312.94 834.78 315.27C834.78 317.61 833.89 320.85 832.63 322.82C831.37 324.8 829.39 326.24 827.24 327.14C825.08 328.04 822.38 328.58 819.69 328.22C816.99 327.86 814.11 326.6 811.06 324.98C808 323.36 803.98 320.2 801.35 318.51C798.73 316.82 796.57 316.1 795.31 314.84C794.06 313.58 793.16 312.69 793.8 310.96Z"/>
</g>
<g filter="url(#fred)" fill="#ff0000">
<path d="M806.75 313.12C807.1 310.78 808.18 306.47 809.98 304.49C811.78 302.51 815.01 301.25 817.53 301.25C820.05 301.25 822.74 303.23 825.08 304.49C827.42 305.75 830.04 307.01 831.55 308.8C833.06 310.6 834.07 313.12 834.14 315.27C834.21 317.43 833.31 319.95 831.98 321.75C830.65 323.54 828.39 325.16 826.16 326.06C823.93 326.96 820.94 327.5 818.61 327.14C816.27 326.78 813.93 325.34 812.14 323.9C810.34 322.46 808.72 320.31 807.82 318.51C806.92 316.71 806.39 315.45 806.75 313.12Z"/>
</g>
<g fill="none" stroke="#fff" transform="translate(634.7 193.35)"><path stroke-width="1.4" d="M38.97 102.09L351.47 212.55M40.03 99.07L352.53 209.54M42.08 103.19L43.14 100.17M48.3 105.38L49.37 102.37M54.52 107.58L55.59 104.57M60.75 109.78L61.81 106.77M66.97 111.98L68.04 108.97M73.19 114.18L74.26 111.17M79.41 116.38L80.48 113.37M85.64 118.58L86.7 115.57M91.86 120.78L92.93 117.77M98.08 122.98L99.15 119.97M104.3 125.18L105.37 122.17M110.53 127.38L111.59 124.36M116.75 129.58L117.82 126.56M122.97 131.78L124.04 128.76M129.2 133.98L130.26 130.96M135.42 136.18L136.48 133.16M141.64 138.38L142.71 135.36M147.86 140.58L148.93 137.56M154.09 142.78L155.15 139.76M160.31 144.98L161.37 141.96M166.53 147.18L167.6 144.16M172.75 149.38L173.82 146.36M178.98 151.58L180.04 148.56M185.2 153.78L186.27 150.76M191.42 155.98L192.49 152.96M197.64 158.18L198.71 155.16M203.87 160.38L204.93 157.36M210.09 162.58L211.16 159.56M216.31 164.78L217.38 161.76M222.53 166.98L223.6 163.96M228.76 169.18L229.82 166.16M234.98 171.38L236.05 168.36M241.2 173.58L242.27 170.56M247.43 175.78L248.49 172.76M253.65 177.98L254.71 174.96M259.87 180.17L260.94 177.16M266.09 182.37L267.16 179.36M272.32 184.57L273.38 181.56M278.54 186.77L279.61 183.76M284.76 188.97L285.83 185.96M290.98 191.17L292.05 188.16M297.21 193.37L298.27 190.36M303.43 195.57L304.5 192.56M309.65 197.77L310.72 194.76M315.87 199.97L316.94 196.96M322.1 202.17L323.16 199.15M328.32 204.37L329.39 201.35M334.54 206.57L335.61 203.55M340.76 208.77L341.83 205.75M346.99 210.97L348.05 207.95M118.49 79.93L351.49 158.91M119.51 76.9L352.51 155.88M121.61 80.99L122.64 77.96M127.86 83.1L128.89 80.07M134.11 85.22L135.14 82.19M140.36 87.34L141.39 84.31M146.61 89.46L147.64 86.43M152.86 91.58L153.89 88.55M159.12 93.7L160.14 90.67M165.37 95.82L166.39 92.79M171.62 97.94L172.64 94.91M177.87 100.06L178.89 97.03M184.12 102.18L185.15 99.14M190.37 104.29L191.4 101.26M196.62 106.41L197.65 103.38M202.87 108.53L203.9 105.5M209.12 110.65L210.15 107.62M215.37 112.77L216.4 109.74M221.62 114.89L222.65 111.86M227.87 117.01L228.9 113.98M234.12 119.13L235.15 116.1M240.37 121.25L241.4 118.22M246.62 123.36L247.65 120.33M252.87 125.48L253.9 122.45M259.12 127.6L260.15 124.57M265.38 129.72L266.4 126.69M271.63 131.84L272.65 128.81M277.88 133.96L278.9 130.93M284.13 136.08L285.15 133.05M290.38 138.2L291.41 135.17M296.63 140.32L297.66 137.29M302.88 142.44L303.91 139.4M309.13 144.55L310.16 141.52M315.38 146.67L316.41 143.64M321.63 148.79L322.66 145.76M327.88 150.91L328.91 147.88M334.13 153.03L335.16 150M340.38 155.15L341.41 152.12M346.63 157.27L347.66 154.24M143.69 67.03L179.39 88.03M144.91 64.97L180.61 85.97M169.55 82.24L170.77 80.18M179.39 88.15L230.89 115.55M180.61 85.85L232.11 113.25M182.39 89.74L183.61 87.45M188.39 92.94L189.62 90.64M194.4 96.13L195.62 93.84M200.4 99.33L201.62 97.03M206.4 102.52L207.63 100.23M212.41 105.71L213.63 103.42M218.41 108.91L219.63 106.61M224.41 112.1L225.63 109.81M230.42 115.3L231.64 113"/><path stroke-width="1.1" d="M38.9 100.8L126.8 57.3M40.9 103.2L127.3 60.3M48.7 107.1L123.9 67.6M54.6 108.6L121 73.9M62.4 110.1L118 80.3M73.1 112.5L119 88.1M47.5 106L124.5 66.2M46.07 97.25L49.65 104.48M54.14 93.26L61.73 108.61M62.2 89.27L73.57 112.25M70.27 85.28L81.53 108.02M78.34 81.28L89.48 103.8M86.4 77.29L97.43 99.57M94.47 73.3L105.38 95.34M102.53 69.31L113.33 91.12M44.17 98.19L46.08 100.63M47.69 96.45L49.54 98.91M51.21 94.71L53 97.19M54.72 92.97L56.45 95.48M58.24 91.23L59.91 93.76M61.75 89.49L63.36 92.05M65.27 87.75L66.82 90.33M68.79 86.01L70.28 88.61M72.3 84.27L73.73 86.9M75.82 82.53L77.19 85.18M79.33 80.79L80.64 83.47M82.85 79.05L84.1 81.75M86.37 77.31L87.56 80.03M89.88 75.57L91.01 78.32M93.4 73.83L94.47 76.6M96.91 72.09L97.92 74.89M100.43 70.35L101.38 73.17M103.95 68.61L104.84 71.45M107.46 66.87L108.29 69.74M110.98 65.13L111.75 68.02M114.49 63.39L115.2 66.31M118.01 61.65L118.66 64.59M121.53 59.91L122.12 62.87M125.04 58.17L125.57 61.16M120.5 58.5L120.5 82M126.9 57L126.9 80M120.5 60L126.9 80M120.3 72L107.3 119.5M123 74.6L110.9 120.77M125.7 77.2L114.5 122.05M128.4 79.8L118.1 123.32M119.78 73.9L127.99 81.54M118.74 77.7L127.16 85.02M117.7 81.5L126.34 88.5M116.66 85.3L125.52 91.98M115.62 89.1L124.69 95.46M114.58 92.9L123.87 98.94M113.54 96.7L123.04 102.42M112.5 100.5L122.22 105.9M111.46 104.3L121.4 109.38M110.42 108.1L120.57 112.86M109.38 111.9L119.75 116.34M108.34 115.7L118.92 119.82M107.3 119.5L118.1 123.3M137.5 65.1L120.5 127.3M144 66.3L127 130.2M140.75 65.7L123.75 128.75M137.5 65.1L144 66.3M136.39 69.16L142.89 70.47M135.28 73.23L141.78 74.65M134.17 77.29L140.67 78.82M133.06 81.35L139.56 83M131.95 85.42L138.45 87.17M130.84 89.48L137.34 91.35M129.73 93.55L136.23 95.52M128.61 97.61L135.11 99.7M127.5 101.67L134 103.87M126.39 105.74L132.89 108.05M125.28 109.8L131.78 112.22M124.17 113.86L130.67 116.4M123.06 117.93L129.56 120.57M121.95 121.99L128.45 124.75M120.84 126.06L127.34 128.92M127.2 58.5L138 64.6M126.9 62L137 67.5M183.4 82.9L188.2 78.8L219 88.9L247.5 97.4L266.2 104.7L257.5 121.3M261.8 123.5L270.6 106.1L291.9 114.2L296.3 115.6L313.9 126.6L305.8 138M183.4 82.9L246 117.5M184.5 81.6L237 110.6M207.3 86L204.6 92.5M219.3 89.6L214.9 97.9M238.6 97.4L233.6 108.6M252.5 101.3L245.2 115.9M235.8 103.6L248.6 108.6M249.2 108.9L261.6 113.4M292.72 114.22L284.42 134.02M295.48 115.38L287.18 135.18M292.06 115.79L294.83 116.95M290.74 118.92L293.51 120.08M289.43 122.06L292.2 123.22M288.12 125.19L290.88 126.35M286.8 128.33L289.57 129.49M285.49 131.47L288.25 132.63"/><path stroke-width="1.2" d="M202.17 84.81L206.62 87.27M192.52 81.63L205.85 89.02M205.08 90.76L190.3 82.57M209.01 86.75L205.92 93.07M211.23 87.44L207.97 94.13M213.45 88.13L210.01 95.18M215.67 88.82L212.06 96.24M217.89 89.52L214.1 97.29M234.47 97.01L238 98.96M226.62 94.83L237.2 100.69M236.39 102.42L220.21 93.45M235.59 104.15L219.28 95.1M234.79 105.87L218.35 96.76M233.99 107.6L217.42 98.42M240.42 98.15L234.51 109.26M242.66 98.84L236.48 110.46M244.89 99.53L238.44 111.66M247.13 100.22L240.41 112.85M249.37 100.92L242.38 114.05M251.6 101.61L244.35 115.25M254.33 102.22L246.74 116.5M256.6 102.85L248.88 117.37M258.87 103.48L251.03 118.24M261.14 104.11L253.17 119.1M263.41 104.74L255.31 119.97M265.68 105.37L257.46 120.84M275.13 108.43L290.64 115.33M289.91 117.2L270.04 108.35M289.18 119.06L269.16 110.15M288.45 120.93L268.27 111.94M287.73 122.79L267.39 113.74M287 124.66L266.51 115.54M286.27 126.52L265.63 117.33M285.54 128.39L264.74 119.13M284.82 130.26L263.86 120.93M284.09 132.12L262.98 122.72M283.36 133.99L275.05 130.29M303.93 120.94L296.46 117.3M312.59 127.39L295.58 119.1M311.45 129.06L294.7 120.89M310.31 130.73L293.83 122.69M309.17 132.4L292.95 124.49M308.02 134.06L292.07 126.28M306.88 135.73L291.19 128.08M305.74 137.4L290.31 129.88M298.9 136.29L289.43 131.67M291.29 134.8L288.56 133.47"/></g>
<text font-style="italic" font-size="18.8" stroke="#000" stroke-width="0.25" transform="translate(934.4 304.75) rotate(19.8)" textLength="47" lengthAdjust="spacingAndGlyphs">22307</text>
<text font-style="italic" font-size="18.8" stroke="#000" stroke-width="0.25" transform="translate(903.1 399.95) rotate(18.6)" textLength="47" lengthAdjust="spacingAndGlyphs">52304</text>
<rect x="671.9" y="398.9" width="185.4" height="22.6" fill="#fff"/>
<text x="673.2" y="416.3" font-size="19" stroke="#000" stroke-width="0.2" textLength="182.6" lengthAdjust="spacingAndGlyphs">12/13/2012-02/17/2013</text>
</g>
<rect x="671.9" y="230.45" width="314.25" height="191.05" fill="none" stroke="#000" stroke-width="1.7"/>
<clipPath id="c6"><rect x="37.2" y="424.15" width="314.7" height="191.05"/></clipPath>
<g clip-path="url(#c6)">
<rect x="37.2" y="424.15" width="314.7" height="191.05" fill="#00f59e"/>
<g filter="url(#fg)" fill="#00f200">
<path d="M132.81 533.48C132.02 529.56 130.06 522.9 130.45 517.03C130.85 511.15 133.59 504.49 135.16 498.22C136.72 491.95 137.9 484.9 139.86 479.42C141.82 473.93 143.77 468.84 146.91 465.31C150.04 461.79 154.74 460.22 158.66 458.26C162.58 456.3 166.5 455.52 170.42 453.56C174.33 451.6 178.25 448.86 182.17 446.51C186.09 444.16 189.61 441.02 193.92 439.45C198.23 437.89 203.72 436.32 208.03 437.1C212.33 437.89 215.47 442.2 219.78 444.16C224.09 446.11 229.18 447.68 233.88 448.86C238.58 450.03 243.68 449.64 247.99 451.21C252.3 452.77 256.21 455.91 259.74 458.26C263.27 460.61 265.62 462.57 269.14 465.31C272.67 468.05 277.76 471.97 280.9 474.71C284.03 477.46 287.16 479.42 287.95 481.77C288.73 484.12 284.81 485.68 285.6 488.82C286.38 491.95 293.04 496.26 292.65 500.57C292.26 504.88 285.6 509.97 283.25 514.67C280.9 519.38 276.98 525.64 278.54 528.78C280.11 531.91 288.34 531.52 292.65 533.48C296.96 535.44 303.23 537.79 304.4 540.53C305.58 543.27 302.83 548.06 299.7 549.93C296.57 551.81 290.3 551.25 285.6 551.79C280.9 552.32 275.8 552.46 271.49 553.14C267.18 553.81 264.05 555.61 259.74 555.84C255.43 556.06 250.34 554.94 245.64 554.49C240.93 554.04 235.84 552.6 231.53 553.14C227.22 553.67 223.7 556.54 219.78 557.69C215.86 558.84 211.94 558.86 208.03 560.04C204.11 561.21 200.19 563.96 196.27 564.74C192.35 565.52 188.44 565.52 184.52 564.74C180.6 563.96 177.08 561.75 172.77 560.04C168.46 558.33 163.36 556.56 158.66 554.49C153.96 552.41 148.48 549.91 144.56 547.58C140.64 545.26 137.11 542.88 135.16 540.53C133.2 538.18 133.59 537.4 132.81 533.48Z"/>
<path fill-opacity="0.48" d="M98.11 427.66C100.96 425.85 113.9 425.85 116.74 427.66C119.59 429.47 118.04 436.72 115.19 438.53C112.34 440.34 102.51 440.34 99.66 438.53C96.82 436.72 95.26 429.47 98.11 427.66Z"/>
<path fill-opacity="0.5" d="M222.33 426.11C226.99 424.04 248.72 424.04 253.38 426.11C258.04 428.18 254.94 436.46 250.28 438.53C245.62 440.6 230.09 440.6 225.43 438.53C220.78 436.46 217.67 428.18 222.33 426.11Z"/>
<path fill-opacity="0.5" d="M284.44 426.11C288.06 424.04 310.32 423.52 315.49 426.11C320.67 428.69 319.12 439.56 315.49 441.63C311.87 443.7 298.93 441.12 293.75 438.53C288.58 435.94 280.81 428.18 284.44 426.11Z"/>
<path fill-opacity="0.48" d="M138.48 547.22C141.59 546.7 156.6 558.61 166.43 562.75C176.26 566.89 194.38 568.96 197.48 572.06C200.59 575.17 193.34 582.41 185.06 581.38C176.78 580.34 155.56 571.54 147.8 565.85C140.03 560.16 135.38 547.74 138.48 547.22Z"/>
<path fill-opacity="0.48" d="M259.59 547.22C259.59 544.63 285.47 541.01 299.96 541.01C314.46 541.01 338.78 544.11 346.55 547.22C354.31 550.32 354.31 558.09 346.55 559.64C338.78 561.19 314.46 558.61 299.96 556.54C285.47 554.46 259.59 549.81 259.59 547.22Z"/>
<path fill-opacity="0.72" d="M295 444.16C295 440.24 297.35 434.36 299.7 432.4C302.05 430.44 306.75 430.44 309.1 432.4C311.45 434.36 313.02 439.85 313.8 444.16C314.59 448.47 314.98 455.13 313.8 458.26C312.63 461.39 309.1 463.35 306.75 462.96C304.4 462.57 301.66 459.04 299.7 455.91C297.74 452.77 295 448.07 295 444.16Z"/>
<path fill-opacity="0.93" d="M273.84 549.93C275.41 546.8 282.46 542.49 287.95 540.53C293.43 538.57 301.27 537.79 306.75 538.18C312.24 538.57 316.15 541.32 320.86 542.88C325.56 544.45 330.26 546.41 334.96 547.58C339.66 548.76 346.71 543.67 349.06 549.93C351.41 556.2 350.63 581.28 349.06 585.19C347.5 589.11 343.58 576.18 339.66 573.44C335.74 570.7 330.65 570.31 325.56 568.74C320.46 567.17 314.59 565.21 309.1 564.04C303.62 562.86 297.74 562.47 292.65 561.69C287.56 560.9 281.68 561.3 278.54 559.34C275.41 557.38 272.28 553.07 273.84 549.93Z"/>
</g>
<g filter="url(#flime)" fill="#78f800">
<path d="M139.86 500.57C140.05 497.05 141.03 493.71 143.38 491.17C145.73 488.62 149.85 486.27 153.96 485.29C158.07 484.31 162.97 484.51 168.06 485.29C173.16 486.08 179.43 488.23 184.52 489.99C189.61 491.76 194.31 493.71 198.62 495.87C202.93 498.02 207.63 500.18 210.38 502.92C213.12 505.66 214.69 509.19 215.08 512.32C215.47 515.46 214.29 518.59 212.73 521.73C211.16 524.86 208.81 528.97 205.67 531.13C202.54 533.28 198.23 535.05 193.92 534.66C189.61 534.26 184.52 530.54 179.82 528.78C175.12 527.02 170.42 525.64 165.71 524.08C161.01 522.51 155.53 521.33 151.61 519.38C147.69 517.42 144.17 515.46 142.21 512.32C140.25 509.19 139.66 504.1 139.86 500.57Z"/>
</g>
<g filter="url(#fygr)" fill="#dcfa00">
<path d="M140.8 501.04C141.03 497.67 142.29 494.07 144.56 491.64C146.83 489.21 150.51 487.33 154.43 486.47C158.35 485.61 163.13 485.76 168.06 486.47C173 487.17 179.15 489.05 184.05 490.7C188.95 492.34 193.45 494.22 197.45 496.34C201.44 498.46 205.67 500.65 208.03 503.39C210.38 506.13 211.47 509.66 211.55 512.79C211.63 515.93 210.18 519.22 208.5 522.2C206.81 525.17 204.26 528.86 201.44 530.66C198.62 532.46 195.25 533.52 191.57 533.01C187.89 532.5 183.66 529.29 179.35 527.6C175.04 525.92 170.26 524.47 165.71 522.9C161.17 521.33 155.84 520.04 152.08 518.2C148.32 516.36 145.03 514.71 143.15 511.85C141.27 508.99 140.56 504.41 140.8 501.04Z"/>
</g>
<g filter="url(#fyel)" fill="#ffe100">
<path d="M141.74 501.75C142.01 498.61 143.5 494.69 145.73 492.34C147.97 489.99 151.41 488.43 155.14 487.64C158.86 486.86 163.36 486.98 168.06 487.64C172.77 488.31 178.64 490.07 183.34 491.64C188.05 493.21 192.55 494.97 196.27 497.05C199.99 499.12 203.72 501.35 205.67 504.1C207.63 506.84 208.22 510.37 208.03 513.5C207.83 516.63 206.26 520.16 204.5 522.9C202.74 525.64 199.99 528.58 197.45 529.95C194.9 531.33 192.35 531.72 189.22 531.13C186.09 530.54 182.56 528 178.64 526.43C174.72 524.86 170.02 523.29 165.71 521.73C161.4 520.16 156.39 518.79 152.79 517.03C149.18 515.26 145.93 513.7 144.09 511.15C142.25 508.6 141.46 504.88 141.74 501.75Z"/>
</g>
<g filter="url(#fora)" fill="#ffa000">
<path d="M144.56 501.75C144.95 499.2 147.1 495.67 149.26 493.52C151.41 491.36 154.16 489.41 157.49 488.82C160.82 488.23 165.13 489.29 169.24 489.99C173.35 490.7 178.05 491.68 182.17 493.05C186.28 494.42 190.98 496.18 193.92 498.22C196.86 500.26 198.62 502.73 199.8 505.27C200.97 507.82 201.37 510.95 200.97 513.5C200.58 516.05 199.21 518.79 197.45 520.55C195.68 522.31 193.33 523.69 190.4 524.08C187.46 524.47 183.74 523.88 179.82 522.9C175.9 521.92 171 519.77 166.89 518.2C162.78 516.63 158.47 515.07 155.14 513.5C151.81 511.93 148.67 510.76 146.91 508.8C145.15 506.84 144.17 504.29 144.56 501.75Z"/>
</g>
<g filter="url(#fore)" fill="#ff5a00">
<path d="M149.26 501.75C149.73 499.47 152.2 495.67 153.96 493.52C155.72 491.36 157.1 489.01 159.84 488.82C162.58 488.62 166.69 491.56 170.42 492.34C174.14 493.13 178.45 492.54 182.17 493.52C185.89 494.5 190 496.26 192.75 498.22C195.49 500.18 197.57 502.73 198.62 505.27C199.68 507.82 199.68 511.15 199.09 513.5C198.51 515.85 196.94 518 195.1 519.38C193.26 520.75 190.79 521.65 188.05 521.73C185.3 521.81 182.17 520.83 178.64 519.85C175.12 518.87 170.42 517.3 166.89 515.85C163.36 514.4 160.11 512.6 157.49 511.15C154.86 509.7 152.51 508.72 151.14 507.15C149.77 505.59 148.79 504.02 149.26 501.75Z"/>
</g>
<g filter="url(#fred)" fill="#ff0000">
<path d="M156.31 502.92C156.12 501.16 158.27 499.2 161.01 498.22C163.76 497.24 169.04 497.83 172.77 497.05C176.49 496.26 180.01 493.32 183.34 493.52C186.67 493.71 190.28 496.26 192.75 498.22C195.21 500.18 197.17 502.92 198.15 505.27C199.13 507.62 199.33 510.05 198.62 512.32C197.92 514.6 195.88 517.53 193.92 518.91C191.96 520.28 189.61 520.67 186.87 520.55C184.13 520.43 180.21 519.38 177.47 518.2C174.72 517.03 172.96 515.07 170.42 513.5C167.87 511.93 164.54 510.56 162.19 508.8C159.84 507.04 156.51 504.68 156.31 502.92Z"/>
</g>
<g fill="none" stroke="#fff" transform="translate(0 387.05)"><path stroke-width="1.4" d="M38.97 102.09L351.47 212.55M40.03 99.07L352.53 209.54M42.08 103.19L43.14 100.17M48.3 105.38L49.37 102.37M54.52 107.58L55.59 104.57M60.75 109.78L61.81 106.77M66.97 111.98L68.04 108.97M73.19 114.18L74.26 111.17M79.41 116.38L80.48 113.37M85.64 118.58L86.7 115.57M91.86 120.78L92.93 117.77M98.08 122.98L99.15 119.97M104.3 125.18L105.37 122.17M110.53 127.38L111.59 124.36M116.75 129.58L117.82 126.56M122.97 131.78L124.04 128.76M129.2 133.98L130.26 130.96M135.42 136.18L136.48 133.16M141.64 138.38L142.71 135.36M147.86 140.58L148.93 137.56M154.09 142.78L155.15 139.76M160.31 144.98L161.37 141.96M166.53 147.18L167.6 144.16M172.75 149.38L173.82 146.36M178.98 151.58L180.04 148.56M185.2 153.78L186.27 150.76M191.42 155.98L192.49 152.96M197.64 158.18L198.71 155.16M203.87 160.38L204.93 157.36M210.09 162.58L211.16 159.56M216.31 164.78L217.38 161.76M222.53 166.98L223.6 163.96M228.76 169.18L229.82 166.16M234.98 171.38L236.05 168.36M241.2 173.58L242.27 170.56M247.43 175.78L248.49 172.76M253.65 177.98L254.71 174.96M259.87 180.17L260.94 177.16M266.09 182.37L267.16 179.36M272.32 184.57L273.38 181.56M278.54 186.77L279.61 183.76M284.76 188.97L285.83 185.96M290.98 191.17L292.05 188.16M297.21 193.37L298.27 190.36M303.43 195.57L304.5 192.56M309.65 197.77L310.72 194.76M315.87 199.97L316.94 196.96M322.1 202.17L323.16 199.15M328.32 204.37L329.39 201.35M334.54 206.57L335.61 203.55M340.76 208.77L341.83 205.75M346.99 210.97L348.05 207.95M118.49 79.93L351.49 158.91M119.51 76.9L352.51 155.88M121.61 80.99L122.64 77.96M127.86 83.1L128.89 80.07M134.11 85.22L135.14 82.19M140.36 87.34L141.39 84.31M146.61 89.46L147.64 86.43M152.86 91.58L153.89 88.55M159.12 93.7L160.14 90.67M165.37 95.82L166.39 92.79M171.62 97.94L172.64 94.91M177.87 100.06L178.89 97.03M184.12 102.18L185.15 99.14M190.37 104.29L191.4 101.26M196.62 106.41L197.65 103.38M202.87 108.53L203.9 105.5M209.12 110.65L210.15 107.62M215.37 112.77L216.4 109.74M221.62 114.89L222.65 111.86M227.87 117.01L228.9 113.98M234.12 119.13L235.15 116.1M240.37 121.25L241.4 118.22M246.62 123.36L247.65 120.33M252.87 125.48L253.9 122.45M259.12 127.6L260.15 124.57M265.38 129.72L266.4 126.69M271.63 131.84L272.65 128.81M277.88 133.96L278.9 130.93M284.13 136.08L285.15 133.05M290.38 138.2L291.41 135.17M296.63 140.32L297.66 137.29M302.88 142.44L303.91 139.4M309.13 144.55L310.16 141.52M315.38 146.67L316.41 143.64M321.63 148.79L322.66 145.76M327.88 150.91L328.91 147.88M334.13 153.03L335.16 150M340.38 155.15L341.41 152.12M346.63 157.27L347.66 154.24M143.69 67.03L179.39 88.03M144.91 64.97L180.61 85.97M169.55 82.24L170.77 80.18M179.39 88.15L230.89 115.55M180.61 85.85L232.11 113.25M182.39 89.74L183.61 87.45M188.39 92.94L189.62 90.64M194.4 96.13L195.62 93.84M200.4 99.33L201.62 97.03M206.4 102.52L207.63 100.23M212.41 105.71L213.63 103.42M218.41 108.91L219.63 106.61M224.41 112.1L225.63 109.81M230.42 115.3L231.64 113"/><path stroke-width="1.1" d="M38.9 100.8L126.8 57.3M40.9 103.2L127.3 60.3M48.7 107.1L123.9 67.6M54.6 108.6L121 73.9M62.4 110.1L118 80.3M73.1 112.5L119 88.1M47.5 106L124.5 66.2M46.07 97.25L49.65 104.48M54.14 93.26L61.73 108.61M62.2 89.27L73.57 112.25M70.27 85.28L81.53 108.02M78.34 81.28L89.48 103.8M86.4 77.29L97.43 99.57M94.47 73.3L105.38 95.34M102.53 69.31L113.33 91.12M44.17 98.19L46.08 100.63M47.69 96.45L49.54 98.91M51.21 94.71L53 97.19M54.72 92.97L56.45 95.48M58.24 91.23L59.91 93.76M61.75 89.49L63.36 92.05M65.27 87.75L66.82 90.33M68.79 86.01L70.28 88.61M72.3 84.27L73.73 86.9M75.82 82.53L77.19 85.18M79.33 80.79L80.64 83.47M82.85 79.05L84.1 81.75M86.37 77.31L87.56 80.03M89.88 75.57L91.01 78.32M93.4 73.83L94.47 76.6M96.91 72.09L97.92 74.89M100.43 70.35L101.38 73.17M103.95 68.61L104.84 71.45M107.46 66.87L108.29 69.74M110.98 65.13L111.75 68.02M114.49 63.39L115.2 66.31M118.01 61.65L118.66 64.59M121.53 59.91L122.12 62.87M125.04 58.17L125.57 61.16M120.5 58.5L120.5 82M126.9 57L126.9 80M120.5 60L126.9 80M120.3 72L107.3 119.5M123 74.6L110.9 120.77M125.7 77.2L114.5 122.05M128.4 79.8L118.1 123.32M119.78 73.9L127.99 81.54M118.74 77.7L127.16 85.02M117.7 81.5L126.34 88.5M116.66 85.3L125.52 91.98M115.62 89.1L124.69 95.46M114.58 92.9L123.87 98.94M113.54 96.7L123.04 102.42M112.5 100.5L122.22 105.9M111.46 104.3L121.4 109.38M110.42 108.1L120.57 112.86M109.38 111.9L119.75 116.34M108.34 115.7L118.92 119.82M107.3 119.5L118.1 123.3M137.5 65.1L120.5 127.3M144 66.3L127 130.2M140.75 65.7L123.75 128.75M137.5 65.1L144 66.3M136.39 69.16L142.89 70.47M135.28 73.23L141.78 74.65M134.17 77.29L140.67 78.82M133.06 81.35L139.56 83M131.95 85.42L138.45 87.17M130.84 89.48L137.34 91.35M129.73 93.55L136.23 95.52M128.61 97.61L135.11 99.7M127.5 101.67L134 103.87M126.39 105.74L132.89 108.05M125.28 109.8L131.78 112.22M124.17 113.86L130.67 116.4M123.06 117.93L129.56 120.57M121.95 121.99L128.45 124.75M120.84 126.06L127.34 128.92M127.2 58.5L138 64.6M126.9 62L137 67.5M183.4 82.9L188.2 78.8L219 88.9L247.5 97.4L266.2 104.7L257.5 121.3M261.8 123.5L270.6 106.1L291.9 114.2L296.3 115.6L313.9 126.6L305.8 138M183.4 82.9L246 117.5M184.5 81.6L237 110.6M207.3 86L204.6 92.5M219.3 89.6L214.9 97.9M238.6 97.4L233.6 108.6M252.5 101.3L245.2 115.9M235.8 103.6L248.6 108.6M249.2 108.9L261.6 113.4M292.72 114.22L284.42 134.02M295.48 115.38L287.18 135.18M292.06 115.79L294.83 116.95M290.74 118.92L293.51 120.08M289.43 122.06L292.2 123.22M288.12 125.19L290.88 126.35M286.8 128.33L289.57 129.49M285.49 131.47L288.25 132.63"/><path stroke-width="1.2" d="M202.17 84.81L206.62 87.27M192.52 81.63L205.85 89.02M205.08 90.76L190.3 82.57M209.01 86.75L205.92 93.07M211.23 87.44L207.97 94.13M213.45 88.13L210.01 95.18M215.67 88.82L212.06 96.24M217.89 89.52L214.1 97.29M234.47 97.01L238 98.96M226.62 94.83L237.2 100.69M236.39 102.42L220.21 93.45M235.59 104.15L219.28 95.1M234.79 105.87L218.35 96.76M233.99 107.6L217.42 98.42M240.42 98.15L234.51 109.26M242.66 98.84L236.48 110.46M244.89 99.53L238.44 111.66M247.13 100.22L240.41 112.85M249.37 100.92L242.38 114.05M251.6 101.61L244.35 115.25M254.33 102.22L246.74 116.5M256.6 102.85L248.88 117.37M258.87 103.48L251.03 118.24M261.14 104.11L253.17 119.1M263.41 104.74L255.31 119.97M265.68 105.37L257.46 120.84M275.13 108.43L290.64 115.33M289.91 117.2L270.04 108.35M289.18 119.06L269.16 110.15M288.45 120.93L268.27 111.94M287.73 122.79L267.39 113.74M287 124.66L266.51 115.54M286.27 126.52L265.63 117.33M285.54 128.39L264.74 119.13M284.82 130.26L263.86 120.93M284.09 132.12L262.98 122.72M283.36 133.99L275.05 130.29M303.93 120.94L296.46 117.3M312.59 127.39L295.58 119.1M311.45 129.06L294.7 120.89M310.31 130.73L293.83 122.69M309.17 132.4L292.95 124.49M308.02 134.06L292.07 126.28M306.88 135.73L291.19 128.08M305.74 137.4L290.31 129.88M298.9 136.29L289.43 131.67M291.29 134.8L288.56 133.47"/></g>
<path transform="translate(0 387.05)" fill="none" stroke="#fff" stroke-width="1.3" d="M139.18 83.82L123.98 129.12M142.02 84.78L126.82 130.08M138.51 85.81L141.35 86.77M137.17 89.8L140.02 90.75M135.84 93.78L138.68 94.73M134.5 97.76L137.35 98.71M133.17 101.74L136.01 102.7M131.83 105.72L134.67 106.68M130.49 109.7L133.34 110.66M129.16 113.69L132 114.64M127.82 117.67L130.67 118.62M126.49 121.65L129.33 122.6M125.15 125.63L127.99 126.59"/>
<text font-style="italic" font-size="18.8" stroke="#000" stroke-width="0.25" transform="translate(299.7 498.45) rotate(19.8)" textLength="47" lengthAdjust="spacingAndGlyphs">22307</text>
<text font-style="italic" font-size="18.8" stroke="#000" stroke-width="0.25" transform="translate(268.4 593.65) rotate(18.6)" textLength="47" lengthAdjust="spacingAndGlyphs">52304</text>
<rect x="37.2" y="592.6" width="185.4" height="22.6" fill="#fff"/>
<text x="38.5" y="610" font-size="19" stroke="#000" stroke-width="0.2" textLength="182.6" lengthAdjust="spacingAndGlyphs">12/13/2012-02/28/2013</text>
</g>
<rect x="37.2" y="424.15" width="314.7" height="191.05" fill="none" stroke="#000" stroke-width="1.7"/>
<clipPath id="c7"><rect x="354.85" y="424.15" width="314.25" height="191.05"/></clipPath>
<g clip-path="url(#c7)">
<rect x="354.85" y="424.15" width="314.25" height="191.05" fill="#00f59e"/>
<g filter="url(#fg)" fill="#00f200">
<path d="M441.4 526.43C437.88 523.69 430.35 522.12 427.3 519.38C424.24 516.63 423.46 514.28 423.07 509.97C422.68 505.66 423.07 498.42 424.95 493.52C426.83 488.62 430.04 483.53 434.35 480.59C438.66 477.65 446.89 478.83 450.81 475.89C454.72 472.95 454.72 465.9 457.86 462.96C460.99 460.02 465.3 459.83 469.61 458.26C473.92 456.69 479.01 455.13 483.71 453.56C488.42 451.99 493.12 450.42 497.82 448.86C502.52 447.29 507.22 445.72 511.92 444.16C516.62 442.59 521.32 439.45 526.03 439.45C530.73 439.45 535.43 442.59 540.13 444.16C544.83 445.72 549.53 447.29 554.23 448.86C558.93 450.42 564.42 451.6 568.34 453.56C572.25 455.52 574.61 458.26 577.74 460.61C580.87 462.96 584.01 464.92 587.14 467.66C590.28 470.4 594.19 474.32 596.54 477.06C598.9 479.81 601.25 481.77 601.25 484.12C601.25 486.47 594.98 488.43 596.54 491.17C598.11 493.91 609.86 496.65 610.65 500.57C611.43 504.49 603.6 509.97 601.25 514.67C598.9 519.38 594.98 525.64 596.54 528.78C598.11 531.91 605.95 532.3 610.65 533.48C615.35 534.66 620.05 534.66 624.75 535.83C629.45 537.01 634.15 538.96 638.86 540.53C643.56 542.1 648.26 544.06 652.96 545.23C657.66 546.41 664.71 541.98 667.06 547.58C669.41 553.19 668.24 575.2 667.06 578.84C665.89 582.49 662.36 572.57 660.01 569.44C657.66 566.31 655.7 562.31 652.96 560.04C650.22 557.77 647.48 556.23 643.56 555.84C639.64 555.45 634.15 557.69 629.45 557.69C624.75 557.69 620.05 556.37 615.35 555.84C610.65 555.3 605.56 554.94 601.25 554.49C596.94 554.04 593.41 552.91 589.49 553.14C585.57 553.36 582.05 555.61 577.74 555.84C573.43 556.06 568.34 554.71 563.64 554.49C558.93 554.26 553.84 553.95 549.53 554.49C545.22 555.02 541.7 556.37 537.78 557.69C533.86 559 529.94 561.21 526.03 562.39C522.11 563.56 518.19 564.74 514.27 564.74C510.35 564.74 506.83 563.56 502.52 562.39C498.21 561.21 493.12 559.23 488.42 557.69C483.71 556.15 479.01 555.21 474.31 553.14C469.61 551.06 464.52 548.12 460.21 545.23C455.9 542.35 451.59 538.96 448.45 535.83C445.32 532.7 444.93 529.17 441.4 526.43Z"/>
<path fill-opacity="0.48" d="M416.11 427.66C418.96 425.85 431.9 425.85 434.74 427.66C437.59 429.47 436.04 436.72 433.19 438.53C430.34 440.34 420.51 440.34 417.66 438.53C414.82 436.72 413.26 429.47 416.11 427.66Z"/>
<path fill-opacity="0.5" d="M540.33 426.11C544.99 424.04 566.72 424.04 571.38 426.11C576.04 428.18 572.94 436.46 568.28 438.53C563.62 440.6 548.09 440.6 543.43 438.53C538.78 436.46 535.67 428.18 540.33 426.11Z"/>
<path fill-opacity="0.5" d="M602.44 426.11C606.06 424.04 628.32 423.52 633.49 426.11C638.67 428.69 637.12 439.56 633.49 441.63C629.87 443.7 616.93 441.12 611.75 438.53C606.58 435.94 598.81 428.18 602.44 426.11Z"/>
<path fill-opacity="0.48" d="M456.48 547.22C459.59 546.7 474.6 558.61 484.43 562.75C494.26 566.89 512.38 568.96 515.48 572.06C518.59 575.17 511.34 582.41 503.06 581.38C494.78 580.34 473.56 571.54 465.8 565.85C458.03 560.16 453.38 547.74 456.48 547.22Z"/>
<path fill-opacity="0.48" d="M577.59 547.22C577.59 544.63 603.47 541.01 617.96 541.01C632.46 541.01 656.78 544.11 664.55 547.22C672.31 550.32 672.31 558.09 664.55 559.64C656.78 561.19 632.46 558.61 617.96 556.54C603.47 554.46 577.59 549.81 577.59 547.22Z"/>
<path fill-opacity="0.52" d="M355.55 559.64C357.11 554.21 364.35 554.46 366.42 559.64C368.49 564.82 369.53 585.26 367.97 590.7C366.42 596.13 359.18 597.42 357.11 592.25C355.04 587.07 354 565.08 355.55 559.64Z"/>
<path fill-opacity="0.68" d="M613 448.86C612.61 444.94 615.35 439.45 617.7 437.1C620.05 434.75 624.75 433.19 627.1 434.75C629.45 436.32 631.41 442.59 631.8 446.51C632.2 450.42 631.41 455.91 629.45 458.26C627.49 460.61 622.79 462.18 620.05 460.61C617.31 459.04 613.39 452.77 613 448.86Z"/>
</g>
<g filter="url(#flime)" fill="#78f800">
<path d="M454.33 498.22C454.8 495.48 455.7 492.15 457.86 489.99C460.01 487.84 464.32 486.86 467.26 485.29C470.2 483.72 472.35 480.59 475.49 480.59C478.62 480.59 481.56 483.92 486.06 485.29C490.57 486.66 497.43 487.45 502.52 488.82C507.61 490.19 512.31 491.56 516.62 493.52C520.93 495.48 525.63 497.83 528.38 500.57C531.12 503.31 532.69 506.45 533.08 509.97C533.47 513.5 532.29 518.2 530.73 521.73C529.16 525.25 526.81 528.78 523.67 531.13C520.54 533.48 515.84 536.22 511.92 535.83C508 535.44 504.48 531.13 500.17 528.78C495.86 526.43 490.77 523.29 486.06 521.73C481.36 520.16 476.27 520.55 471.96 519.38C467.65 518.2 463.03 516.83 460.21 514.67C457.39 512.52 456.02 509.19 455.04 506.45C454.06 503.71 453.86 500.96 454.33 498.22Z"/>
</g>
<g filter="url(#fygr)" fill="#dcfa00">
<path d="M455.27 498.46C455.74 495.87 456.72 492.77 458.8 490.7C460.87 488.62 464.91 487.49 467.73 486C470.55 484.51 472.63 481.77 475.72 481.77C478.82 481.77 481.87 484.67 486.3 486C490.73 487.33 497.31 488.35 502.28 489.76C507.26 491.17 512.12 492.58 516.15 494.46C520.19 496.34 524.14 498.38 526.5 501.04C528.85 503.71 530.02 507.07 530.26 510.44C530.49 513.81 529.47 518 527.91 521.26C526.34 524.51 523.71 527.88 520.85 529.95C517.99 532.03 514.27 534.11 510.75 533.71C507.22 533.32 503.81 529.76 499.7 527.6C495.58 525.45 490.65 522.35 486.06 520.79C481.48 519.22 476.39 519.38 472.2 518.2C468 517.03 463.62 515.73 460.91 513.73C458.21 511.74 456.92 508.76 455.98 506.21C455.04 503.67 454.8 501.04 455.27 498.46Z"/>
</g>
<g filter="url(#fyel)" fill="#ffe100">
<path d="M456.21 498.69C456.68 496.26 457.7 493.13 459.74 491.17C461.77 489.21 465.69 488.31 468.43 486.94C471.18 485.57 473.18 482.94 476.19 482.94C479.21 482.94 482.23 485.68 486.53 486.94C490.84 488.19 497.23 489.09 502.05 490.46C506.87 491.83 511.65 493.28 515.45 495.16C519.25 497.05 522.89 499.08 524.85 501.75C526.81 504.41 527.2 508.01 527.2 511.15C527.2 514.28 526.42 517.61 524.85 520.55C523.28 523.49 520.34 526.94 517.8 528.78C515.25 530.62 512.71 531.99 509.57 531.6C506.44 531.21 502.91 528.39 498.99 526.43C495.08 524.47 490.49 521.41 486.06 519.85C481.64 518.28 476.51 518.2 472.43 517.03C468.36 515.85 464.2 514.67 461.62 512.79C459.03 510.91 457.82 508.09 456.92 505.74C456.02 503.39 455.74 501.12 456.21 498.69Z"/>
</g>
<g filter="url(#fora)" fill="#ffa000">
<path d="M459.03 499.4C459.5 497.24 460.8 494.11 462.56 492.34C464.32 490.58 467.26 490.11 469.61 488.82C471.96 487.52 473.84 484.59 476.66 484.59C479.48 484.59 482.42 487.64 486.53 488.82C490.65 489.99 496.92 490.46 501.34 491.64C505.77 492.81 510.24 493.99 513.1 495.87C515.96 497.75 517.45 500.18 518.5 502.92C519.56 505.66 519.84 509.5 519.44 512.32C519.05 515.14 517.8 517.81 516.15 519.85C514.51 521.88 512.43 524.04 509.57 524.55C506.71 525.06 502.83 524.08 498.99 522.9C495.15 521.73 490.73 518.87 486.53 517.5C482.34 516.12 477.64 515.85 473.84 514.67C470.04 513.5 466.08 512.01 463.73 510.44C461.38 508.88 460.52 507.11 459.74 505.27C458.95 503.43 458.56 501.55 459.03 499.4Z"/>
</g>
<g filter="url(#fore)" fill="#ff5a00">
<path d="M463.73 500.57C464.2 498.69 465.69 495.28 467.26 493.52C468.83 491.76 471.37 491.17 473.14 489.99C474.9 488.82 475.49 486.27 477.84 486.47C480.19 486.66 483.44 490.19 487.24 491.17C491.04 492.15 496.52 491.48 500.64 492.34C504.75 493.21 509.18 494.58 511.92 496.34C514.66 498.1 516.11 500.34 517.09 502.92C518.07 505.51 518.27 509.19 517.8 511.85C517.33 514.52 515.96 517.06 514.27 518.91C512.59 520.75 510.35 522.75 507.69 522.9C505.03 523.06 501.7 521.02 498.29 519.85C494.88 518.67 491.04 517.1 487.24 515.85C483.44 514.6 478.82 513.5 475.49 512.32C472.16 511.15 469.1 510.05 467.26 508.8C465.42 507.54 465.03 506.17 464.44 504.8C463.85 503.43 463.26 502.45 463.73 500.57Z"/>
</g>
<g filter="url(#fred)" fill="#ff0000">
<path d="M469.61 501.75C470.32 500.38 471.57 497.83 474.31 497.05C477.05 496.26 482.54 497.63 486.06 497.05C489.59 496.46 492.72 494.3 495.47 493.52C498.21 492.74 499.78 491.87 502.52 492.34C505.26 492.81 509.57 494.58 511.92 496.34C514.27 498.1 515.76 500.34 516.62 502.92C517.48 505.51 517.68 509.19 517.09 511.85C516.51 514.52 514.82 517.06 513.1 518.91C511.37 520.75 509.1 522.82 506.75 522.9C504.4 522.98 501.46 520.55 498.99 519.38C496.52 518.2 494.49 517.03 491.94 515.85C489.39 514.67 486.65 513.5 483.71 512.32C480.78 511.15 476.58 509.97 474.31 508.8C472.04 507.62 470.86 506.45 470.08 505.27C469.3 504.1 468.9 503.12 469.61 501.75Z"/>
</g>
<g fill="none" stroke="#fff" transform="translate(317.65 387.05)"><path stroke-width="1.4" d="M38.97 102.09L351.47 212.55M40.03 99.07L352.53 209.54M42.08 103.19L43.14 100.17M48.3 105.38L49.37 102.37M54.52 107.58L55.59 104.57M60.75 109.78L61.81 106.77M66.97 111.98L68.04 108.97M73.19 114.18L74.26 111.17M79.41 116.38L80.48 113.37M85.64 118.58L86.7 115.57M91.86 120.78L92.93 117.77M98.08 122.98L99.15 119.97M104.3 125.18L105.37 122.17M110.53 127.38L111.59 124.36M116.75 129.58L117.82 126.56M122.97 131.78L124.04 128.76M129.2 133.98L130.26 130.96M135.42 136.18L136.48 133.16M141.64 138.38L142.71 135.36M147.86 140.58L148.93 137.56M154.09 142.78L155.15 139.76M160.31 144.98L161.37 141.96M166.53 147.18L167.6 144.16M172.75 149.38L173.82 146.36M178.98 151.58L180.04 148.56M185.2 153.78L186.27 150.76M191.42 155.98L192.49 152.96M197.64 158.18L198.71 155.16M203.87 160.38L204.93 157.36M210.09 162.58L211.16 159.56M216.31 164.78L217.38 161.76M222.53 166.98L223.6 163.96M228.76 169.18L229.82 166.16M234.98 171.38L236.05 168.36M241.2 173.58L242.27 170.56M247.43 175.78L248.49 172.76M253.65 177.98L254.71 174.96M259.87 180.17L260.94 177.16M266.09 182.37L267.16 179.36M272.32 184.57L273.38 181.56M278.54 186.77L279.61 183.76M284.76 188.97L285.83 185.96M290.98 191.17L292.05 188.16M297.21 193.37L298.27 190.36M303.43 195.57L304.5 192.56M309.65 197.77L310.72 194.76M315.87 199.97L316.94 196.96M322.1 202.17L323.16 199.15M328.32 204.37L329.39 201.35M334.54 206.57L335.61 203.55M340.76 208.77L341.83 205.75M346.99 210.97L348.05 207.95M118.49 79.93L351.49 158.91M119.51 76.9L352.51 155.88M121.61 80.99L122.64 77.96M127.86 83.1L128.89 80.07M134.11 85.22L135.14 82.19M140.36 87.34L141.39 84.31M146.61 89.46L147.64 86.43M152.86 91.58L153.89 88.55M159.12 93.7L160.14 90.67M165.37 95.82L166.39 92.79M171.62 97.94L172.64 94.91M177.87 100.06L178.89 97.03M184.12 102.18L185.15 99.14M190.37 104.29L191.4 101.26M196.62 106.41L197.65 103.38M202.87 108.53L203.9 105.5M209.12 110.65L210.15 107.62M215.37 112.77L216.4 109.74M221.62 114.89L222.65 111.86M227.87 117.01L228.9 113.98M234.12 119.13L235.15 116.1M240.37 121.25L241.4 118.22M246.62 123.36L247.65 120.33M252.87 125.48L253.9 122.45M259.12 127.6L260.15 124.57M265.38 129.72L266.4 126.69M271.63 131.84L272.65 128.81M277.88 133.96L278.9 130.93M284.13 136.08L285.15 133.05M290.38 138.2L291.41 135.17M296.63 140.32L297.66 137.29M302.88 142.44L303.91 139.4M309.13 144.55L310.16 141.52M315.38 146.67L316.41 143.64M321.63 148.79L322.66 145.76M327.88 150.91L328.91 147.88M334.13 153.03L335.16 150M340.38 155.15L341.41 152.12M346.63 157.27L347.66 154.24M143.69 67.03L179.39 88.03M144.91 64.97L180.61 85.97M169.55 82.24L170.77 80.18M179.39 88.15L230.89 115.55M180.61 85.85L232.11 113.25M182.39 89.74L183.61 87.45M188.39 92.94L189.62 90.64M194.4 96.13L195.62 93.84M200.4 99.33L201.62 97.03M206.4 102.52L207.63 100.23M212.41 105.71L213.63 103.42M218.41 108.91L219.63 106.61M224.41 112.1L225.63 109.81M230.42 115.3L231.64 113"/><path stroke-width="1.1" d="M38.9 100.8L126.8 57.3M40.9 103.2L127.3 60.3M48.7 107.1L123.9 67.6M54.6 108.6L121 73.9M62.4 110.1L118 80.3M73.1 112.5L119 88.1M47.5 106L124.5 66.2M46.07 97.25L49.65 104.48M54.14 93.26L61.73 108.61M62.2 89.27L73.57 112.25M70.27 85.28L81.53 108.02M78.34 81.28L89.48 103.8M86.4 77.29L97.43 99.57M94.47 73.3L105.38 95.34M102.53 69.31L113.33 91.12M44.17 98.19L46.08 100.63M47.69 96.45L49.54 98.91M51.21 94.71L53 97.19M54.72 92.97L56.45 95.48M58.24 91.23L59.91 93.76M61.75 89.49L63.36 92.05M65.27 87.75L66.82 90.33M68.79 86.01L70.28 88.61M72.3 84.27L73.73 86.9M75.82 82.53L77.19 85.18M79.33 80.79L80.64 83.47M82.85 79.05L84.1 81.75M86.37 77.31L87.56 80.03M89.88 75.57L91.01 78.32M93.4 73.83L94.47 76.6M96.91 72.09L97.92 74.89M100.43 70.35L101.38 73.17M103.95 68.61L104.84 71.45M107.46 66.87L108.29 69.74M110.98 65.13L111.75 68.02M114.49 63.39L115.2 66.31M118.01 61.65L118.66 64.59M121.53 59.91L122.12 62.87M125.04 58.17L125.57 61.16M120.5 58.5L120.5 82M126.9 57L126.9 80M120.5 60L126.9 80M120.3 72L107.3 119.5M123 74.6L110.9 120.77M125.7 77.2L114.5 122.05M128.4 79.8L118.1 123.32M119.78 73.9L127.99 81.54M118.74 77.7L127.16 85.02M117.7 81.5L126.34 88.5M116.66 85.3L125.52 91.98M115.62 89.1L124.69 95.46M114.58 92.9L123.87 98.94M113.54 96.7L123.04 102.42M112.5 100.5L122.22 105.9M111.46 104.3L121.4 109.38M110.42 108.1L120.57 112.86M109.38 111.9L119.75 116.34M108.34 115.7L118.92 119.82M107.3 119.5L118.1 123.3M137.5 65.1L120.5 127.3M144 66.3L127 130.2M140.75 65.7L123.75 128.75M137.5 65.1L144 66.3M136.39 69.16L142.89 70.47M135.28 73.23L141.78 74.65M134.17 77.29L140.67 78.82M133.06 81.35L139.56 83M131.95 85.42L138.45 87.17M130.84 89.48L137.34 91.35M129.73 93.55L136.23 95.52M128.61 97.61L135.11 99.7M127.5 101.67L134 103.87M126.39 105.74L132.89 108.05M125.28 109.8L131.78 112.22M124.17 113.86L130.67 116.4M123.06 117.93L129.56 120.57M121.95 121.99L128.45 124.75M120.84 126.06L127.34 128.92M127.2 58.5L138 64.6M126.9 62L137 67.5M183.4 82.9L188.2 78.8L219 88.9L247.5 97.4L266.2 104.7L257.5 121.3M261.8 123.5L270.6 106.1L291.9 114.2L296.3 115.6L313.9 126.6L305.8 138M183.4 82.9L246 117.5M184.5 81.6L237 110.6M207.3 86L204.6 92.5M219.3 89.6L214.9 97.9M238.6 97.4L233.6 108.6M252.5 101.3L245.2 115.9M235.8 103.6L248.6 108.6M249.2 108.9L261.6 113.4M292.72 114.22L284.42 134.02M295.48 115.38L287.18 135.18M292.06 115.79L294.83 116.95M290.74 118.92L293.51 120.08M289.43 122.06L292.2 123.22M288.12 125.19L290.88 126.35M286.8 128.33L289.57 129.49M285.49 131.47L288.25 132.63"/><path stroke-width="1.2" d="M202.17 84.81L206.62 87.27M192.52 81.63L205.85 89.02M205.08 90.76L190.3 82.57M209.01 86.75L205.92 93.07M211.23 87.44L207.97 94.13M213.45 88.13L210.01 95.18M215.67 88.82L212.06 96.24M217.89 89.52L214.1 97.29M234.47 97.01L238 98.96M226.62 94.83L237.2 100.69M236.39 102.42L220.21 93.45M235.59 104.15L219.28 95.1M234.79 105.87L218.35 96.76M233.99 107.6L217.42 98.42M240.42 98.15L234.51 109.26M242.66 98.84L236.48 110.46M244.89 99.53L238.44 111.66M247.13 100.22L240.41 112.85M249.37 100.92L242.38 114.05M251.6 101.61L244.35 115.25M254.33 102.22L246.74 116.5M256.6 102.85L248.88 117.37M258.87 103.48L251.03 118.24M261.14 104.11L253.17 119.1M263.41 104.74L255.31 119.97M265.68 105.37L257.46 120.84M275.13 108.43L290.64 115.33M289.91 117.2L270.04 108.35M289.18 119.06L269.16 110.15M288.45 120.93L268.27 111.94M287.73 122.79L267.39 113.74M287 124.66L266.51 115.54M286.27 126.52L265.63 117.33M285.54 128.39L264.74 119.13M284.82 130.26L263.86 120.93M284.09 132.12L262.98 122.72M283.36 133.99L275.05 130.29M303.93 120.94L296.46 117.3M312.59 127.39L295.58 119.1M311.45 129.06L294.7 120.89M310.31 130.73L293.83 122.69M309.17 132.4L292.95 124.49M308.02 134.06L292.07 126.28M306.88 135.73L291.19 128.08M305.74 137.4L290.31 129.88M298.9 136.29L289.43 131.67M291.29 134.8L288.56 133.47"/></g>
<path transform="translate(317.65 387.05)" fill="none" stroke="#fff" stroke-width="1.3" d="M139.18 83.82L123.98 129.12M142.02 84.78L126.82 130.08M138.51 85.81L141.35 86.77M137.17 89.8L140.02 90.75M135.84 93.78L138.68 94.73M134.5 97.76L137.35 98.71M133.17 101.74L136.01 102.7M131.83 105.72L134.67 106.68M130.49 109.7L133.34 110.66M129.16 113.69L132 114.64M127.82 117.67L130.67 118.62M126.49 121.65L129.33 122.6M125.15 125.63L127.99 126.59"/>
<text font-style="italic" font-size="18.8" stroke="#000" stroke-width="0.25" transform="translate(617.35 498.45) rotate(19.8)" textLength="47" lengthAdjust="spacingAndGlyphs">22307</text>
<text font-style="italic" font-size="18.8" stroke="#000" stroke-width="0.25" transform="translate(586.05 593.65) rotate(18.6)" textLength="47" lengthAdjust="spacingAndGlyphs">52304</text>
<rect x="354.85" y="592.6" width="185.4" height="22.6" fill="#fff"/>
<text x="356.15" y="610" font-size="19" stroke="#000" stroke-width="0.2" textLength="182.6" lengthAdjust="spacingAndGlyphs">12/13/2012-03/11/2013</text>
</g>
<rect x="354.85" y="424.15" width="314.25" height="191.05" fill="none" stroke="#000" stroke-width="1.7"/>
<clipPath id="c8"><rect x="671.9" y="424.15" width="314.25" height="191.05"/></clipPath>
<g clip-path="url(#c8)">
<rect x="671.9" y="424.15" width="314.25" height="191.05" fill="#00f59e"/>
<g filter="url(#fg)" fill="#00f200">
<path d="M763.1 533.48C758.6 529.37 749.31 524.47 745.47 520.55C741.63 516.63 740.66 514.48 740.07 509.97C739.48 505.47 740.07 498.42 741.95 493.52C743.83 488.62 747.04 483.53 751.35 480.59C755.66 477.65 763.89 478.83 767.81 475.89C771.72 472.95 771.72 465.9 774.86 462.96C777.99 460.02 781.91 459.83 786.61 458.26C791.31 456.69 797.58 455.13 803.06 453.56C808.55 451.99 814.43 450.42 819.52 448.86C824.61 447.29 828.92 445.72 833.62 444.16C838.32 442.59 843.03 439.45 847.73 439.45C852.43 439.45 857.13 442.59 861.83 444.16C866.53 445.72 871.23 447.29 875.93 448.86C880.64 450.42 886.12 451.21 890.04 453.56C893.96 455.91 896.31 459.83 899.44 462.96C902.57 466.1 906.1 469.62 908.84 472.36C911.59 475.11 915.5 477.46 915.9 479.42C916.29 481.37 913.54 482.94 911.19 484.12C908.84 485.29 901.4 484.9 901.79 486.47C902.18 488.03 909.24 491.17 913.54 493.52C917.85 495.87 926.47 497.05 927.65 500.57C928.82 504.1 922.16 510.37 920.6 514.67C919.03 518.98 915.9 523.69 918.25 526.43C920.6 529.17 929.61 529.56 934.7 531.13C939.79 532.7 943.71 534.26 948.8 535.83C953.9 537.4 959.38 538.96 965.26 540.53C971.14 542.1 980.93 538.85 984.06 545.23C987.2 551.62 985.24 574.81 984.06 578.84C982.89 582.88 979.36 572.57 977.01 569.44C974.66 566.31 973.49 562 969.96 560.04C966.43 558.08 960.56 557.69 955.86 557.69C951.15 557.69 946.45 560.04 941.75 560.04C937.05 560.04 932.35 558.61 927.65 557.69C922.95 556.76 918.25 554.79 913.54 554.49C908.84 554.18 904.14 555.61 899.44 555.84C894.74 556.06 890.04 555.53 885.34 555.84C880.64 556.15 875.93 556.99 871.23 557.69C866.53 558.39 861.83 558.86 857.13 560.04C852.43 561.21 847.73 563.56 843.03 564.74C838.32 565.91 833.62 567.48 828.92 567.09C824.22 566.7 819.52 563.96 814.82 562.39C810.12 560.82 805.42 559.23 800.71 557.69C796.01 556.15 791.31 555.21 786.61 553.14C781.91 551.06 776.42 548.51 772.51 545.23C768.59 541.96 767.61 537.59 763.1 533.48Z"/>
<path fill-opacity="0.48" d="M733.11 427.66C735.96 425.85 748.9 425.85 751.74 427.66C754.59 429.47 753.04 436.72 750.19 438.53C747.34 440.34 737.51 440.34 734.66 438.53C731.82 436.72 730.26 429.47 733.11 427.66Z"/>
<path fill-opacity="0.5" d="M857.33 426.11C861.99 424.04 883.72 424.04 888.38 426.11C893.04 428.18 889.94 436.46 885.28 438.53C880.62 440.6 865.09 440.6 860.43 438.53C855.78 436.46 852.67 428.18 857.33 426.11Z"/>
<path fill-opacity="0.5" d="M919.44 426.11C923.06 424.04 945.32 423.52 950.49 426.11C955.67 428.69 954.12 439.56 950.49 441.63C946.87 443.7 933.93 441.12 928.75 438.53C923.58 435.94 915.81 428.18 919.44 426.11Z"/>
<path fill-opacity="0.48" d="M773.48 547.22C776.59 546.7 791.6 558.61 801.43 562.75C811.26 566.89 829.38 568.96 832.48 572.06C835.59 575.17 828.34 582.41 820.06 581.38C811.78 580.34 790.56 571.54 782.8 565.85C775.03 560.16 770.38 547.74 773.48 547.22Z"/>
<path fill-opacity="0.48" d="M894.59 547.22C894.59 544.63 920.47 541.01 934.96 541.01C949.46 541.01 973.78 544.11 981.55 547.22C989.31 550.32 989.31 558.09 981.55 559.64C973.78 561.19 949.46 558.61 934.96 556.54C920.47 554.46 894.59 549.81 894.59 547.22Z"/>
<path fill-opacity="0.52" d="M672.55 559.64C674.11 554.21 681.35 554.46 683.42 559.64C685.49 564.82 686.53 585.26 684.97 590.7C683.42 596.13 676.18 597.42 674.11 592.25C672.04 587.07 671 565.08 672.55 559.64Z"/>
<path fill-opacity="0.62" d="M930 446.51C930.39 443.76 933.13 439.85 934.7 439.45C936.27 439.06 939.01 441.41 939.4 444.16C939.79 446.9 938.23 453.95 937.05 455.91C935.88 457.87 933.52 457.48 932.35 455.91C931.17 454.34 929.61 449.25 930 446.51Z"/>
</g>
<g filter="url(#flime)" fill="#78f800">
<path d="M772.51 498.22C772.9 495.28 772.9 490.97 774.86 488.82C776.82 486.66 780.73 486.27 784.26 485.29C787.79 484.31 792.1 482.94 796.01 482.94C799.93 482.94 803.46 484.31 807.77 485.29C812.08 486.27 817.17 487.45 821.87 488.82C826.57 490.19 832.06 491.56 835.97 493.52C839.89 495.48 843.22 497.83 845.38 500.57C847.53 503.31 848.9 506.45 848.9 509.97C848.9 513.5 847.14 518.2 845.38 521.73C843.61 525.25 841.07 528.39 838.32 531.13C835.58 533.87 832.06 537.79 828.92 538.18C825.79 538.57 822.65 535.44 819.52 533.48C816.38 531.52 813.64 528.39 810.12 526.43C806.59 524.47 802.28 522.9 798.36 521.73C794.45 520.55 790.33 520.55 786.61 519.38C782.89 518.2 778.38 516.83 776.03 514.67C773.68 512.52 773.09 509.19 772.51 506.45C771.92 503.71 772.11 501.16 772.51 498.22Z"/>
</g>
<g filter="url(#fygr)" fill="#dcfa00">
<path d="M773.45 498.46C773.84 495.71 773.92 491.83 775.8 489.76C777.68 487.68 781.36 487.02 784.73 486C788.1 484.98 792.17 483.65 796.01 483.65C799.85 483.65 803.5 484.98 807.77 486C812.04 487.02 817.09 488.35 821.63 489.76C826.18 491.17 831.39 492.58 835.03 494.46C838.68 496.34 841.62 498.38 843.5 501.04C845.38 503.71 846.39 507.07 846.32 510.44C846.24 513.81 844.71 517.97 843.03 521.26C841.34 524.55 838.64 527.68 836.21 530.19C833.78 532.7 831.23 535.99 828.45 536.3C825.67 536.61 822.61 533.91 819.52 532.07C816.42 530.23 813.41 527.17 809.88 525.25C806.36 523.33 802.2 521.73 798.36 520.55C794.52 519.38 790.45 519.34 786.85 518.2C783.24 517.06 778.97 515.73 776.74 513.73C774.5 511.74 774 508.76 773.45 506.21C772.9 503.67 773.05 501.2 773.45 498.46Z"/>
</g>
<g filter="url(#fyel)" fill="#ffe100">
<path d="M774.39 498.69C774.78 496.14 774.9 492.42 776.74 490.46C778.58 488.5 782.22 487.92 785.43 486.94C788.65 485.96 792.29 484.59 796.01 484.59C799.73 484.59 803.53 485.96 807.77 486.94C812 487.92 817.01 489.09 821.4 490.46C825.79 491.83 830.68 493.28 834.09 495.16C837.5 497.05 840.28 499.08 841.85 501.75C843.42 504.41 843.69 508.01 843.5 511.15C843.3 514.28 842.24 517.53 840.67 520.55C839.11 523.57 836.25 526.9 834.09 529.25C831.94 531.6 830.18 534.42 827.75 534.66C825.32 534.89 822.54 532.42 819.52 530.66C816.5 528.9 813.17 525.96 809.65 524.08C806.12 522.2 802.12 520.55 798.36 519.38C794.6 518.2 790.53 518.12 787.08 517.03C783.63 515.93 779.79 514.67 777.68 512.79C775.56 510.91 774.94 508.09 774.39 505.74C773.84 503.39 774 501.24 774.39 498.69Z"/>
</g>
<g filter="url(#fora)" fill="#ffa000">
<path d="M776.03 499.4C776.38 497.12 776.62 493.48 778.38 491.64C780.15 489.8 783.67 489.29 786.61 488.35C789.55 487.41 792.49 486 796.01 486C799.54 486 803.65 487.41 807.77 488.35C811.88 489.29 816.78 490.38 820.69 491.64C824.61 492.89 828.65 493.99 831.27 495.87C833.9 497.75 835.46 500.18 836.44 502.92C837.42 505.66 837.54 509.39 837.15 512.32C836.76 515.26 835.46 518 834.09 520.55C832.72 523.1 830.96 526.62 828.92 527.6C826.88 528.58 824.61 527.49 821.87 526.43C819.13 525.37 816.19 522.82 812.47 521.26C808.75 519.69 803.46 518.2 799.54 517.03C795.62 515.85 792.21 515.3 788.96 514.2C785.71 513.11 782.14 511.93 780.03 510.44C777.91 508.95 776.93 507.11 776.27 505.27C775.6 503.43 775.68 501.67 776.03 499.4Z"/>
</g>
<g filter="url(#fore)" fill="#ff5a00">
<path d="M778.38 500.1C778.74 498.14 779.17 494.81 780.73 493.05C782.3 491.29 785.24 490.54 787.79 489.52C790.33 488.5 792.88 486.86 796.01 486.94C799.15 487.02 802.67 489.09 806.59 489.99C810.51 490.89 815.6 491.29 819.52 492.34C823.44 493.4 827.55 494.58 830.1 496.34C832.64 498.1 833.9 500.34 834.8 502.92C835.7 505.51 835.9 509.11 835.5 511.85C835.11 514.6 833.74 517.14 832.45 519.38C831.15 521.61 829.59 524.47 827.75 525.25C825.9 526.04 823.87 525.14 821.4 524.08C818.93 523.02 816.38 520.47 812.94 518.91C809.49 517.34 804.4 515.85 800.71 514.67C797.03 513.5 793.78 512.95 790.84 511.85C787.9 510.76 785.12 509.27 783.08 508.09C781.05 506.92 779.4 506.13 778.62 504.8C777.83 503.47 778.03 502.06 778.38 500.1Z"/>
</g>
<g filter="url(#fred)" fill="#ff0000">
<path d="M800.71 502.92C801.11 500.96 803.46 498.42 805.42 497.05C807.37 495.67 810.12 495.4 812.47 494.69C814.82 493.99 816.78 492.54 819.52 492.81C822.26 493.09 826.57 494.66 828.92 496.34C831.27 498.02 832.64 500.45 833.62 502.92C834.6 505.39 835.11 508.6 834.8 511.15C834.48 513.7 833.04 516.12 831.74 518.2C830.45 520.28 828.88 522.82 827.04 523.61C825.2 524.39 822.73 524 820.69 522.9C818.66 521.81 816.78 518.59 814.82 517.03C812.86 515.46 810.9 514.87 808.94 513.5C806.98 512.13 804.44 510.56 803.06 508.8C801.69 507.04 800.32 504.88 800.71 502.92Z"/>
</g>
<g fill="none" stroke="#fff" transform="translate(634.7 387.05)"><path stroke-width="1.4" d="M38.97 102.09L351.47 212.55M40.03 99.07L352.53 209.54M42.08 103.19L43.14 100.17M48.3 105.38L49.37 102.37M54.52 107.58L55.59 104.57M60.75 109.78L61.81 106.77M66.97 111.98L68.04 108.97M73.19 114.18L74.26 111.17M79.41 116.38L80.48 113.37M85.64 118.58L86.7 115.57M91.86 120.78L92.93 117.77M98.08 122.98L99.15 119.97M104.3 125.18L105.37 122.17M110.53 127.38L111.59 124.36M116.75 129.58L117.82 126.56M122.97 131.78L124.04 128.76M129.2 133.98L130.26 130.96M135.42 136.18L136.48 133.16M141.64 138.38L142.71 135.36M147.86 140.58L148.93 137.56M154.09 142.78L155.15 139.76M160.31 144.98L161.37 141.96M166.53 147.18L167.6 144.16M172.75 149.38L173.82 146.36M178.98 151.58L180.04 148.56M185.2 153.78L186.27 150.76M191.42 155.98L192.49 152.96M197.64 158.18L198.71 155.16M203.87 160.38L204.93 157.36M210.09 162.58L211.16 159.56M216.31 164.78L217.38 161.76M222.53 166.98L223.6 163.96M228.76 169.18L229.82 166.16M234.98 171.38L236.05 168.36M241.2 173.58L242.27 170.56M247.43 175.78L248.49 172.76M253.65 177.98L254.71 174.96M259.87 180.17L260.94 177.16M266.09 182.37L267.16 179.36M272.32 184.57L273.38 181.56M278.54 186.77L279.61 183.76M284.76 188.97L285.83 185.96M290.98 191.17L292.05 188.16M297.21 193.37L298.27 190.36M303.43 195.57L304.5 192.56M309.65 197.77L310.72 194.76M315.87 199.97L316.94 196.96M322.1 202.17L323.16 199.15M328.32 204.37L329.39 201.35M334.54 206.57L335.61 203.55M340.76 208.77L341.83 205.75M346.99 210.97L348.05 207.95M118.49 79.93L351.49 158.91M119.51 76.9L352.51 155.88M121.61 80.99L122.64 77.96M127.86 83.1L128.89 80.07M134.11 85.22L135.14 82.19M140.36 87.34L141.39 84.31M146.61 89.46L147.64 86.43M152.86 91.58L153.89 88.55M159.12 93.7L160.14 90.67M165.37 95.82L166.39 92.79M171.62 97.94L172.64 94.91M177.87 100.06L178.89 97.03M184.12 102.18L185.15 99.14M190.37 104.29L191.4 101.26M196.62 106.41L197.65 103.38M202.87 108.53L203.9 105.5M209.12 110.65L210.15 107.62M215.37 112.77L216.4 109.74M221.62 114.89L222.65 111.86M227.87 117.01L228.9 113.98M234.12 119.13L235.15 116.1M240.37 121.25L241.4 118.22M246.62 123.36L247.65 120.33M252.87 125.48L253.9 122.45M259.12 127.6L260.15 124.57M265.38 129.72L266.4 126.69M271.63 131.84L272.65 128.81M277.88 133.96L278.9 130.93M284.13 136.08L285.15 133.05M290.38 138.2L291.41 135.17M296.63 140.32L297.66 137.29M302.88 142.44L303.91 139.4M309.13 144.55L310.16 141.52M315.38 146.67L316.41 143.64M321.63 148.79L322.66 145.76M327.88 150.91L328.91 147.88M334.13 153.03L335.16 150M340.38 155.15L341.41 152.12M346.63 157.27L347.66 154.24M143.69 67.03L179.39 88.03M144.91 64.97L180.61 85.97M169.55 82.24L170.77 80.18M179.39 88.15L230.89 115.55M180.61 85.85L232.11 113.25M182.39 89.74L183.61 87.45M188.39 92.94L189.62 90.64M194.4 96.13L195.62 93.84M200.4 99.33L201.62 97.03M206.4 102.52L207.63 100.23M212.41 105.71L213.63 103.42M218.41 108.91L219.63 106.61M224.41 112.1L225.63 109.81M230.42 115.3L231.64 113"/><path stroke-width="1.1" d="M38.9 100.8L126.8 57.3M40.9 103.2L127.3 60.3M48.7 107.1L123.9 67.6M54.6 108.6L121 73.9M62.4 110.1L118 80.3M73.1 112.5L119 88.1M47.5 106L124.5 66.2M46.07 97.25L49.65 104.48M54.14 93.26L61.73 108.61M62.2 89.27L73.57 112.25M70.27 85.28L81.53 108.02M78.34 81.28L89.48 103.8M86.4 77.29L97.43 99.57M94.47 73.3L105.38 95.34M102.53 69.31L113.33 91.12M44.17 98.19L46.08 100.63M47.69 96.45L49.54 98.91M51.21 94.71L53 97.19M54.72 92.97L56.45 95.48M58.24 91.23L59.91 93.76M61.75 89.49L63.36 92.05M65.27 87.75L66.82 90.33M68.79 86.01L70.28 88.61M72.3 84.27L73.73 86.9M75.82 82.53L77.19 85.18M79.33 80.79L80.64 83.47M82.85 79.05L84.1 81.75M86.37 77.31L87.56 80.03M89.88 75.57L91.01 78.32M93.4 73.83L94.47 76.6M96.91 72.09L97.92 74.89M100.43 70.35L101.38 73.17M103.95 68.61L104.84 71.45M107.46 66.87L108.29 69.74M110.98 65.13L111.75 68.02M114.49 63.39L115.2 66.31M118.01 61.65L118.66 64.59M121.53 59.91L122.12 62.87M125.04 58.17L125.57 61.16M120.5 58.5L120.5 82M126.9 57L126.9 80M120.5 60L126.9 80M120.3 72L107.3 119.5M123 74.6L110.9 120.77M125.7 77.2L114.5 122.05M128.4 79.8L118.1 123.32M119.78 73.9L127.99 81.54M118.74 77.7L127.16 85.02M117.7 81.5L126.34 88.5M116.66 85.3L125.52 91.98M115.62 89.1L124.69 95.46M114.58 92.9L123.87 98.94M113.54 96.7L123.04 102.42M112.5 100.5L122.22 105.9M111.46 104.3L121.4 109.38M110.42 108.1L120.57 112.86M109.38 111.9L119.75 116.34M108.34 115.7L118.92 119.82M107.3 119.5L118.1 123.3M137.5 65.1L120.5 127.3M144 66.3L127 130.2M140.75 65.7L123.75 128.75M137.5 65.1L144 66.3M136.39 69.16L142.89 70.47M135.28 73.23L141.78 74.65M134.17 77.29L140.67 78.82M133.06 81.35L139.56 83M131.95 85.42L138.45 87.17M130.84 89.48L137.34 91.35M129.73 93.55L136.23 95.52M128.61 97.61L135.11 99.7M127.5 101.67L134 103.87M126.39 105.74L132.89 108.05M125.28 109.8L131.78 112.22M124.17 113.86L130.67 116.4M123.06 117.93L129.56 120.57M121.95 121.99L128.45 124.75M120.84 126.06L127.34 128.92M127.2 58.5L138 64.6M126.9 62L137 67.5M183.4 82.9L188.2 78.8L219 88.9L247.5 97.4L266.2 104.7L257.5 121.3M261.8 123.5L270.6 106.1L291.9 114.2L296.3 115.6L313.9 126.6L305.8 138M183.4 82.9L246 117.5M184.5 81.6L237 110.6M207.3 86L204.6 92.5M219.3 89.6L214.9 97.9M238.6 97.4L233.6 108.6M252.5 101.3L245.2 115.9M235.8 103.6L248.6 108.6M249.2 108.9L261.6 113.4M292.72 114.22L284.42 134.02M295.48 115.38L287.18 135.18M292.06 115.79L294.83 116.95M290.74 118.92L293.51 120.08M289.43 122.06L292.2 123.22M288.12 125.19L290.88 126.35M286.8 128.33L289.57 129.49M285.49 131.47L288.25 132.63"/><path stroke-width="1.2" d="M202.17 84.81L206.62 87.27M192.52 81.63L205.85 89.02M205.08 90.76L190.3 82.57M209.01 86.75L205.92 93.07M211.23 87.44L207.97 94.13M213.45 88.13L210.01 95.18M215.67 88.82L212.06 96.24M217.89 89.52L214.1 97.29M234.47 97.01L238 98.96M226.62 94.83L237.2 100.69M236.39 102.42L220.21 93.45M235.59 104.15L219.28 95.1M234.79 105.87L218.35 96.76M233.99 107.6L217.42 98.42M240.42 98.15L234.51 109.26M242.66 98.84L236.48 110.46M244.89 99.53L238.44 111.66M247.13 100.22L240.41 112.85M249.37 100.92L242.38 114.05M251.6 101.61L244.35 115.25M254.33 102.22L246.74 116.5M256.6 102.85L248.88 117.37M258.87 103.48L251.03 118.24M261.14 104.11L253.17 119.1M263.41 104.74L255.31 119.97M265.68 105.37L257.46 120.84M275.13 108.43L290.64 115.33M289.91 117.2L270.04 108.35M289.18 119.06L269.16 110.15M288.45 120.93L268.27 111.94M287.73 122.79L267.39 113.74M287 124.66L266.51 115.54M286.27 126.52L265.63 117.33M285.54 128.39L264.74 119.13M284.82 130.26L263.86 120.93M284.09 132.12L262.98 122.72M283.36 133.99L275.05 130.29M303.93 120.94L296.46 117.3M312.59 127.39L295.58 119.1M311.45 129.06L294.7 120.89M310.31 130.73L293.83 122.69M309.17 132.4L292.95 124.49M308.02 134.06L292.07 126.28M306.88 135.73L291.19 128.08M305.74 137.4L290.31 129.88M298.9 136.29L289.43 131.67M291.29 134.8L288.56 133.47"/></g>
<path transform="translate(634.7 387.05)" fill="none" stroke="#fff" stroke-width="1.3" d="M139.18 83.82L123.98 129.12M142.02 84.78L126.82 130.08M138.51 85.81L141.35 86.77M137.17 89.8L140.02 90.75M135.84 93.78L138.68 94.73M134.5 97.76L137.35 98.71M133.17 101.74L136.01 102.7M131.83 105.72L134.67 106.68M130.49 109.7L133.34 110.66M129.16 113.69L132 114.64M127.82 117.67L130.67 118.62M126.49 121.65L129.33 122.6M125.15 125.63L127.99 126.59"/>
<text font-style="italic" font-size="18.8" stroke="#000" stroke-width="0.25" transform="translate(934.4 498.45) rotate(19.8)" textLength="47" lengthAdjust="spacingAndGlyphs">22307</text>
<text font-style="italic" font-size="18.8" stroke="#000" stroke-width="0.25" transform="translate(903.1 593.65) rotate(18.6)" textLength="47" lengthAdjust="spacingAndGlyphs">52304</text>
<rect x="671.9" y="592.6" width="185.4" height="22.6" fill="#fff"/>
<text x="673.2" y="610" font-size="19" stroke="#000" stroke-width="0.2" textLength="182.6" lengthAdjust="spacingAndGlyphs">12/13/2012-03/22/2013</text>
</g>
<rect x="671.9" y="424.15" width="314.25" height="191.05" fill="none" stroke="#000" stroke-width="1.7"/>
<clipPath id="c9"><rect x="37.2" y="618.2" width="314.7" height="191.4"/></clipPath>
<g clip-path="url(#c9)">
<rect x="37.2" y="618.2" width="314.7" height="191.4" fill="#00f59e"/>
<g filter="url(#fg)" fill="#00f200">
<path d="M128.1 727.48C123.21 723.37 114.31 718.47 110.47 714.55C106.63 710.63 105.66 708.48 105.07 703.97C104.48 699.47 105.07 692.42 106.95 687.52C108.83 682.62 112.04 677.53 116.35 674.59C120.66 671.65 128.89 672.83 132.81 669.89C136.72 666.95 136.72 659.9 139.86 656.96C142.99 654.02 146.91 653.83 151.61 652.26C156.31 650.69 162.58 649.13 168.06 647.56C173.55 645.99 179.43 644.82 184.52 642.86C189.61 640.9 193.92 637.37 198.62 635.81C203.32 634.24 208.03 633.06 212.73 633.45C217.43 633.85 222.13 636.59 226.83 638.16C231.53 639.72 236.23 641.29 240.93 642.86C245.64 644.42 251.12 645.21 255.04 647.56C258.96 649.91 261.31 653.83 264.44 656.96C267.57 660.1 271.49 663.62 273.84 666.36C276.19 669.11 278.94 671.06 278.54 673.42C278.15 675.77 271.49 678.12 271.49 680.47C271.49 682.82 275.02 685.17 278.54 687.52C282.07 689.87 291.47 691.05 292.65 694.57C293.82 698.1 287.16 704.37 285.6 708.67C284.03 712.98 281.29 717.69 283.25 720.43C285.2 723.17 292.65 723.56 297.35 725.13C302.05 726.7 305.97 727.87 311.45 729.83C316.94 731.79 323.99 734.92 330.26 736.88C336.53 738.84 345.93 735.2 349.06 741.58C352.2 747.97 350.24 771.16 349.06 775.19C347.89 779.23 344.36 768.53 342.01 765.79C339.66 763.05 338.49 760.7 334.96 758.74C331.43 756.78 325.56 754.82 320.86 754.04C316.15 753.25 311.45 754.43 306.75 754.04C302.05 753.65 297.35 752.39 292.65 751.69C287.95 750.99 283.25 750.37 278.54 749.84C273.84 749.3 269.14 748.71 264.44 748.49C259.74 748.26 255.04 748.49 250.34 748.49C245.64 748.49 240.54 747.95 236.23 748.49C231.92 749.02 228.4 750.76 224.48 751.69C220.56 752.61 217.04 753.25 212.73 754.04C208.42 754.82 203.32 756.39 198.62 756.39C193.92 756.39 189.22 754.82 184.52 754.04C179.82 753.25 175.12 752.84 170.42 751.69C165.71 750.54 161.4 749.21 156.31 747.14C151.22 745.06 144.56 742.51 139.86 739.23C135.16 735.96 133 731.59 128.1 727.48Z"/>
<path fill-opacity="0.48" d="M98.11 621.66C100.96 619.85 113.9 619.85 116.74 621.66C119.59 623.47 118.04 630.72 115.19 632.53C112.34 634.34 102.51 634.34 99.66 632.53C96.82 630.72 95.26 623.47 98.11 621.66Z"/>
<path fill-opacity="0.5" d="M222.33 620.11C226.99 618.04 248.72 618.04 253.38 620.11C258.04 622.18 254.94 630.46 250.28 632.53C245.62 634.6 230.09 634.6 225.43 632.53C220.78 630.46 217.67 622.18 222.33 620.11Z"/>
<path fill-opacity="0.5" d="M284.44 620.11C288.06 618.04 310.32 617.52 315.49 620.11C320.67 622.69 319.12 633.56 315.49 635.63C311.87 637.7 298.93 635.12 293.75 632.53C288.58 629.94 280.81 622.18 284.44 620.11Z"/>
<path fill-opacity="0.48" d="M138.48 741.22C141.59 740.7 156.6 752.61 166.43 756.75C176.26 760.89 194.38 762.96 197.48 766.06C200.59 769.17 193.34 776.41 185.06 775.38C176.78 774.34 155.56 765.54 147.8 759.85C140.03 754.16 135.38 741.74 138.48 741.22Z"/>
<path fill-opacity="0.48" d="M259.59 741.22C259.59 738.63 285.47 735.01 299.96 735.01C314.46 735.01 338.78 738.11 346.55 741.22C354.31 744.32 354.31 752.09 346.55 753.64C338.78 755.19 314.46 752.61 299.96 750.54C285.47 748.46 259.59 743.81 259.59 741.22Z"/>
<path fill-opacity="0.68" d="M295 638.16C295 634.63 297.35 631.89 299.7 631.1C302.05 630.32 307.14 631.1 309.1 633.45C311.06 635.81 311.85 641.68 311.45 645.21C311.06 648.73 308.71 653.43 306.75 654.61C304.79 655.79 301.66 655 299.7 652.26C297.74 649.52 295 641.68 295 638.16Z"/>
</g>
<g filter="url(#flime)" fill="#78f800">
<path d="M133.98 694.57C134.25 691.44 134.18 686.66 136.33 683.99C138.49 681.33 143.19 679.96 146.91 678.59C150.63 677.22 154.74 675.65 158.66 675.77C162.58 675.88 166.11 678.12 170.42 679.29C174.72 680.47 179.82 681.64 184.52 682.82C189.22 683.99 194.71 684.78 198.62 686.34C202.54 687.91 205.48 689.48 208.03 692.22C210.57 694.96 213.12 699.27 213.9 702.8C214.69 706.32 213.9 710.05 212.73 713.38C211.55 716.71 209.59 720.23 206.85 722.78C204.11 725.33 199.6 728.07 196.27 728.66C192.94 729.24 190 727.68 186.87 726.3C183.74 724.93 180.8 722.19 177.47 720.43C174.14 718.67 170.81 716.9 166.89 715.73C162.97 714.55 158.47 714.36 153.96 713.38C149.46 712.4 143.07 711.61 139.86 709.85C136.64 708.09 135.67 705.34 134.69 702.8C133.71 700.25 133.71 697.71 133.98 694.57Z"/>
</g>
<g filter="url(#fygr)" fill="#dcfa00">
<path d="M134.69 694.57C134.96 691.63 134.92 687.24 137.04 684.7C139.15 682.15 143.77 680.62 147.38 679.29C150.98 677.96 154.82 676.59 158.66 676.71C162.5 676.82 166.14 678.86 170.42 680C174.69 681.13 179.74 682.35 184.28 683.52C188.83 684.7 194.04 685.52 197.68 687.05C201.33 688.58 203.95 690.07 206.14 692.69C208.34 695.32 210.22 699.43 210.85 702.8C211.47 706.17 211 709.77 209.91 712.91C208.81 716.04 206.73 719.25 204.26 721.6C201.8 723.95 198.04 726.5 195.1 727.01C192.16 727.52 189.57 725.95 186.63 724.66C183.7 723.37 180.76 720.94 177.47 719.25C174.18 717.57 170.77 715.73 166.89 714.55C163.01 713.38 158.62 713.18 154.2 712.2C149.77 711.22 143.46 710.32 140.33 708.67C137.19 707.03 136.33 704.68 135.39 702.33C134.45 699.98 134.41 697.51 134.69 694.57Z"/>
</g>
<g filter="url(#fyel)" fill="#ffe100">
<path d="M135.63 694.57C135.9 691.83 135.9 687.6 137.98 685.17C140.05 682.74 144.64 681.29 148.08 680C151.53 678.7 154.94 677.33 158.66 677.41C162.38 677.49 166.18 679.37 170.42 680.47C174.65 681.56 179.66 682.82 184.05 683.99C188.44 685.17 193.33 685.95 196.74 687.52C200.15 689.09 202.62 690.85 204.5 693.4C206.38 695.94 207.63 699.66 208.03 702.8C208.42 705.93 207.95 709.26 206.85 712.2C205.75 715.14 203.6 718.19 201.44 720.43C199.29 722.66 196.43 725.13 193.92 725.6C191.41 726.07 189.14 724.5 186.4 723.25C183.66 722 180.72 719.72 177.47 718.08C174.22 716.43 170.73 714.55 166.89 713.38C163.05 712.2 158.74 712 154.43 711.03C150.12 710.05 144.05 709.07 141.03 707.5C138.02 705.93 137.23 703.78 136.33 701.62C135.43 699.47 135.35 697.31 135.63 694.57Z"/>
</g>
<g filter="url(#fora)" fill="#ffa000">
<path d="M137.04 693.4C137.35 691.12 137.43 687.71 139.39 685.64C141.35 683.56 145.58 682.11 148.79 680.94C152 679.76 155.14 678.35 158.66 678.59C162.19 678.82 165.83 681.25 169.95 682.35C174.06 683.44 179.15 684.11 183.34 685.17C187.54 686.23 192.08 687.13 195.1 688.69C198.11 690.26 200.07 692.1 201.44 694.57C202.81 697.04 203.32 700.68 203.32 703.5C203.32 706.32 202.62 709.07 201.44 711.5C200.27 713.92 198.23 716.59 196.27 718.08C194.31 719.57 192.04 720.62 189.69 720.43C187.34 720.23 184.79 718.16 182.17 716.9C179.54 715.65 176.88 714.08 173.94 712.91C171 711.73 167.87 710.75 164.54 709.85C161.21 708.95 157.68 708.48 153.96 707.5C150.24 706.52 144.95 705.34 142.21 703.97C139.47 702.6 138.37 701.04 137.51 699.27C136.64 697.51 136.72 695.67 137.04 693.4Z"/>
</g>
<g filter="url(#fore)" fill="#ff5a00">
<path d="M137.98 692.22C138.25 690.26 138.45 687.4 140.33 685.64C142.21 683.88 146.2 682.7 149.26 681.64C152.32 680.58 155.33 678.98 158.66 679.29C161.99 679.61 165.24 682.43 169.24 683.52C173.24 684.62 178.52 684.89 182.64 685.87C186.75 686.85 191.06 687.87 193.92 689.4C196.78 690.93 198.54 692.69 199.8 695.04C201.05 697.39 201.56 700.84 201.44 703.5C201.33 706.17 200.27 708.79 199.09 711.03C197.92 713.26 196.12 715.65 194.39 716.9C192.67 718.16 190.87 718.82 188.75 718.55C186.63 718.27 184.28 716.51 181.7 715.26C179.11 714 176.21 712.32 173.24 711.03C170.26 709.73 167.12 708.48 163.83 707.5C160.54 706.52 156.9 706.13 153.49 705.15C150.08 704.17 145.85 702.92 143.38 701.62C140.91 700.33 139.58 698.96 138.68 697.39C137.78 695.82 137.7 694.18 137.98 692.22Z"/>
</g>
<g filter="url(#fred)" fill="#ff0000">
<path d="M139.86 689.87C140.25 688.22 141.42 686.07 143.38 684.7C145.34 683.33 149.06 682.62 151.61 681.64C154.16 680.66 156.51 678.23 158.66 678.82C160.82 679.41 162.19 683.72 164.54 685.17C166.89 686.62 169.63 687.44 172.77 687.52C175.9 687.6 179.9 685.33 183.34 685.64C186.79 685.95 190.83 687.71 193.45 689.4C196.08 691.08 197.92 693.4 199.09 695.75C200.27 698.1 200.66 701.04 200.5 703.5C200.35 705.97 199.33 708.52 198.15 710.56C196.98 712.59 195.25 714.67 193.45 715.73C191.65 716.78 189.42 717.29 187.34 716.9C185.26 716.51 183.23 714.75 180.99 713.38C178.76 712 176.68 710.05 173.94 708.67C171.2 707.3 167.87 706.25 164.54 705.15C161.21 704.05 157.1 703.27 153.96 702.09C150.83 700.92 147.89 699.35 145.73 698.1C143.58 696.84 142.01 695.94 141.03 694.57C140.05 693.2 139.47 691.52 139.86 689.87Z"/>
</g>
<g fill="none" stroke="#fff" transform="translate(0 581.1)"><path stroke-width="1.4" d="M38.97 102.09L351.47 212.55M40.03 99.07L352.53 209.54M42.08 103.19L43.14 100.17M48.3 105.38L49.37 102.37M54.52 107.58L55.59 104.57M60.75 109.78L61.81 106.77M66.97 111.98L68.04 108.97M73.19 114.18L74.26 111.17M79.41 116.38L80.48 113.37M85.64 118.58L86.7 115.57M91.86 120.78L92.93 117.77M98.08 122.98L99.15 119.97M104.3 125.18L105.37 122.17M110.53 127.38L111.59 124.36M116.75 129.58L117.82 126.56M122.97 131.78L124.04 128.76M129.2 133.98L130.26 130.96M135.42 136.18L136.48 133.16M141.64 138.38L142.71 135.36M147.86 140.58L148.93 137.56M154.09 142.78L155.15 139.76M160.31 144.98L161.37 141.96M166.53 147.18L167.6 144.16M172.75 149.38L173.82 146.36M178.98 151.58L180.04 148.56M185.2 153.78L186.27 150.76M191.42 155.98L192.49 152.96M197.64 158.18L198.71 155.16M203.87 160.38L204.93 157.36M210.09 162.58L211.16 159.56M216.31 164.78L217.38 161.76M222.53 166.98L223.6 163.96M228.76 169.18L229.82 166.16M234.98 171.38L236.05 168.36M241.2 173.58L242.27 170.56M247.43 175.78L248.49 172.76M253.65 177.98L254.71 174.96M259.87 180.17L260.94 177.16M266.09 182.37L267.16 179.36M272.32 184.57L273.38 181.56M278.54 186.77L279.61 183.76M284.76 188.97L285.83 185.96M290.98 191.17L292.05 188.16M297.21 193.37L298.27 190.36M303.43 195.57L304.5 192.56M309.65 197.77L310.72 194.76M315.87 199.97L316.94 196.96M322.1 202.17L323.16 199.15M328.32 204.37L329.39 201.35M334.54 206.57L335.61 203.55M340.76 208.77L341.83 205.75M346.99 210.97L348.05 207.95M118.49 79.93L351.49 158.91M119.51 76.9L352.51 155.88M121.61 80.99L122.64 77.96M127.86 83.1L128.89 80.07M134.11 85.22L135.14 82.19M140.36 87.34L141.39 84.31M146.61 89.46L147.64 86.43M152.86 91.58L153.89 88.55M159.12 93.7L160.14 90.67M165.37 95.82L166.39 92.79M171.62 97.94L172.64 94.91M177.87 100.06L178.89 97.03M184.12 102.18L185.15 99.14M190.37 104.29L191.4 101.26M196.62 106.41L197.65 103.38M202.87 108.53L203.9 105.5M209.12 110.65L210.15 107.62M215.37 112.77L216.4 109.74M221.62 114.89L222.65 111.86M227.87 117.01L228.9 113.98M234.12 119.13L235.15 116.1M240.37 121.25L241.4 118.22M246.62 123.36L247.65 120.33M252.87 125.48L253.9 122.45M259.12 127.6L260.15 124.57M265.38 129.72L266.4 126.69M271.63 131.84L272.65 128.81M277.88 133.96L278.9 130.93M284.13 136.08L285.15 133.05M290.38 138.2L291.41 135.17M296.63 140.32L297.66 137.29M302.88 142.44L303.91 139.4M309.13 144.55L310.16 141.52M315.38 146.67L316.41 143.64M321.63 148.79L322.66 145.76M327.88 150.91L328.91 147.88M334.13 153.03L335.16 150M340.38 155.15L341.41 152.12M346.63 157.27L347.66 154.24M143.69 67.03L179.39 88.03M144.91 64.97L180.61 85.97M169.55 82.24L170.77 80.18M179.39 88.15L230.89 115.55M180.61 85.85L232.11 113.25M182.39 89.74L183.61 87.45M188.39 92.94L189.62 90.64M194.4 96.13L195.62 93.84M200.4 99.33L201.62 97.03M206.4 102.52L207.63 100.23M212.41 105.71L213.63 103.42M218.41 108.91L219.63 106.61M224.41 112.1L225.63 109.81M230.42 115.3L231.64 113"/><path stroke-width="1.1" d="M38.9 100.8L126.8 57.3M40.9 103.2L127.3 60.3M48.7 107.1L123.9 67.6M54.6 108.6L121 73.9M62.4 110.1L118 80.3M73.1 112.5L119 88.1M47.5 106L124.5 66.2M46.07 97.25L49.65 104.48M54.14 93.26L61.73 108.61M62.2 89.27L73.57 112.25M70.27 85.28L81.53 108.02M78.34 81.28L89.48 103.8M86.4 77.29L97.43 99.57M94.47 73.3L105.38 95.34M102.53 69.31L113.33 91.12M44.17 98.19L46.08 100.63M47.69 96.45L49.54 98.91M51.21 94.71L53 97.19M54.72 92.97L56.45 95.48M58.24 91.23L59.91 93.76M61.75 89.49L63.36 92.05M65.27 87.75L66.82 90.33M68.79 86.01L70.28 88.61M72.3 84.27L73.73 86.9M75.82 82.53L77.19 85.18M79.33 80.79L80.64 83.47M82.85 79.05L84.1 81.75M86.37 77.31L87.56 80.03M89.88 75.57L91.01 78.32M93.4 73.83L94.47 76.6M96.91 72.09L97.92 74.89M100.43 70.35L101.38 73.17M103.95 68.61L104.84 71.45M107.46 66.87L108.29 69.74M110.98 65.13L111.75 68.02M114.49 63.39L115.2 66.31M118.01 61.65L118.66 64.59M121.53 59.91L122.12 62.87M125.04 58.17L125.57 61.16M120.5 58.5L120.5 82M126.9 57L126.9 80M120.5 60L126.9 80M120.3 72L107.3 119.5M123 74.6L110.9 120.77M125.7 77.2L114.5 122.05M128.4 79.8L118.1 123.32M119.78 73.9L127.99 81.54M118.74 77.7L127.16 85.02M117.7 81.5L126.34 88.5M116.66 85.3L125.52 91.98M115.62 89.1L124.69 95.46M114.58 92.9L123.87 98.94M113.54 96.7L123.04 102.42M112.5 100.5L122.22 105.9M111.46 104.3L121.4 109.38M110.42 108.1L120.57 112.86M109.38 111.9L119.75 116.34M108.34 115.7L118.92 119.82M107.3 119.5L118.1 123.3M137.5 65.1L120.5 127.3M144 66.3L127 130.2M140.75 65.7L123.75 128.75M137.5 65.1L144 66.3M136.39 69.16L142.89 70.47M135.28 73.23L141.78 74.65M134.17 77.29L140.67 78.82M133.06 81.35L139.56 83M131.95 85.42L138.45 87.17M130.84 89.48L137.34 91.35M129.73 93.55L136.23 95.52M128.61 97.61L135.11 99.7M127.5 101.67L134 103.87M126.39 105.74L132.89 108.05M125.28 109.8L131.78 112.22M124.17 113.86L130.67 116.4M123.06 117.93L129.56 120.57M121.95 121.99L128.45 124.75M120.84 126.06L127.34 128.92M127.2 58.5L138 64.6M126.9 62L137 67.5M183.4 82.9L188.2 78.8L219 88.9L247.5 97.4L266.2 104.7L257.5 121.3M261.8 123.5L270.6 106.1L291.9 114.2L296.3 115.6L313.9 126.6L305.8 138M183.4 82.9L246 117.5M184.5 81.6L237 110.6M207.3 86L204.6 92.5M219.3 89.6L214.9 97.9M238.6 97.4L233.6 108.6M252.5 101.3L245.2 115.9M235.8 103.6L248.6 108.6M249.2 108.9L261.6 113.4M292.72 114.22L284.42 134.02M295.48 115.38L287.18 135.18M292.06 115.79L294.83 116.95M290.74 118.92L293.51 120.08M289.43 122.06L292.2 123.22M288.12 125.19L290.88 126.35M286.8 128.33L289.57 129.49M285.49 131.47L288.25 132.63"/><path stroke-width="1.2" d="M202.17 84.81L206.62 87.27M192.52 81.63L205.85 89.02M205.08 90.76L190.3 82.57M209.01 86.75L205.92 93.07M211.23 87.44L207.97 94.13M213.45 88.13L210.01 95.18M215.67 88.82L212.06 96.24M217.89 89.52L214.1 97.29M234.47 97.01L238 98.96M226.62 94.83L237.2 100.69M236.39 102.42L220.21 93.45M235.59 104.15L219.28 95.1M234.79 105.87L218.35 96.76M233.99 107.6L217.42 98.42M240.42 98.15L234.51 109.26M242.66 98.84L236.48 110.46M244.89 99.53L238.44 111.66M247.13 100.22L240.41 112.85M249.37 100.92L242.38 114.05M251.6 101.61L244.35 115.25M254.33 102.22L246.74 116.5M256.6 102.85L248.88 117.37M258.87 103.48L251.03 118.24M261.14 104.11L253.17 119.1M263.41 104.74L255.31 119.97M265.68 105.37L257.46 120.84M275.13 108.43L290.64 115.33M289.91 117.2L270.04 108.35M289.18 119.06L269.16 110.15M288.45 120.93L268.27 111.94M287.73 122.79L267.39 113.74M287 124.66L266.51 115.54M286.27 126.52L265.63 117.33M285.54 128.39L264.74 119.13M284.82 130.26L263.86 120.93M284.09 132.12L262.98 122.72M283.36 133.99L275.05 130.29M303.93 120.94L296.46 117.3M312.59 127.39L295.58 119.1M311.45 129.06L294.7 120.89M310.31 130.73L293.83 122.69M309.17 132.4L292.95 124.49M308.02 134.06L292.07 126.28M306.88 135.73L291.19 128.08M305.74 137.4L290.31 129.88M298.9 136.29L289.43 131.67M291.29 134.8L288.56 133.47"/></g>
<path transform="translate(0 581.1)" fill="none" stroke="#fff" stroke-width="1.3" d="M139.18 83.82L123.98 129.12M142.02 84.78L126.82 130.08M138.51 85.81L141.35 86.77M137.17 89.8L140.02 90.75M135.84 93.78L138.68 94.73M134.5 97.76L137.35 98.71M133.17 101.74L136.01 102.7M131.83 105.72L134.67 106.68M130.49 109.7L133.34 110.66M129.16 113.69L132 114.64M127.82 117.67L130.67 118.62M126.49 121.65L129.33 122.6M125.15 125.63L127.99 126.59"/>
<text font-style="italic" font-size="18.8" stroke="#000" stroke-width="0.25" transform="translate(299.7 692.5) rotate(19.8)" textLength="47" lengthAdjust="spacingAndGlyphs">22307</text>
<text font-style="italic" font-size="18.8" stroke="#000" stroke-width="0.25" transform="translate(268.4 787.7) rotate(18.6)" textLength="47" lengthAdjust="spacingAndGlyphs">52304</text>
<rect x="37.2" y="787" width="185.4" height="22.6" fill="#fff"/>
<text x="38.5" y="804.4" font-size="19" stroke="#000" stroke-width="0.2" textLength="182.6" lengthAdjust="spacingAndGlyphs">12/13/2012-04/02/2013</text>
</g>
<rect x="37.2" y="618.2" width="314.7" height="191.4" fill="none" stroke="#000" stroke-width="1.7"/>
<path d="M353.35 36.3V616M670.5 36.3V616M36.4 229.45H987M36.4 422.85H987M36.4 616.7H352.6" stroke="#8f8f8f" stroke-width="1.3" fill="none"/>
<path d="M109.2 32.2V36.5M329.7 32.2V36.5M219.7 32.6V36.5M426.85 32.2V36.5M647.35 32.2V36.5M537.35 32.6V36.5M743.9 32.2V36.5M964.4 32.2V36.5M854.4 32.6V36.5" stroke="#000" stroke-width="1.8" fill="none"/>
<path d="M32.2 56.8H36.5M32.2 195.2H36.5M986.5 58.8H991.4M986.5 197.4H991.4M32.2 250.15H36.5M32.2 388.55H36.5M986.5 252.15H991.4M986.5 390.75H991.4M32.2 443.85H36.5M32.2 582.25H36.5M986.5 445.85H991.4M986.5 584.45H991.4M32.2 637.9H36.5M32.2 776.3H36.5" stroke="#000" stroke-width="1.8" fill="none"/>
<text x="43.7" y="29.6" font-size="18.6" textLength="99.2" lengthAdjust="spacingAndGlyphs">110°18′30″E</text>
<text x="257.3" y="29.6" font-size="18.6" textLength="99.2" lengthAdjust="spacingAndGlyphs">110°19′30″E</text>
<text x="361.35" y="29.6" font-size="18.6" textLength="99.2" lengthAdjust="spacingAndGlyphs">110°18′30″E</text>
<text x="574.95" y="29.6" font-size="18.6" textLength="99.2" lengthAdjust="spacingAndGlyphs">110°19′30″E</text>
<text x="678.4" y="29.6" font-size="18.6" textLength="99.2" lengthAdjust="spacingAndGlyphs">110°18′30″E</text>
<text x="892" y="29.6" font-size="18.6" textLength="99.2" lengthAdjust="spacingAndGlyphs">110°19′30″E</text>
<text transform="translate(29.8 121.8) rotate(-90)" font-size="18.6" textLength="87.7" lengthAdjust="spacingAndGlyphs">39°17′30″N</text>
<text transform="translate(29.8 222.5) rotate(-90)" font-size="18.6" textLength="80.4" lengthAdjust="spacingAndGlyphs">39°17′0″N</text>
<text transform="translate(1007.5 124.8) rotate(-90)" font-size="18.6" textLength="87.7" lengthAdjust="spacingAndGlyphs">39°17′30″N</text>
<text transform="translate(1007.5 225) rotate(-90)" font-size="18.6" textLength="80.4" lengthAdjust="spacingAndGlyphs">39°17′0″N</text>
<text transform="translate(29.8 315.15) rotate(-90)" font-size="18.6" textLength="87.7" lengthAdjust="spacingAndGlyphs">39°17′30″N</text>
<text transform="translate(29.8 415.85) rotate(-90)" font-size="18.6" textLength="80.4" lengthAdjust="spacingAndGlyphs">39°17′0″N</text>
<text transform="translate(1007.5 318.15) rotate(-90)" font-size="18.6" textLength="87.7" lengthAdjust="spacingAndGlyphs">39°17′30″N</text>
<text transform="translate(1007.5 418.35) rotate(-90)" font-size="18.6" textLength="80.4" lengthAdjust="spacingAndGlyphs">39°17′0″N</text>
<text transform="translate(29.8 508.85) rotate(-90)" font-size="18.6" textLength="87.7" lengthAdjust="spacingAndGlyphs">39°17′30″N</text>
<text transform="translate(29.8 609.55) rotate(-90)" font-size="18.6" textLength="80.4" lengthAdjust="spacingAndGlyphs">39°17′0″N</text>
<text transform="translate(1007.5 511.85) rotate(-90)" font-size="18.6" textLength="87.7" lengthAdjust="spacingAndGlyphs">39°17′30″N</text>
<text transform="translate(1007.5 612.05) rotate(-90)" font-size="18.6" textLength="80.4" lengthAdjust="spacingAndGlyphs">39°17′0″N</text>
<text transform="translate(29.8 702.9) rotate(-90)" font-size="18.6" textLength="87.7" lengthAdjust="spacingAndGlyphs">39°17′30″N</text>
<text transform="translate(29.8 803.6) rotate(-90)" font-size="18.6" textLength="80.4" lengthAdjust="spacingAndGlyphs">39°17′0″N</text>
<text x="365.4" y="652.8" font-size="23.2" textLength="272.6" lengthAdjust="spacingAndGlyphs">Vertical Displacement(mm)</text>
<rect x="366.7" y="681.2" width="21.2" height="10" fill="#ff0000" stroke="#6e7a4a" stroke-width="0.7"/>
<text x="392.1" y="691.6" font-size="18.6" textLength="54" lengthAdjust="spacingAndGlyphs">≤-4000</text>
<rect x="366.7" y="700.3" width="21.2" height="10" fill="#ff5000" stroke="#6e7a4a" stroke-width="0.7"/>
<text x="392.1" y="710.7" font-size="18.6" textLength="99.4" lengthAdjust="spacingAndGlyphs">-4000- -3500</text>
<rect x="495.1" y="681.2" width="21.2" height="10" fill="#ff8700" stroke="#6e7a4a" stroke-width="0.7"/>
<text x="520.5" y="691.6" font-size="18.6" textLength="100.4" lengthAdjust="spacingAndGlyphs">-3500- -3000</text>
<rect x="495.1" y="700.3" width="21.2" height="10" fill="#ffb400" stroke="#6e7a4a" stroke-width="0.7"/>
<text x="520.5" y="710.7" font-size="18.6" textLength="100.4" lengthAdjust="spacingAndGlyphs">-3000- -2500</text>
<rect x="624.4" y="681.2" width="21.2" height="10" fill="#ffe100" stroke="#6e7a4a" stroke-width="0.7"/>
<text x="649.8" y="691.6" font-size="18.6" textLength="99.4" lengthAdjust="spacingAndGlyphs">-2500- -2000</text>
<rect x="624.4" y="700.3" width="21.2" height="10" fill="#dcfa00" stroke="#6e7a4a" stroke-width="0.7"/>
<text x="649.8" y="710.7" font-size="18.6" textLength="99.4" lengthAdjust="spacingAndGlyphs">-2000- -1500</text>
<rect x="753.7" y="681.2" width="21.2" height="10" fill="#a0fa00" stroke="#6e7a4a" stroke-width="0.7"/>
<text x="779.1" y="691.6" font-size="18.6" textLength="99.6" lengthAdjust="spacingAndGlyphs">-1500- -1000</text>
<rect x="753.7" y="700.3" width="21.2" height="10" fill="#28fa00" stroke="#6e7a4a" stroke-width="0.7"/>
<text x="779.1" y="710.7" font-size="18.6" textLength="90.2" lengthAdjust="spacingAndGlyphs">-1000- -500</text>
<rect x="883.4" y="681.2" width="21.2" height="10" fill="#00f200" stroke="#6e7a4a" stroke-width="0.7"/>
<text x="908.8" y="691.6" font-size="18.6" textLength="54.8" lengthAdjust="spacingAndGlyphs">-500- 0</text>
<rect x="883.4" y="700.3" width="21.2" height="10" fill="#00f59e" stroke="#6e7a4a" stroke-width="0.7"/>
<text x="908.8" y="710.7" font-size="18.6" textLength="19.4" lengthAdjust="spacingAndGlyphs">≥0</text>
<rect x="632.5" y="762.4" width="274.4" height="11.6" rx="2" fill="#000"/>
<rect x="702.2" y="764.9" width="66" height="7" fill="#fff"/>
<text x="741.4" y="757.6" font-size="17.6" textLength="52.6" lengthAdjust="spacingAndGlyphs">Meters</text>
<text x="629.6" y="790.5" font-size="17.6" textLength="8.2" lengthAdjust="spacingAndGlyphs">0</text>
<text x="686.8" y="790.5" font-size="17.6" textLength="28.6" lengthAdjust="spacingAndGlyphs">500</text>
<text x="749.6" y="790.5" font-size="17.6" textLength="42.8" lengthAdjust="spacingAndGlyphs">1,000</text>
<text x="882.4" y="790.5" font-size="17.6" textLength="42.8" lengthAdjust="spacingAndGlyphs">2,000</text>
<text x="959.3" y="747.4" font-size="21.5" textLength="17.6" lengthAdjust="spacingAndGlyphs" style="font-family:'Liberation Sans',Arial,sans-serif">N</text>
<path d="M967.7 752.4L951.1 806L967.7 786.4Z" fill="#000"/>
<path d="M967.9 755.5L982.8 803.5L967.9 786Z" fill="#fff" stroke="#000" stroke-width="1.5" stroke-linejoin="miter"/>
</svg></body></html>
